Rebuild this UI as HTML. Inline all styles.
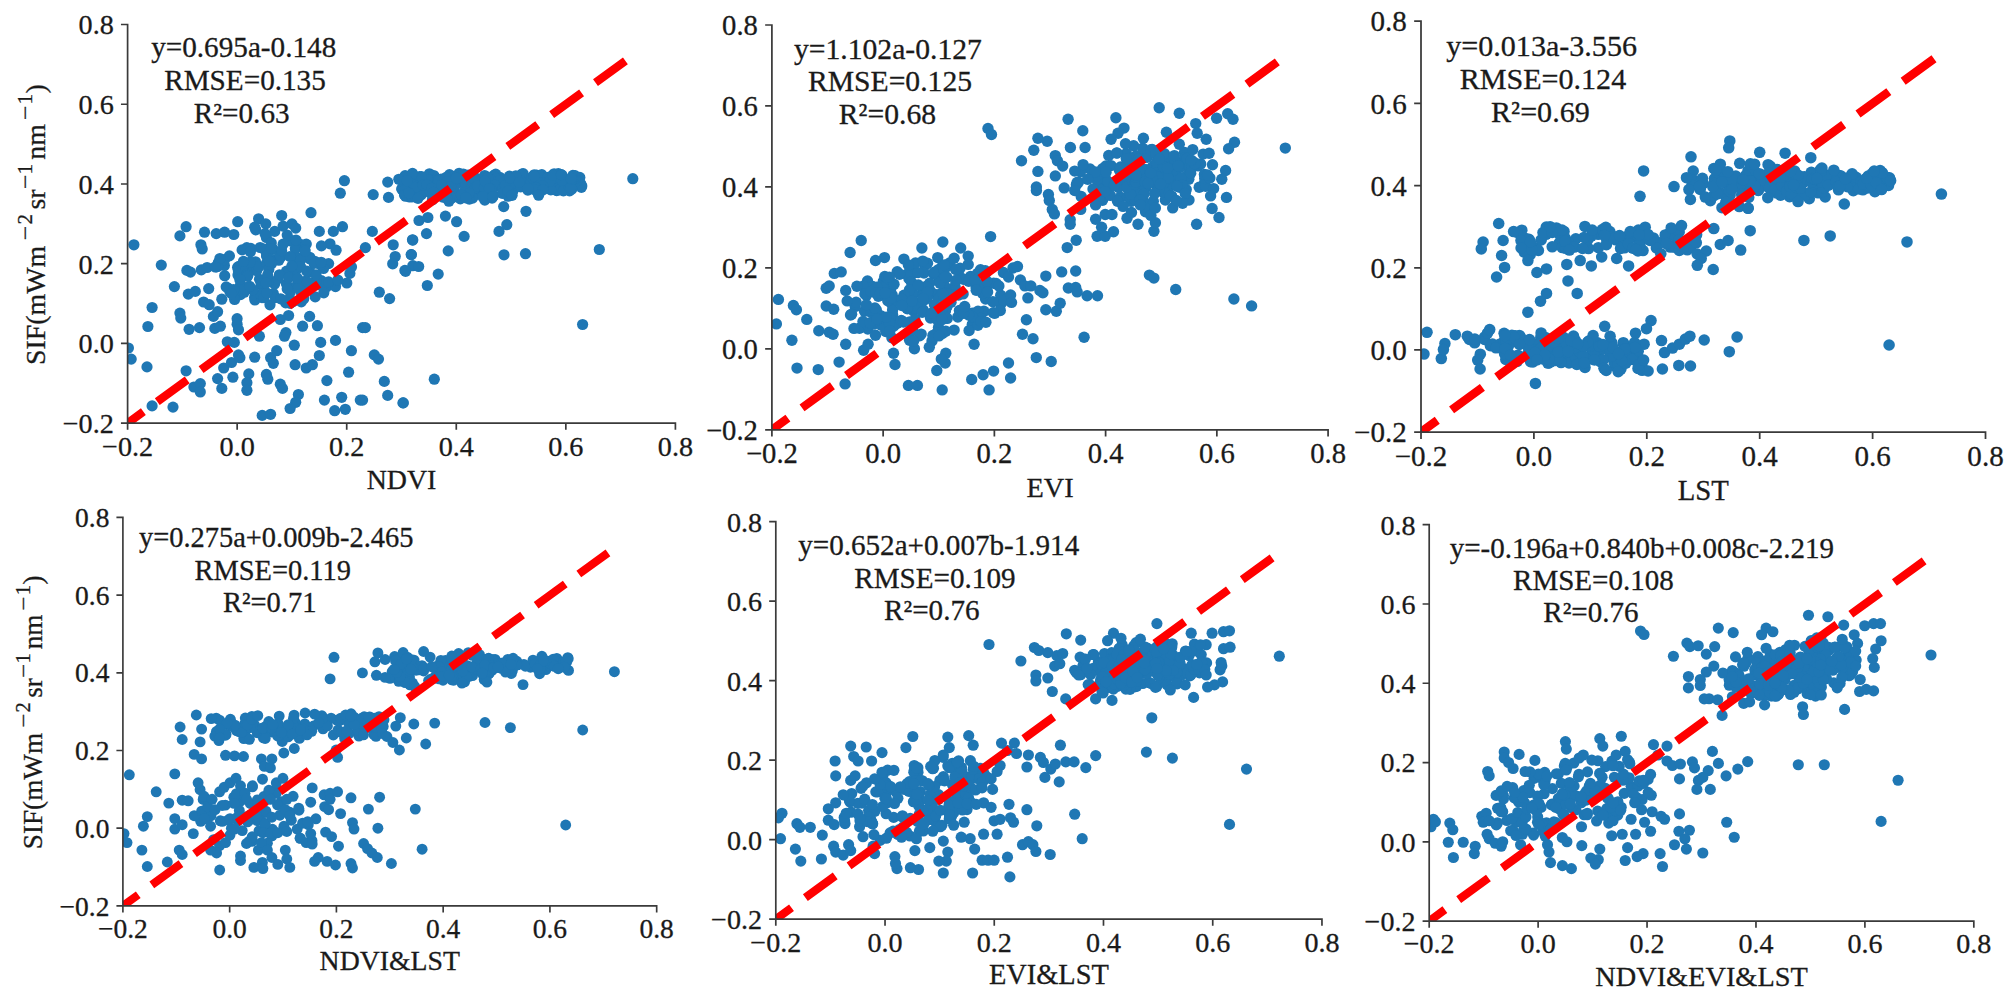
<!DOCTYPE html>
<html lang="en"><head><meta charset="utf-8"><title>SIF regression scatter plots</title>
<style>
html,body{margin:0;padding:0;background:#fff;}
body{width:2008px;height:1004px;overflow:hidden;}
svg{display:block;font-family:'Liberation Serif', 'Times New Roman', serif;fill:#1a1a1a;}
text{stroke:#1a1a1a;stroke-width:0.3px;}
</style></head><body>
<svg width="2008" height="1004" viewBox="0 0 2008 1004">
<rect width="2008" height="1004" fill="#fff"/>
<!-- panel 1 -->
<clipPath id="c0"><rect x="127.60" y="24.50" width="587.80" height="398.70"/></clipPath>
<g fill="#1f77b4" clip-path="url(#c0)"><circle cx="254.6" cy="297.4" r="5.60"/><circle cx="270.7" cy="260.7" r="5.60"/><circle cx="238.0" cy="275.0" r="5.60"/><circle cx="330.0" cy="243.8" r="5.60"/><circle cx="246.8" cy="247.6" r="5.60"/><circle cx="297.7" cy="245.7" r="5.60"/><circle cx="291.5" cy="240.7" r="5.60"/><circle cx="328.6" cy="263.6" r="5.60"/><circle cx="216.3" cy="266.9" r="5.60"/><circle cx="273.3" cy="293.5" r="5.60"/><circle cx="317.4" cy="284.7" r="5.60"/><circle cx="289.0" cy="274.4" r="5.60"/><circle cx="301.4" cy="292.5" r="5.60"/><circle cx="349.9" cy="273.4" r="5.60"/><circle cx="274.6" cy="284.0" r="5.60"/><circle cx="295.8" cy="259.7" r="5.60"/><circle cx="275.5" cy="259.6" r="5.60"/><circle cx="289.1" cy="273.4" r="5.60"/><circle cx="290.7" cy="288.7" r="5.60"/><circle cx="301.1" cy="244.7" r="5.60"/><circle cx="268.1" cy="252.1" r="5.60"/><circle cx="290.2" cy="240.8" r="5.60"/><circle cx="326.4" cy="287.0" r="5.60"/><circle cx="266.4" cy="237.5" r="5.60"/><circle cx="237.6" cy="267.4" r="5.60"/><circle cx="266.5" cy="253.0" r="5.60"/><circle cx="351.5" cy="267.0" r="5.60"/><circle cx="268.8" cy="280.8" r="5.60"/><circle cx="278.8" cy="260.2" r="5.60"/><circle cx="335.5" cy="286.6" r="5.60"/><circle cx="295.3" cy="248.7" r="5.60"/><circle cx="240.5" cy="294.6" r="5.60"/><circle cx="260.1" cy="247.5" r="5.60"/><circle cx="273.1" cy="249.3" r="5.60"/><circle cx="224.4" cy="265.5" r="5.60"/><circle cx="305.0" cy="281.3" r="5.60"/><circle cx="323.8" cy="292.8" r="5.60"/><circle cx="287.2" cy="235.1" r="5.60"/><circle cx="290.2" cy="303.4" r="5.60"/><circle cx="264.0" cy="249.0" r="5.60"/><circle cx="240.6" cy="284.2" r="5.60"/><circle cx="256.0" cy="268.4" r="5.60"/><circle cx="218.3" cy="262.8" r="5.60"/><circle cx="321.4" cy="280.7" r="5.60"/><circle cx="346.8" cy="283.0" r="5.60"/><circle cx="293.3" cy="275.7" r="5.60"/><circle cx="266.7" cy="256.3" r="5.60"/><circle cx="336.1" cy="250.2" r="5.60"/><circle cx="281.0" cy="256.7" r="5.60"/><circle cx="266.8" cy="255.9" r="5.60"/><circle cx="244.2" cy="292.2" r="5.60"/><circle cx="286.5" cy="283.9" r="5.60"/><circle cx="228.4" cy="288.4" r="5.60"/><circle cx="255.7" cy="268.7" r="5.60"/><circle cx="296.0" cy="240.0" r="5.60"/><circle cx="244.7" cy="289.0" r="5.60"/><circle cx="304.3" cy="256.0" r="5.60"/><circle cx="224.7" cy="275.7" r="5.60"/><circle cx="238.8" cy="266.4" r="5.60"/><circle cx="315.2" cy="296.9" r="5.60"/><circle cx="290.3" cy="292.3" r="5.60"/><circle cx="286.5" cy="271.1" r="5.60"/><circle cx="295.8" cy="270.4" r="5.60"/><circle cx="230.0" cy="291.8" r="5.60"/><circle cx="254.9" cy="300.0" r="5.60"/><circle cx="278.2" cy="278.6" r="5.60"/><circle cx="270.0" cy="304.8" r="5.60"/><circle cx="255.5" cy="261.8" r="5.60"/><circle cx="301.3" cy="301.8" r="5.60"/><circle cx="297.3" cy="284.7" r="5.60"/><circle cx="323.5" cy="268.5" r="5.60"/><circle cx="226.2" cy="286.9" r="5.60"/><circle cx="321.4" cy="245.9" r="5.60"/><circle cx="328.6" cy="281.9" r="5.60"/><circle cx="309.9" cy="272.1" r="5.60"/><circle cx="275.3" cy="297.6" r="5.60"/><circle cx="288.7" cy="299.4" r="5.60"/><circle cx="259.5" cy="279.3" r="5.60"/><circle cx="309.6" cy="258.7" r="5.60"/><circle cx="316.1" cy="280.5" r="5.60"/><circle cx="217.6" cy="266.5" r="5.60"/><circle cx="306.3" cy="244.1" r="5.60"/><circle cx="261.2" cy="285.0" r="5.60"/><circle cx="287.2" cy="288.8" r="5.60"/><circle cx="224.6" cy="259.6" r="5.60"/><circle cx="304.8" cy="249.7" r="5.60"/><circle cx="298.7" cy="284.9" r="5.60"/><circle cx="314.8" cy="261.3" r="5.60"/><circle cx="303.7" cy="298.7" r="5.60"/><circle cx="285.7" cy="302.9" r="5.60"/><circle cx="257.9" cy="267.9" r="5.60"/><circle cx="238.4" cy="270.9" r="5.60"/><circle cx="262.0" cy="297.6" r="5.60"/><circle cx="337.8" cy="280.0" r="5.60"/><circle cx="293.0" cy="301.5" r="5.60"/><circle cx="229.4" cy="255.9" r="5.60"/><circle cx="316.0" cy="274.8" r="5.60"/><circle cx="309.8" cy="257.3" r="5.60"/><circle cx="256.6" cy="270.8" r="5.60"/><circle cx="242.1" cy="249.9" r="5.60"/><circle cx="261.3" cy="283.9" r="5.60"/><circle cx="260.6" cy="294.4" r="5.60"/><circle cx="219.9" cy="258.5" r="5.60"/><circle cx="258.7" cy="266.4" r="5.60"/><circle cx="305.8" cy="289.6" r="5.60"/><circle cx="264.0" cy="297.6" r="5.60"/><circle cx="279.4" cy="274.8" r="5.60"/><circle cx="271.3" cy="242.9" r="5.60"/><circle cx="320.4" cy="264.7" r="5.60"/><circle cx="283.1" cy="226.1" r="5.60"/><circle cx="201.3" cy="269.9" r="5.60"/><circle cx="255.8" cy="229.9" r="5.60"/><circle cx="271.4" cy="263.8" r="5.60"/><circle cx="246.2" cy="269.1" r="5.60"/><circle cx="266.5" cy="263.3" r="5.60"/><circle cx="288.9" cy="277.3" r="5.60"/><circle cx="250.2" cy="262.2" r="5.60"/><circle cx="314.1" cy="263.4" r="5.60"/><circle cx="280.1" cy="255.2" r="5.60"/><circle cx="247.2" cy="274.1" r="5.60"/><circle cx="190.5" cy="272.1" r="5.60"/><circle cx="207.1" cy="267.5" r="5.60"/><circle cx="298.8" cy="287.7" r="5.60"/><circle cx="298.0" cy="257.8" r="5.60"/><circle cx="252.7" cy="289.9" r="5.60"/><circle cx="300.5" cy="260.3" r="5.60"/><circle cx="268.8" cy="269.4" r="5.60"/><circle cx="215.3" cy="267.0" r="5.60"/><circle cx="290.0" cy="256.5" r="5.60"/><circle cx="281.6" cy="250.8" r="5.60"/><circle cx="266.7" cy="292.9" r="5.60"/><circle cx="305.1" cy="251.1" r="5.60"/><circle cx="234.6" cy="299.5" r="5.60"/><circle cx="267.6" cy="275.2" r="5.60"/><circle cx="266.1" cy="283.0" r="5.60"/><circle cx="321.2" cy="262.3" r="5.60"/><circle cx="247.8" cy="275.3" r="5.60"/><circle cx="247.5" cy="276.3" r="5.60"/><circle cx="288.6" cy="315.5" r="5.60"/><circle cx="250.8" cy="248.4" r="5.60"/><circle cx="297.5" cy="278.4" r="5.60"/><circle cx="307.4" cy="282.1" r="5.60"/><circle cx="269.4" cy="261.3" r="5.60"/><circle cx="300.5" cy="266.6" r="5.60"/><circle cx="250.4" cy="251.7" r="5.60"/><circle cx="239.8" cy="279.4" r="5.60"/><circle cx="249.6" cy="286.3" r="5.60"/><circle cx="306.6" cy="271.1" r="5.60"/><circle cx="291.8" cy="266.2" r="5.60"/><circle cx="283.1" cy="244.2" r="5.60"/><circle cx="258.6" cy="218.8" r="5.60"/><circle cx="280.7" cy="298.8" r="5.60"/><circle cx="243.5" cy="261.3" r="5.60"/><circle cx="233.7" cy="289.6" r="5.60"/><circle cx="271.4" cy="248.5" r="5.60"/><circle cx="459.1" cy="173.3" r="5.60"/><circle cx="467.5" cy="177.8" r="5.60"/><circle cx="475.0" cy="188.3" r="5.60"/><circle cx="470.2" cy="183.3" r="5.60"/><circle cx="435.8" cy="184.7" r="5.60"/><circle cx="491.2" cy="178.9" r="5.60"/><circle cx="450.5" cy="177.4" r="5.60"/><circle cx="430.3" cy="192.9" r="5.60"/><circle cx="484.7" cy="175.5" r="5.60"/><circle cx="480.9" cy="187.3" r="5.60"/><circle cx="479.8" cy="184.9" r="5.60"/><circle cx="493.5" cy="175.6" r="5.60"/><circle cx="474.7" cy="194.8" r="5.60"/><circle cx="432.9" cy="192.5" r="5.60"/><circle cx="433.4" cy="191.7" r="5.60"/><circle cx="447.6" cy="185.6" r="5.60"/><circle cx="455.2" cy="192.5" r="5.60"/><circle cx="492.5" cy="183.8" r="5.60"/><circle cx="449.5" cy="192.8" r="5.60"/><circle cx="419.6" cy="176.7" r="5.60"/><circle cx="472.4" cy="177.6" r="5.60"/><circle cx="410.4" cy="194.4" r="5.60"/><circle cx="475.2" cy="177.6" r="5.60"/><circle cx="419.2" cy="180.9" r="5.60"/><circle cx="411.0" cy="187.5" r="5.60"/><circle cx="429.4" cy="173.8" r="5.60"/><circle cx="405.1" cy="175.7" r="5.60"/><circle cx="451.3" cy="195.0" r="5.60"/><circle cx="493.2" cy="196.0" r="5.60"/><circle cx="441.1" cy="194.9" r="5.60"/><circle cx="469.7" cy="194.5" r="5.60"/><circle cx="422.3" cy="179.6" r="5.60"/><circle cx="433.8" cy="175.5" r="5.60"/><circle cx="432.4" cy="180.1" r="5.60"/><circle cx="405.3" cy="186.0" r="5.60"/><circle cx="401.9" cy="189.2" r="5.60"/><circle cx="429.0" cy="179.6" r="5.60"/><circle cx="443.6" cy="180.6" r="5.60"/><circle cx="406.2" cy="184.3" r="5.60"/><circle cx="421.2" cy="194.9" r="5.60"/><circle cx="468.8" cy="185.4" r="5.60"/><circle cx="417.2" cy="180.5" r="5.60"/><circle cx="440.7" cy="192.6" r="5.60"/><circle cx="482.9" cy="187.5" r="5.60"/><circle cx="427.8" cy="179.6" r="5.60"/><circle cx="488.3" cy="183.5" r="5.60"/><circle cx="468.4" cy="195.4" r="5.60"/><circle cx="413.7" cy="185.0" r="5.60"/><circle cx="465.1" cy="189.7" r="5.60"/><circle cx="424.3" cy="190.7" r="5.60"/><circle cx="408.0" cy="186.1" r="5.60"/><circle cx="462.5" cy="182.1" r="5.60"/><circle cx="431.8" cy="186.6" r="5.60"/><circle cx="416.5" cy="190.1" r="5.60"/><circle cx="444.6" cy="179.0" r="5.60"/><circle cx="468.3" cy="175.2" r="5.60"/><circle cx="405.6" cy="196.2" r="5.60"/><circle cx="472.7" cy="196.0" r="5.60"/><circle cx="492.5" cy="194.8" r="5.60"/><circle cx="430.4" cy="192.2" r="5.60"/><circle cx="444.4" cy="194.2" r="5.60"/><circle cx="401.9" cy="188.8" r="5.60"/><circle cx="421.5" cy="176.6" r="5.60"/><circle cx="441.2" cy="179.0" r="5.60"/><circle cx="452.9" cy="176.4" r="5.60"/><circle cx="409.0" cy="196.8" r="5.60"/><circle cx="464.6" cy="175.3" r="5.60"/><circle cx="433.1" cy="188.9" r="5.60"/><circle cx="455.1" cy="184.9" r="5.60"/><circle cx="471.6" cy="196.0" r="5.60"/><circle cx="415.1" cy="187.4" r="5.60"/><circle cx="438.0" cy="180.2" r="5.60"/><circle cx="450.6" cy="184.2" r="5.60"/><circle cx="490.3" cy="191.5" r="5.60"/><circle cx="484.0" cy="191.4" r="5.60"/><circle cx="481.9" cy="178.9" r="5.60"/><circle cx="438.7" cy="180.7" r="5.60"/><circle cx="483.5" cy="185.6" r="5.60"/><circle cx="494.5" cy="186.6" r="5.60"/><circle cx="486.2" cy="183.3" r="5.60"/><circle cx="446.2" cy="197.8" r="5.60"/><circle cx="436.0" cy="191.6" r="5.60"/><circle cx="412.5" cy="173.4" r="5.60"/><circle cx="404.5" cy="190.3" r="5.60"/><circle cx="443.7" cy="186.2" r="5.60"/><circle cx="449.5" cy="174.6" r="5.60"/><circle cx="442.7" cy="197.1" r="5.60"/><circle cx="474.1" cy="178.9" r="5.60"/><circle cx="422.9" cy="185.0" r="5.60"/><circle cx="448.9" cy="201.2" r="5.60"/><circle cx="478.7" cy="188.0" r="5.60"/><circle cx="450.8" cy="186.8" r="5.60"/><circle cx="468.4" cy="195.9" r="5.60"/><circle cx="475.3" cy="187.9" r="5.60"/><circle cx="454.7" cy="186.3" r="5.60"/><circle cx="446.3" cy="177.3" r="5.60"/><circle cx="404.5" cy="195.0" r="5.60"/><circle cx="477.5" cy="185.9" r="5.60"/><circle cx="411.7" cy="197.0" r="5.60"/><circle cx="418.0" cy="198.3" r="5.60"/><circle cx="408.7" cy="193.0" r="5.60"/><circle cx="427.0" cy="184.6" r="5.60"/><circle cx="455.2" cy="179.1" r="5.60"/><circle cx="472.6" cy="198.1" r="5.60"/><circle cx="459.8" cy="177.1" r="5.60"/><circle cx="469.3" cy="199.1" r="5.60"/><circle cx="431.8" cy="188.3" r="5.60"/><circle cx="447.1" cy="181.6" r="5.60"/><circle cx="463.4" cy="174.0" r="5.60"/><circle cx="441.6" cy="185.0" r="5.60"/><circle cx="530.1" cy="183.7" r="5.60"/><circle cx="545.9" cy="181.3" r="5.60"/><circle cx="501.8" cy="185.8" r="5.60"/><circle cx="555.2" cy="179.1" r="5.60"/><circle cx="561.8" cy="175.1" r="5.60"/><circle cx="511.3" cy="181.9" r="5.60"/><circle cx="519.5" cy="182.5" r="5.60"/><circle cx="503.3" cy="188.9" r="5.60"/><circle cx="495.7" cy="174.1" r="5.60"/><circle cx="501.3" cy="181.1" r="5.60"/><circle cx="558.4" cy="173.7" r="5.60"/><circle cx="555.3" cy="176.3" r="5.60"/><circle cx="510.9" cy="183.8" r="5.60"/><circle cx="538.8" cy="190.9" r="5.60"/><circle cx="537.0" cy="177.8" r="5.60"/><circle cx="520.3" cy="186.2" r="5.60"/><circle cx="512.2" cy="187.1" r="5.60"/><circle cx="581.4" cy="187.3" r="5.60"/><circle cx="537.7" cy="182.5" r="5.60"/><circle cx="556.6" cy="190.6" r="5.60"/><circle cx="580.7" cy="183.7" r="5.60"/><circle cx="569.1" cy="187.9" r="5.60"/><circle cx="514.9" cy="176.6" r="5.60"/><circle cx="578.1" cy="181.7" r="5.60"/><circle cx="499.8" cy="177.3" r="5.60"/><circle cx="535.8" cy="187.4" r="5.60"/><circle cx="508.6" cy="190.4" r="5.60"/><circle cx="501.0" cy="184.5" r="5.60"/><circle cx="552.2" cy="182.4" r="5.60"/><circle cx="536.6" cy="175.2" r="5.60"/><circle cx="524.3" cy="177.4" r="5.60"/><circle cx="522.0" cy="174.0" r="5.60"/><circle cx="554.1" cy="173.8" r="5.60"/><circle cx="564.0" cy="189.9" r="5.60"/><circle cx="503.5" cy="187.1" r="5.60"/><circle cx="485.5" cy="176.6" r="5.60"/><circle cx="534.1" cy="175.5" r="5.60"/><circle cx="501.6" cy="179.8" r="5.60"/><circle cx="576.2" cy="184.1" r="5.60"/><circle cx="527.1" cy="183.0" r="5.60"/><circle cx="560.0" cy="189.0" r="5.60"/><circle cx="523.2" cy="173.7" r="5.60"/><circle cx="562.2" cy="176.3" r="5.60"/><circle cx="527.8" cy="190.1" r="5.60"/><circle cx="581.8" cy="186.0" r="5.60"/><circle cx="557.2" cy="182.6" r="5.60"/><circle cx="543.6" cy="187.5" r="5.60"/><circle cx="579.8" cy="177.4" r="5.60"/><circle cx="494.8" cy="176.9" r="5.60"/><circle cx="555.0" cy="178.4" r="5.60"/><circle cx="495.2" cy="178.4" r="5.60"/><circle cx="570.8" cy="180.7" r="5.60"/><circle cx="499.5" cy="180.7" r="5.60"/><circle cx="534.2" cy="174.8" r="5.60"/><circle cx="485.1" cy="190.9" r="5.60"/><circle cx="574.0" cy="177.7" r="5.60"/><circle cx="568.9" cy="185.1" r="5.60"/><circle cx="512.9" cy="191.0" r="5.60"/><circle cx="541.8" cy="174.6" r="5.60"/><circle cx="568.1" cy="180.9" r="5.60"/><circle cx="530.7" cy="187.0" r="5.60"/><circle cx="505.3" cy="188.3" r="5.60"/><circle cx="572.9" cy="175.4" r="5.60"/><circle cx="575.0" cy="175.6" r="5.60"/><circle cx="490.3" cy="179.3" r="5.60"/><circle cx="540.3" cy="176.2" r="5.60"/><circle cx="543.5" cy="183.7" r="5.60"/><circle cx="509.8" cy="186.4" r="5.60"/><circle cx="576.9" cy="180.8" r="5.60"/><circle cx="559.4" cy="189.8" r="5.60"/><circle cx="539.7" cy="182.5" r="5.60"/><circle cx="575.2" cy="181.7" r="5.60"/><circle cx="569.6" cy="190.8" r="5.60"/><circle cx="531.9" cy="177.4" r="5.60"/><circle cx="486.3" cy="177.7" r="5.60"/><circle cx="548.1" cy="177.4" r="5.60"/><circle cx="530.3" cy="188.9" r="5.60"/><circle cx="487.3" cy="182.4" r="5.60"/><circle cx="565.0" cy="184.0" r="5.60"/><circle cx="487.8" cy="178.0" r="5.60"/><circle cx="563.4" cy="190.8" r="5.60"/><circle cx="534.1" cy="176.0" r="5.60"/><circle cx="494.6" cy="185.1" r="5.60"/><circle cx="571.9" cy="189.0" r="5.60"/><circle cx="520.4" cy="184.1" r="5.60"/><circle cx="484.4" cy="188.0" r="5.60"/><circle cx="502.7" cy="188.9" r="5.60"/><circle cx="523.8" cy="184.2" r="5.60"/><circle cx="574.7" cy="179.3" r="5.60"/><circle cx="550.8" cy="189.9" r="5.60"/><circle cx="573.3" cy="179.2" r="5.60"/><circle cx="509.4" cy="176.1" r="5.60"/><circle cx="549.9" cy="181.2" r="5.60"/><circle cx="553.0" cy="175.2" r="5.60"/><circle cx="542.7" cy="185.7" r="5.60"/><circle cx="569.4" cy="187.5" r="5.60"/><circle cx="514.9" cy="178.4" r="5.60"/><circle cx="520.4" cy="180.8" r="5.60"/><circle cx="505.4" cy="185.4" r="5.60"/><circle cx="570.7" cy="187.7" r="5.60"/><circle cx="515.8" cy="175.9" r="5.60"/><circle cx="561.9" cy="180.3" r="5.60"/><circle cx="535.9" cy="187.9" r="5.60"/><circle cx="509.7" cy="178.1" r="5.60"/><circle cx="561.4" cy="174.6" r="5.60"/><circle cx="572.0" cy="179.3" r="5.60"/><circle cx="535.2" cy="190.0" r="5.60"/><circle cx="571.0" cy="178.4" r="5.60"/><circle cx="520.7" cy="186.9" r="5.60"/><circle cx="519.3" cy="182.4" r="5.60"/><circle cx="484.8" cy="200.1" r="5.60"/><circle cx="490.9" cy="189.0" r="5.60"/><circle cx="450.7" cy="186.5" r="5.60"/><circle cx="492.1" cy="198.1" r="5.60"/><circle cx="469.2" cy="193.3" r="5.60"/><circle cx="485.0" cy="181.1" r="5.60"/><circle cx="528.1" cy="188.5" r="5.60"/><circle cx="456.4" cy="178.2" r="5.60"/><circle cx="433.5" cy="192.3" r="5.60"/><circle cx="508.1" cy="196.2" r="5.60"/><circle cx="452.3" cy="197.9" r="5.60"/><circle cx="460.3" cy="198.8" r="5.60"/><circle cx="491.3" cy="196.7" r="5.60"/><circle cx="461.4" cy="194.8" r="5.60"/><circle cx="489.4" cy="188.5" r="5.60"/><circle cx="502.3" cy="193.4" r="5.60"/><circle cx="543.0" cy="189.9" r="5.60"/><circle cx="446.0" cy="193.5" r="5.60"/><circle cx="508.1" cy="191.1" r="5.60"/><circle cx="482.8" cy="196.7" r="5.60"/><circle cx="492.8" cy="196.6" r="5.60"/><circle cx="447.0" cy="198.1" r="5.60"/><circle cx="432.5" cy="199.7" r="5.60"/><circle cx="512.1" cy="195.3" r="5.60"/><circle cx="465.9" cy="197.8" r="5.60"/><circle cx="133.9" cy="244.8" r="5.60"/><circle cx="161.3" cy="265.1" r="5.60"/><circle cx="174.4" cy="286.6" r="5.60"/><circle cx="186.9" cy="270.4" r="5.60"/><circle cx="186.1" cy="226.7" r="5.60"/><circle cx="179.9" cy="235.9" r="5.60"/><circle cx="152.1" cy="307.5" r="5.60"/><circle cx="147.9" cy="326.5" r="5.60"/><circle cx="128.4" cy="348.0" r="5.60"/><circle cx="131.2" cy="359.1" r="5.60"/><circle cx="147.0" cy="366.9" r="5.60"/><circle cx="186.1" cy="370.8" r="5.60"/><circle cx="152.1" cy="405.9" r="5.60"/><circle cx="173.0" cy="407.1" r="5.60"/><circle cx="193.9" cy="387.0" r="5.60"/><circle cx="200.3" cy="383.6" r="5.60"/><circle cx="200.3" cy="392.0" r="5.60"/><circle cx="179.9" cy="313.1" r="5.60"/><circle cx="180.8" cy="318.1" r="5.60"/><circle cx="188.3" cy="294.1" r="5.60"/><circle cx="195.3" cy="291.4" r="5.60"/><circle cx="189.1" cy="329.3" r="5.60"/><circle cx="199.5" cy="327.6" r="5.60"/><circle cx="208.7" cy="288.6" r="5.60"/><circle cx="203.6" cy="302.0" r="5.60"/><circle cx="209.2" cy="304.7" r="5.60"/><circle cx="213.4" cy="316.4" r="5.60"/><circle cx="217.6" cy="311.7" r="5.60"/><circle cx="214.8" cy="328.4" r="5.60"/><circle cx="220.4" cy="326.2" r="5.60"/><circle cx="221.8" cy="299.2" r="5.60"/><circle cx="231.5" cy="293.6" r="5.60"/><circle cx="204.5" cy="232.2" r="5.60"/><circle cx="200.9" cy="244.8" r="5.60"/><circle cx="202.2" cy="249.0" r="5.60"/><circle cx="216.2" cy="233.6" r="5.60"/><circle cx="224.6" cy="232.2" r="5.60"/><circle cx="233.8" cy="234.5" r="5.60"/><circle cx="237.7" cy="221.7" r="5.60"/><circle cx="254.7" cy="227.2" r="5.60"/><circle cx="265.8" cy="223.9" r="5.60"/><circle cx="274.7" cy="231.4" r="5.60"/><circle cx="265.0" cy="233.6" r="5.60"/><circle cx="281.7" cy="215.5" r="5.60"/><circle cx="292.0" cy="223.9" r="5.60"/><circle cx="295.7" cy="228.1" r="5.60"/><circle cx="311.0" cy="212.7" r="5.60"/><circle cx="319.3" cy="231.4" r="5.60"/><circle cx="333.3" cy="231.4" r="5.60"/><circle cx="342.5" cy="226.7" r="5.60"/><circle cx="344.4" cy="180.7" r="5.60"/><circle cx="340.3" cy="193.2" r="5.60"/><circle cx="373.2" cy="194.6" r="5.60"/><circle cx="387.7" cy="182.1" r="5.60"/><circle cx="388.5" cy="197.4" r="5.60"/><circle cx="398.8" cy="179.3" r="5.60"/><circle cx="407.2" cy="180.7" r="5.60"/><circle cx="372.3" cy="231.4" r="5.60"/><circle cx="365.4" cy="247.6" r="5.60"/><circle cx="412.8" cy="240.1" r="5.60"/><circle cx="393.2" cy="244.8" r="5.60"/><circle cx="395.2" cy="256.5" r="5.60"/><circle cx="392.7" cy="263.8" r="5.60"/><circle cx="411.4" cy="254.6" r="5.60"/><circle cx="404.9" cy="270.4" r="5.60"/><circle cx="412.8" cy="265.7" r="5.60"/><circle cx="379.3" cy="292.2" r="5.60"/><circle cx="389.6" cy="298.6" r="5.60"/><circle cx="362.6" cy="327.6" r="5.60"/><circle cx="365.4" cy="327.6" r="5.60"/><circle cx="335.5" cy="340.4" r="5.60"/><circle cx="320.7" cy="342.4" r="5.60"/><circle cx="319.3" cy="355.5" r="5.60"/><circle cx="351.4" cy="350.7" r="5.60"/><circle cx="374.3" cy="354.9" r="5.60"/><circle cx="378.5" cy="359.1" r="5.60"/><circle cx="348.6" cy="372.2" r="5.60"/><circle cx="326.9" cy="380.6" r="5.60"/><circle cx="384.3" cy="381.4" r="5.60"/><circle cx="387.7" cy="395.4" r="5.60"/><circle cx="403.0" cy="402.9" r="5.60"/><circle cx="360.3" cy="400.1" r="5.60"/><circle cx="362.6" cy="400.1" r="5.60"/><circle cx="341.7" cy="397.3" r="5.60"/><circle cx="324.4" cy="400.1" r="5.60"/><circle cx="334.7" cy="410.7" r="5.60"/><circle cx="345.3" cy="409.3" r="5.60"/><circle cx="298.4" cy="394.5" r="5.60"/><circle cx="295.7" cy="402.3" r="5.60"/><circle cx="290.1" cy="408.5" r="5.60"/><circle cx="262.2" cy="415.4" r="5.60"/><circle cx="270.6" cy="414.3" r="5.60"/><circle cx="280.3" cy="384.2" r="5.60"/><circle cx="282.5" cy="388.4" r="5.60"/><circle cx="266.4" cy="374.4" r="5.60"/><circle cx="267.8" cy="379.2" r="5.60"/><circle cx="248.8" cy="373.9" r="5.60"/><circle cx="246.9" cy="382.8" r="5.60"/><circle cx="246.9" cy="390.3" r="5.60"/><circle cx="232.9" cy="377.2" r="5.60"/><circle cx="221.8" cy="388.4" r="5.60"/><circle cx="217.6" cy="378.6" r="5.60"/><circle cx="223.7" cy="368.0" r="5.60"/><circle cx="231.5" cy="362.5" r="5.60"/><circle cx="239.9" cy="357.7" r="5.60"/><circle cx="238.5" cy="354.9" r="5.60"/><circle cx="254.7" cy="357.2" r="5.60"/><circle cx="270.6" cy="357.7" r="5.60"/><circle cx="273.3" cy="363.3" r="5.60"/><circle cx="276.7" cy="350.7" r="5.60"/><circle cx="294.3" cy="345.2" r="5.60"/><circle cx="295.1" cy="364.7" r="5.60"/><circle cx="306.2" cy="368.0" r="5.60"/><circle cx="312.4" cy="364.7" r="5.60"/><circle cx="285.9" cy="332.6" r="5.60"/><circle cx="284.5" cy="336.2" r="5.60"/><circle cx="302.6" cy="326.2" r="5.60"/><circle cx="309.6" cy="316.4" r="5.60"/><circle cx="317.4" cy="325.7" r="5.60"/><circle cx="280.3" cy="319.5" r="5.60"/><circle cx="259.4" cy="336.2" r="5.60"/><circle cx="237.1" cy="318.7" r="5.60"/><circle cx="237.1" cy="324.3" r="5.60"/><circle cx="238.5" cy="329.8" r="5.60"/><circle cx="227.3" cy="341.8" r="5.60"/><circle cx="234.3" cy="342.4" r="5.60"/><circle cx="632.8" cy="178.7" r="5.60"/><circle cx="599.3" cy="249.5" r="5.60"/><circle cx="582.6" cy="324.5" r="5.60"/><circle cx="434.3" cy="379.2" r="5.60"/><circle cx="403.3" cy="402.9" r="5.60"/><circle cx="525.5" cy="253.7" r="5.60"/><circle cx="504.0" cy="254.8" r="5.60"/><circle cx="448.2" cy="250.9" r="5.60"/><circle cx="464.1" cy="236.4" r="5.60"/><circle cx="499.0" cy="231.4" r="5.60"/><circle cx="506.8" cy="224.7" r="5.60"/><circle cx="526.0" cy="211.3" r="5.60"/><circle cx="456.6" cy="221.7" r="5.60"/><circle cx="445.4" cy="216.1" r="5.60"/><circle cx="426.5" cy="233.6" r="5.60"/><circle cx="412.5" cy="239.8" r="5.60"/><circle cx="411.2" cy="254.6" r="5.60"/><circle cx="418.7" cy="266.5" r="5.60"/><circle cx="405.6" cy="271.3" r="5.60"/><circle cx="438.2" cy="274.1" r="5.60"/><circle cx="427.3" cy="285.5" r="5.60"/><circle cx="419.0" cy="220.5" r="5.60"/><circle cx="427.9" cy="217.5" r="5.60"/><circle cx="538.6" cy="195.2" r="5.60"/><circle cx="503.7" cy="206.6" r="5.60"/></g>
<path d="M113.45 433.50L143.37 411.73M157.27 401.60L187.19 379.83M201.09 369.71L231.01 347.94M244.92 337.81L274.83 316.04M288.74 305.92L318.65 284.15M332.56 274.03L362.48 252.25M376.38 242.13L406.30 220.36M420.21 210.24L450.12 188.46M464.03 178.34L493.94 156.57M507.85 146.45L537.76 124.67M551.67 114.55L581.59 92.78M595.49 82.66L625.41 60.88" stroke="#ff0000" stroke-width="8.30" fill="none" clip-path="url(#c0)"/>
<path d="M127.60 24.50L127.60 423.20L675.40 423.20M127.60 423.20L127.60 429.00M127.60 423.20L121.80 423.20M237.16 423.20L237.16 429.00M127.60 343.46L121.80 343.46M346.72 423.20L346.72 429.00M127.60 263.72L121.80 263.72M456.28 423.20L456.28 429.00M127.60 183.98L121.80 183.98M565.84 423.20L565.84 429.00M127.60 104.24L121.80 104.24M675.40 423.20L675.40 429.00M127.60 24.50L121.80 24.50" stroke="#3a3a3a" stroke-width="1.70" fill="none" stroke-linecap="square"/>
<g font-size="28.20"><text transform="translate(127.60 455.70) scale(1.000 1)" text-anchor="middle">−0.2</text><text transform="translate(113.80 433.10) scale(1.000 1)" text-anchor="end">−0.2</text><text transform="translate(237.16 455.70) scale(1.000 1)" text-anchor="middle">0.0</text><text transform="translate(113.80 353.36) scale(1.000 1)" text-anchor="end">0.0</text><text transform="translate(346.72 455.70) scale(1.000 1)" text-anchor="middle">0.2</text><text transform="translate(113.80 273.62) scale(1.000 1)" text-anchor="end">0.2</text><text transform="translate(456.28 455.70) scale(1.000 1)" text-anchor="middle">0.4</text><text transform="translate(113.80 193.88) scale(1.000 1)" text-anchor="end">0.4</text><text transform="translate(565.84 455.70) scale(1.000 1)" text-anchor="middle">0.6</text><text transform="translate(113.80 114.14) scale(1.000 1)" text-anchor="end">0.6</text><text transform="translate(675.40 455.70) scale(1.000 1)" text-anchor="middle">0.8</text><text transform="translate(113.80 34.40) scale(1.000 1)" text-anchor="end">0.8</text></g>
<text transform="translate(401.50 489.20) scale(1.000 1)" text-anchor="middle" font-size="27.90">NDVI</text>
<text transform="translate(44.60 365.00) rotate(-90)" font-size="27.90">SIF(mWm</text><text transform="translate(32.30 240.20) rotate(-90) scale(1.2 1)" font-size="21.00">−</text><text transform="translate(32.30 224.60) rotate(-90)" font-size="21.00">2</text><text transform="translate(44.60 209.60) rotate(-90)" font-size="27.90">sr</text><text transform="translate(32.30 189.00) rotate(-90) scale(1.2 1)" font-size="21.00">−</text><text transform="translate(32.30 174.40) rotate(-90)" font-size="21.00">1</text><text transform="translate(44.60 159.80) rotate(-90)" font-size="27.90">nm</text><text transform="translate(32.30 120.00) rotate(-90) scale(1.2 1)" font-size="21.00">−</text><text transform="translate(32.30 104.50) rotate(-90)" font-size="21.00">1</text><text transform="translate(44.60 93.40) rotate(-90)" font-size="27.90">)</text>
<text transform="translate(243.70 56.50) scale(1.000 1)" text-anchor="middle" font-size="29.20">y=0.695a-0.148</text>
<text transform="translate(245.00 90.00) scale(1.000 1)" text-anchor="middle" font-size="29.20">RMSE=0.135</text>
<text transform="translate(241.70 122.80) scale(1.000 1)" text-anchor="middle" font-size="29.20">R²=0.63</text>
<!-- panel 2 -->
<clipPath id="c1"><rect x="771.90" y="25.00" width="596.18" height="404.80"/></clipPath>
<g fill="#1f77b4" clip-path="url(#c1)"><circle cx="993.7" cy="283.2" r="5.69"/><circle cx="972.3" cy="324.6" r="5.69"/><circle cx="946.5" cy="306.7" r="5.69"/><circle cx="867.0" cy="285.6" r="5.69"/><circle cx="897.3" cy="323.2" r="5.69"/><circle cx="880.6" cy="315.6" r="5.69"/><circle cx="986.2" cy="286.8" r="5.69"/><circle cx="908.7" cy="336.0" r="5.69"/><circle cx="909.6" cy="340.2" r="5.69"/><circle cx="921.2" cy="334.1" r="5.69"/><circle cx="891.6" cy="303.8" r="5.69"/><circle cx="994.8" cy="313.2" r="5.69"/><circle cx="934.5" cy="304.4" r="5.69"/><circle cx="872.9" cy="287.1" r="5.69"/><circle cx="945.4" cy="310.8" r="5.69"/><circle cx="892.6" cy="314.8" r="5.69"/><circle cx="905.8" cy="306.4" r="5.69"/><circle cx="908.9" cy="278.6" r="5.69"/><circle cx="958.6" cy="295.1" r="5.69"/><circle cx="867.8" cy="329.1" r="5.69"/><circle cx="921.2" cy="302.9" r="5.69"/><circle cx="948.1" cy="265.8" r="5.69"/><circle cx="969.1" cy="330.6" r="5.69"/><circle cx="985.6" cy="299.0" r="5.69"/><circle cx="963.1" cy="293.9" r="5.69"/><circle cx="946.8" cy="277.2" r="5.69"/><circle cx="985.3" cy="270.7" r="5.69"/><circle cx="957.8" cy="317.0" r="5.69"/><circle cx="940.4" cy="295.7" r="5.69"/><circle cx="889.7" cy="281.2" r="5.69"/><circle cx="920.9" cy="306.7" r="5.69"/><circle cx="996.1" cy="283.4" r="5.69"/><circle cx="947.4" cy="289.5" r="5.69"/><circle cx="893.9" cy="326.0" r="5.69"/><circle cx="946.1" cy="318.0" r="5.69"/><circle cx="946.8" cy="307.0" r="5.69"/><circle cx="955.0" cy="286.2" r="5.69"/><circle cx="892.6" cy="309.9" r="5.69"/><circle cx="986.0" cy="272.7" r="5.69"/><circle cx="864.5" cy="311.2" r="5.69"/><circle cx="938.5" cy="327.4" r="5.69"/><circle cx="959.4" cy="310.5" r="5.69"/><circle cx="890.7" cy="288.9" r="5.69"/><circle cx="871.3" cy="312.5" r="5.69"/><circle cx="954.1" cy="330.1" r="5.69"/><circle cx="980.5" cy="269.7" r="5.69"/><circle cx="930.5" cy="318.0" r="5.69"/><circle cx="924.9" cy="265.4" r="5.69"/><circle cx="977.9" cy="325.3" r="5.69"/><circle cx="941.7" cy="293.3" r="5.69"/><circle cx="943.1" cy="309.2" r="5.69"/><circle cx="927.5" cy="263.3" r="5.69"/><circle cx="949.6" cy="263.0" r="5.69"/><circle cx="872.3" cy="310.1" r="5.69"/><circle cx="970.5" cy="276.5" r="5.69"/><circle cx="941.7" cy="306.3" r="5.69"/><circle cx="855.2" cy="306.4" r="5.69"/><circle cx="945.8" cy="331.2" r="5.69"/><circle cx="927.7" cy="290.8" r="5.69"/><circle cx="885.8" cy="331.6" r="5.69"/><circle cx="960.7" cy="277.8" r="5.69"/><circle cx="922.7" cy="291.4" r="5.69"/><circle cx="866.5" cy="295.2" r="5.69"/><circle cx="983.9" cy="311.3" r="5.69"/><circle cx="924.0" cy="273.1" r="5.69"/><circle cx="1000.8" cy="304.2" r="5.69"/><circle cx="972.3" cy="313.1" r="5.69"/><circle cx="964.1" cy="279.4" r="5.69"/><circle cx="978.0" cy="311.2" r="5.69"/><circle cx="941.8" cy="267.2" r="5.69"/><circle cx="951.0" cy="302.3" r="5.69"/><circle cx="874.1" cy="324.0" r="5.69"/><circle cx="980.6" cy="318.2" r="5.69"/><circle cx="856.1" cy="302.3" r="5.69"/><circle cx="944.6" cy="285.9" r="5.69"/><circle cx="915.5" cy="272.6" r="5.69"/><circle cx="867.5" cy="280.9" r="5.69"/><circle cx="1000.7" cy="295.2" r="5.69"/><circle cx="945.4" cy="309.9" r="5.69"/><circle cx="907.0" cy="274.3" r="5.69"/><circle cx="883.3" cy="281.5" r="5.69"/><circle cx="972.7" cy="317.3" r="5.69"/><circle cx="912.5" cy="330.0" r="5.69"/><circle cx="883.1" cy="288.2" r="5.69"/><circle cx="938.5" cy="269.6" r="5.69"/><circle cx="971.9" cy="316.5" r="5.69"/><circle cx="884.8" cy="276.4" r="5.69"/><circle cx="953.6" cy="294.9" r="5.69"/><circle cx="941.7" cy="274.8" r="5.69"/><circle cx="940.9" cy="274.7" r="5.69"/><circle cx="977.5" cy="273.5" r="5.69"/><circle cx="872.5" cy="286.4" r="5.69"/><circle cx="992.9" cy="301.8" r="5.69"/><circle cx="976.1" cy="287.1" r="5.69"/><circle cx="968.6" cy="315.0" r="5.69"/><circle cx="885.3" cy="322.6" r="5.69"/><circle cx="940.3" cy="294.8" r="5.69"/><circle cx="923.3" cy="310.3" r="5.69"/><circle cx="963.5" cy="313.3" r="5.69"/><circle cx="984.0" cy="283.5" r="5.69"/><circle cx="859.5" cy="328.2" r="5.69"/><circle cx="936.2" cy="294.8" r="5.69"/><circle cx="981.0" cy="321.6" r="5.69"/><circle cx="960.1" cy="268.2" r="5.69"/><circle cx="890.0" cy="317.9" r="5.69"/><circle cx="891.9" cy="337.7" r="5.69"/><circle cx="911.3" cy="273.7" r="5.69"/><circle cx="876.8" cy="287.3" r="5.69"/><circle cx="939.0" cy="280.3" r="5.69"/><circle cx="912.8" cy="300.9" r="5.69"/><circle cx="979.6" cy="272.4" r="5.69"/><circle cx="932.0" cy="341.0" r="5.69"/><circle cx="897.2" cy="271.7" r="5.69"/><circle cx="867.8" cy="325.3" r="5.69"/><circle cx="982.7" cy="293.4" r="5.69"/><circle cx="913.5" cy="311.1" r="5.69"/><circle cx="943.2" cy="307.2" r="5.69"/><circle cx="937.6" cy="310.7" r="5.69"/><circle cx="881.4" cy="325.2" r="5.69"/><circle cx="987.6" cy="291.9" r="5.69"/><circle cx="899.6" cy="274.2" r="5.69"/><circle cx="863.1" cy="286.1" r="5.69"/><circle cx="917.5" cy="303.2" r="5.69"/><circle cx="937.2" cy="332.6" r="5.69"/><circle cx="985.9" cy="322.2" r="5.69"/><circle cx="968.7" cy="281.3" r="5.69"/><circle cx="909.7" cy="321.9" r="5.69"/><circle cx="918.1" cy="272.6" r="5.69"/><circle cx="934.9" cy="313.0" r="5.69"/><circle cx="876.3" cy="320.5" r="5.69"/><circle cx="887.0" cy="277.6" r="5.69"/><circle cx="947.2" cy="318.4" r="5.69"/><circle cx="955.7" cy="269.6" r="5.69"/><circle cx="1000.3" cy="310.5" r="5.69"/><circle cx="974.8" cy="280.4" r="5.69"/><circle cx="986.7" cy="281.3" r="5.69"/><circle cx="863.0" cy="321.5" r="5.69"/><circle cx="942.4" cy="333.4" r="5.69"/><circle cx="1004.1" cy="300.5" r="5.69"/><circle cx="919.7" cy="335.8" r="5.69"/><circle cx="869.8" cy="323.0" r="5.69"/><circle cx="864.9" cy="294.1" r="5.69"/><circle cx="933.6" cy="273.6" r="5.69"/><circle cx="932.9" cy="335.5" r="5.69"/><circle cx="976.2" cy="290.3" r="5.69"/><circle cx="870.8" cy="291.4" r="5.69"/><circle cx="856.9" cy="286.3" r="5.69"/><circle cx="934.2" cy="272.3" r="5.69"/><circle cx="998.9" cy="286.0" r="5.69"/><circle cx="993.3" cy="312.8" r="5.69"/><circle cx="892.2" cy="295.0" r="5.69"/><circle cx="913.4" cy="294.0" r="5.69"/><circle cx="913.7" cy="308.3" r="5.69"/><circle cx="907.4" cy="308.7" r="5.69"/><circle cx="911.3" cy="282.0" r="5.69"/><circle cx="889.4" cy="323.1" r="5.69"/><circle cx="891.0" cy="297.4" r="5.69"/><circle cx="964.7" cy="306.5" r="5.69"/><circle cx="894.0" cy="284.3" r="5.69"/><circle cx="922.8" cy="295.5" r="5.69"/><circle cx="925.0" cy="299.6" r="5.69"/><circle cx="909.5" cy="289.7" r="5.69"/><circle cx="945.5" cy="292.7" r="5.69"/><circle cx="939.0" cy="335.9" r="5.69"/><circle cx="930.7" cy="291.5" r="5.69"/><circle cx="947.4" cy="293.6" r="5.69"/><circle cx="928.3" cy="294.2" r="5.69"/><circle cx="889.9" cy="330.6" r="5.69"/><circle cx="929.7" cy="283.3" r="5.69"/><circle cx="881.5" cy="295.1" r="5.69"/><circle cx="897.7" cy="300.9" r="5.69"/><circle cx="915.5" cy="262.9" r="5.69"/><circle cx="904.0" cy="295.3" r="5.69"/><circle cx="926.1" cy="286.4" r="5.69"/><circle cx="907.2" cy="308.3" r="5.69"/><circle cx="940.0" cy="283.2" r="5.69"/><circle cx="876.3" cy="310.0" r="5.69"/><circle cx="938.5" cy="321.5" r="5.69"/><circle cx="874.9" cy="308.0" r="5.69"/><circle cx="901.3" cy="320.5" r="5.69"/><circle cx="942.8" cy="294.1" r="5.69"/><circle cx="866.4" cy="304.7" r="5.69"/><circle cx="927.4" cy="296.7" r="5.69"/><circle cx="878.3" cy="296.3" r="5.69"/><circle cx="887.8" cy="300.8" r="5.69"/><circle cx="901.8" cy="299.3" r="5.69"/><circle cx="922.2" cy="312.3" r="5.69"/><circle cx="901.9" cy="299.2" r="5.69"/><circle cx="939.3" cy="313.6" r="5.69"/><circle cx="903.5" cy="322.0" r="5.69"/><circle cx="850.5" cy="315.0" r="5.69"/><circle cx="891.1" cy="298.0" r="5.69"/><circle cx="934.8" cy="315.4" r="5.69"/><circle cx="886.1" cy="317.1" r="5.69"/><circle cx="927.4" cy="292.3" r="5.69"/><circle cx="931.5" cy="313.3" r="5.69"/><circle cx="918.3" cy="284.9" r="5.69"/><circle cx="875.7" cy="293.0" r="5.69"/><circle cx="942.3" cy="319.6" r="5.69"/><circle cx="912.1" cy="301.1" r="5.69"/><circle cx="944.2" cy="270.0" r="5.69"/><circle cx="880.4" cy="292.9" r="5.69"/><circle cx="885.1" cy="293.0" r="5.69"/><circle cx="923.3" cy="298.4" r="5.69"/><circle cx="901.9" cy="305.5" r="5.69"/><circle cx="877.2" cy="318.9" r="5.69"/><circle cx="914.9" cy="319.7" r="5.69"/><circle cx="889.3" cy="277.1" r="5.69"/><circle cx="945.3" cy="277.0" r="5.69"/><circle cx="955.7" cy="280.5" r="5.69"/><circle cx="1184.8" cy="189.1" r="5.69"/><circle cx="1145.8" cy="187.4" r="5.69"/><circle cx="1168.1" cy="188.4" r="5.69"/><circle cx="1126.4" cy="153.5" r="5.69"/><circle cx="1146.9" cy="156.7" r="5.69"/><circle cx="1105.9" cy="186.5" r="5.69"/><circle cx="1144.0" cy="169.5" r="5.69"/><circle cx="1100.8" cy="179.7" r="5.69"/><circle cx="1173.9" cy="167.8" r="5.69"/><circle cx="1116.8" cy="152.9" r="5.69"/><circle cx="1163.5" cy="192.4" r="5.69"/><circle cx="1108.3" cy="190.8" r="5.69"/><circle cx="1137.1" cy="193.4" r="5.69"/><circle cx="1207.0" cy="175.7" r="5.69"/><circle cx="1102.5" cy="200.3" r="5.69"/><circle cx="1101.3" cy="197.9" r="5.69"/><circle cx="1107.0" cy="189.2" r="5.69"/><circle cx="1177.4" cy="180.5" r="5.69"/><circle cx="1184.5" cy="152.4" r="5.69"/><circle cx="1128.4" cy="185.1" r="5.69"/><circle cx="1110.3" cy="195.4" r="5.69"/><circle cx="1143.8" cy="180.4" r="5.69"/><circle cx="1139.9" cy="197.4" r="5.69"/><circle cx="1136.3" cy="155.8" r="5.69"/><circle cx="1135.0" cy="193.7" r="5.69"/><circle cx="1204.3" cy="183.7" r="5.69"/><circle cx="1126.9" cy="166.9" r="5.69"/><circle cx="1168.4" cy="182.2" r="5.69"/><circle cx="1171.7" cy="196.1" r="5.69"/><circle cx="1135.2" cy="194.9" r="5.69"/><circle cx="1100.0" cy="197.6" r="5.69"/><circle cx="1164.5" cy="153.8" r="5.69"/><circle cx="1144.7" cy="186.4" r="5.69"/><circle cx="1178.9" cy="178.4" r="5.69"/><circle cx="1161.8" cy="186.6" r="5.69"/><circle cx="1199.2" cy="187.2" r="5.69"/><circle cx="1090.0" cy="168.9" r="5.69"/><circle cx="1186.2" cy="189.6" r="5.69"/><circle cx="1104.8" cy="176.3" r="5.69"/><circle cx="1097.4" cy="190.3" r="5.69"/><circle cx="1152.1" cy="149.4" r="5.69"/><circle cx="1144.4" cy="156.1" r="5.69"/><circle cx="1141.1" cy="175.9" r="5.69"/><circle cx="1166.5" cy="166.1" r="5.69"/><circle cx="1076.4" cy="184.8" r="5.69"/><circle cx="1094.9" cy="174.4" r="5.69"/><circle cx="1131.4" cy="184.0" r="5.69"/><circle cx="1100.0" cy="178.5" r="5.69"/><circle cx="1159.9" cy="152.7" r="5.69"/><circle cx="1198.2" cy="165.9" r="5.69"/><circle cx="1129.3" cy="158.3" r="5.69"/><circle cx="1138.3" cy="172.4" r="5.69"/><circle cx="1165.3" cy="200.0" r="5.69"/><circle cx="1163.3" cy="179.2" r="5.69"/><circle cx="1129.7" cy="165.4" r="5.69"/><circle cx="1154.5" cy="176.0" r="5.69"/><circle cx="1170.3" cy="178.2" r="5.69"/><circle cx="1164.4" cy="158.1" r="5.69"/><circle cx="1145.9" cy="180.4" r="5.69"/><circle cx="1102.5" cy="168.7" r="5.69"/><circle cx="1184.7" cy="157.8" r="5.69"/><circle cx="1080.5" cy="171.7" r="5.69"/><circle cx="1098.8" cy="199.1" r="5.69"/><circle cx="1145.2" cy="203.7" r="5.69"/><circle cx="1105.9" cy="166.0" r="5.69"/><circle cx="1174.5" cy="184.1" r="5.69"/><circle cx="1124.4" cy="166.5" r="5.69"/><circle cx="1120.3" cy="197.3" r="5.69"/><circle cx="1167.5" cy="185.2" r="5.69"/><circle cx="1164.6" cy="192.0" r="5.69"/><circle cx="1108.7" cy="155.4" r="5.69"/><circle cx="1188.8" cy="179.3" r="5.69"/><circle cx="1127.6" cy="196.5" r="5.69"/><circle cx="1187.8" cy="166.3" r="5.69"/><circle cx="1127.3" cy="188.1" r="5.69"/><circle cx="1153.3" cy="201.2" r="5.69"/><circle cx="1159.7" cy="179.0" r="5.69"/><circle cx="1151.9" cy="152.2" r="5.69"/><circle cx="1099.4" cy="196.0" r="5.69"/><circle cx="1081.2" cy="196.5" r="5.69"/><circle cx="1111.0" cy="165.6" r="5.69"/><circle cx="1131.1" cy="201.4" r="5.69"/><circle cx="1099.5" cy="189.2" r="5.69"/><circle cx="1156.9" cy="186.5" r="5.69"/><circle cx="1100.0" cy="177.1" r="5.69"/><circle cx="1146.2" cy="169.8" r="5.69"/><circle cx="1165.9" cy="159.3" r="5.69"/><circle cx="1163.0" cy="183.8" r="5.69"/><circle cx="1178.5" cy="164.5" r="5.69"/><circle cx="1124.7" cy="169.6" r="5.69"/><circle cx="1179.3" cy="167.8" r="5.69"/><circle cx="1192.1" cy="166.4" r="5.69"/><circle cx="1142.6" cy="189.4" r="5.69"/><circle cx="1168.5" cy="177.3" r="5.69"/><circle cx="1116.5" cy="185.1" r="5.69"/><circle cx="1158.8" cy="172.7" r="5.69"/><circle cx="1130.1" cy="197.7" r="5.69"/><circle cx="1096.8" cy="179.7" r="5.69"/><circle cx="1119.4" cy="170.3" r="5.69"/><circle cx="1134.9" cy="199.5" r="5.69"/><circle cx="1108.0" cy="181.8" r="5.69"/><circle cx="1167.9" cy="166.7" r="5.69"/><circle cx="1147.2" cy="157.2" r="5.69"/><circle cx="1126.7" cy="183.5" r="5.69"/><circle cx="1096.8" cy="176.0" r="5.69"/><circle cx="1172.8" cy="179.7" r="5.69"/><circle cx="1119.2" cy="181.1" r="5.69"/><circle cx="1200.7" cy="163.9" r="5.69"/><circle cx="1142.7" cy="148.2" r="5.69"/><circle cx="1186.5" cy="175.7" r="5.69"/><circle cx="1145.5" cy="211.8" r="5.69"/><circle cx="1154.4" cy="165.4" r="5.69"/><circle cx="1134.4" cy="177.5" r="5.69"/><circle cx="1121.4" cy="179.6" r="5.69"/><circle cx="1165.9" cy="176.3" r="5.69"/><circle cx="1078.4" cy="182.2" r="5.69"/><circle cx="1152.9" cy="170.9" r="5.69"/><circle cx="1221.8" cy="179.2" r="5.69"/><circle cx="1120.5" cy="167.0" r="5.69"/><circle cx="1205.6" cy="186.3" r="5.69"/><circle cx="1117.5" cy="201.2" r="5.69"/><circle cx="1193.8" cy="162.3" r="5.69"/><circle cx="1150.9" cy="149.8" r="5.69"/><circle cx="1117.9" cy="185.0" r="5.69"/><circle cx="1141.3" cy="174.7" r="5.69"/><circle cx="1140.8" cy="191.4" r="5.69"/><circle cx="1138.5" cy="159.3" r="5.69"/><circle cx="1139.8" cy="180.5" r="5.69"/><circle cx="1154.9" cy="179.2" r="5.69"/><circle cx="1130.5" cy="194.2" r="5.69"/><circle cx="1136.7" cy="173.7" r="5.69"/><circle cx="1160.0" cy="180.3" r="5.69"/><circle cx="1155.3" cy="169.2" r="5.69"/><circle cx="1118.6" cy="187.5" r="5.69"/><circle cx="1125.6" cy="179.9" r="5.69"/><circle cx="1128.0" cy="181.2" r="5.69"/><circle cx="1165.3" cy="175.5" r="5.69"/><circle cx="1152.4" cy="167.1" r="5.69"/><circle cx="1127.2" cy="186.7" r="5.69"/><circle cx="1213.6" cy="188.6" r="5.69"/><circle cx="1160.9" cy="166.6" r="5.69"/><circle cx="1189.0" cy="200.1" r="5.69"/><circle cx="1106.0" cy="172.2" r="5.69"/><circle cx="1190.7" cy="173.2" r="5.69"/><circle cx="1167.2" cy="166.7" r="5.69"/><circle cx="1170.4" cy="195.9" r="5.69"/><circle cx="1160.5" cy="156.0" r="5.69"/><circle cx="1155.7" cy="154.0" r="5.69"/><circle cx="1204.7" cy="178.5" r="5.69"/><circle cx="1157.2" cy="167.1" r="5.69"/><circle cx="1156.6" cy="162.2" r="5.69"/><circle cx="1152.4" cy="176.5" r="5.69"/><circle cx="1204.4" cy="174.4" r="5.69"/><circle cx="1172.6" cy="174.7" r="5.69"/><circle cx="1167.5" cy="175.8" r="5.69"/><circle cx="1180.8" cy="178.3" r="5.69"/><circle cx="1095.1" cy="172.0" r="5.69"/><circle cx="1133.6" cy="145.7" r="5.69"/><circle cx="1156.1" cy="182.3" r="5.69"/><circle cx="1144.6" cy="206.8" r="5.69"/><circle cx="1194.7" cy="163.8" r="5.69"/><circle cx="1140.4" cy="184.6" r="5.69"/><circle cx="1132.6" cy="181.3" r="5.69"/><circle cx="1126.3" cy="158.6" r="5.69"/><circle cx="1135.1" cy="184.2" r="5.69"/><circle cx="1161.2" cy="174.0" r="5.69"/><circle cx="1163.5" cy="166.7" r="5.69"/><circle cx="1159.1" cy="189.0" r="5.69"/><circle cx="1178.2" cy="164.1" r="5.69"/><circle cx="1179.6" cy="187.3" r="5.69"/><circle cx="1167.9" cy="178.0" r="5.69"/><circle cx="1123.9" cy="175.5" r="5.69"/><circle cx="1154.6" cy="193.5" r="5.69"/><circle cx="1182.1" cy="185.1" r="5.69"/><circle cx="1177.1" cy="186.2" r="5.69"/><circle cx="1162.7" cy="154.7" r="5.69"/><circle cx="1139.2" cy="171.5" r="5.69"/><circle cx="1135.9" cy="182.1" r="5.69"/><circle cx="1209.9" cy="178.1" r="5.69"/><circle cx="1116.9" cy="153.1" r="5.69"/><circle cx="1174.5" cy="159.3" r="5.69"/><circle cx="1150.3" cy="174.1" r="5.69"/><circle cx="1145.9" cy="179.1" r="5.69"/><circle cx="1157.6" cy="176.7" r="5.69"/><circle cx="1142.7" cy="199.4" r="5.69"/><circle cx="1152.0" cy="179.3" r="5.69"/><circle cx="1185.3" cy="193.4" r="5.69"/><circle cx="1182.6" cy="203.3" r="5.69"/><circle cx="1144.7" cy="181.7" r="5.69"/><circle cx="1144.0" cy="193.9" r="5.69"/><circle cx="1132.5" cy="168.4" r="5.69"/><circle cx="1160.5" cy="184.1" r="5.69"/><circle cx="1087.6" cy="179.2" r="5.69"/><circle cx="1135.5" cy="177.1" r="5.69"/><circle cx="1070.4" cy="147.5" r="5.69"/><circle cx="1131.3" cy="173.0" r="5.69"/><circle cx="1159.3" cy="159.0" r="5.69"/><circle cx="1187.3" cy="158.4" r="5.69"/><circle cx="1174.3" cy="155.6" r="5.69"/><circle cx="1093.0" cy="189.0" r="5.69"/><circle cx="1148.2" cy="183.2" r="5.69"/><circle cx="1127.6" cy="174.1" r="5.69"/><circle cx="1135.8" cy="174.9" r="5.69"/><circle cx="1212.5" cy="164.8" r="5.69"/><circle cx="1114.4" cy="185.2" r="5.69"/><circle cx="1140.4" cy="199.7" r="5.69"/><circle cx="1167.6" cy="168.2" r="5.69"/><circle cx="1178.2" cy="165.8" r="5.69"/><circle cx="1150.7" cy="173.1" r="5.69"/><circle cx="1104.8" cy="191.6" r="5.69"/><circle cx="778.4" cy="299.4" r="5.69"/><circle cx="776.4" cy="323.9" r="5.69"/><circle cx="793.4" cy="305.4" r="5.69"/><circle cx="796.4" cy="309.8" r="5.69"/><circle cx="806.8" cy="319.4" r="5.69"/><circle cx="791.9" cy="340.3" r="5.69"/><circle cx="818.8" cy="330.8" r="5.69"/><circle cx="829.2" cy="332.2" r="5.69"/><circle cx="833.1" cy="334.3" r="5.69"/><circle cx="797.0" cy="368.1" r="5.69"/><circle cx="818.2" cy="369.6" r="5.69"/><circle cx="839.1" cy="362.1" r="5.69"/><circle cx="845.7" cy="344.2" r="5.69"/><circle cx="854.0" cy="328.4" r="5.69"/><circle cx="845.1" cy="383.9" r="5.69"/><circle cx="826.2" cy="288.3" r="5.69"/><circle cx="829.2" cy="285.9" r="5.69"/><circle cx="834.3" cy="273.4" r="5.69"/><circle cx="841.2" cy="271.9" r="5.69"/><circle cx="826.2" cy="306.0" r="5.69"/><circle cx="833.7" cy="309.2" r="5.69"/><circle cx="850.1" cy="252.5" r="5.69"/><circle cx="861.2" cy="240.5" r="5.69"/><circle cx="845.7" cy="290.4" r="5.69"/><circle cx="847.2" cy="300.9" r="5.69"/><circle cx="851.6" cy="314.3" r="5.69"/><circle cx="875.5" cy="260.5" r="5.69"/><circle cx="884.5" cy="257.6" r="5.69"/><circle cx="903.9" cy="259.1" r="5.69"/><circle cx="908.4" cy="265.0" r="5.69"/><circle cx="921.9" cy="248.0" r="5.69"/><circle cx="922.8" cy="261.1" r="5.69"/><circle cx="937.7" cy="257.6" r="5.69"/><circle cx="942.8" cy="242.0" r="5.69"/><circle cx="944.3" cy="265.0" r="5.69"/><circle cx="954.1" cy="258.2" r="5.69"/><circle cx="960.7" cy="248.0" r="5.69"/><circle cx="968.2" cy="256.1" r="5.69"/><circle cx="968.2" cy="264.4" r="5.69"/><circle cx="990.6" cy="236.6" r="5.69"/><circle cx="1013.0" cy="268.0" r="5.69"/><circle cx="1017.5" cy="266.5" r="5.69"/><circle cx="1003.4" cy="272.5" r="5.69"/><circle cx="1008.5" cy="277.0" r="5.69"/><circle cx="1020.4" cy="280.0" r="5.69"/><circle cx="1024.9" cy="285.9" r="5.69"/><circle cx="1030.9" cy="285.9" r="5.69"/><circle cx="1027.9" cy="297.9" r="5.69"/><circle cx="1010.6" cy="294.9" r="5.69"/><circle cx="1011.5" cy="302.4" r="5.69"/><circle cx="1039.9" cy="290.4" r="5.69"/><circle cx="1045.8" cy="276.1" r="5.69"/><circle cx="1042.9" cy="292.8" r="5.69"/><circle cx="1061.7" cy="271.9" r="5.69"/><circle cx="1075.7" cy="271.0" r="5.69"/><circle cx="1068.3" cy="288.0" r="5.69"/><circle cx="1075.7" cy="287.4" r="5.69"/><circle cx="1077.2" cy="291.9" r="5.69"/><circle cx="1087.1" cy="295.8" r="5.69"/><circle cx="1097.5" cy="295.8" r="5.69"/><circle cx="1045.8" cy="309.8" r="5.69"/><circle cx="1056.3" cy="311.3" r="5.69"/><circle cx="1060.2" cy="303.3" r="5.69"/><circle cx="1026.4" cy="319.7" r="5.69"/><circle cx="1022.5" cy="334.3" r="5.69"/><circle cx="1033.0" cy="338.8" r="5.69"/><circle cx="1084.1" cy="337.3" r="5.69"/><circle cx="1036.3" cy="357.6" r="5.69"/><circle cx="1051.2" cy="361.5" r="5.69"/><circle cx="1008.5" cy="363.0" r="5.69"/><circle cx="1010.6" cy="378.0" r="5.69"/><circle cx="993.6" cy="371.1" r="5.69"/><circle cx="983.1" cy="374.7" r="5.69"/><circle cx="971.7" cy="379.5" r="5.69"/><circle cx="989.1" cy="389.9" r="5.69"/><circle cx="942.2" cy="389.9" r="5.69"/><circle cx="908.4" cy="385.4" r="5.69"/><circle cx="917.4" cy="385.4" r="5.69"/><circle cx="936.8" cy="370.5" r="5.69"/><circle cx="945.2" cy="363.0" r="5.69"/><circle cx="945.8" cy="353.2" r="5.69"/><circle cx="941.3" cy="359.1" r="5.69"/><circle cx="974.1" cy="344.2" r="5.69"/><circle cx="895.0" cy="364.5" r="5.69"/><circle cx="893.5" cy="353.2" r="5.69"/><circle cx="929.3" cy="347.2" r="5.69"/><circle cx="914.4" cy="348.7" r="5.69"/><circle cx="913.5" cy="341.2" r="5.69"/><circle cx="863.6" cy="350.2" r="5.69"/><circle cx="868.1" cy="344.2" r="5.69"/><circle cx="875.5" cy="335.2" r="5.69"/><circle cx="1285.3" cy="148.1" r="5.69"/><circle cx="1159.2" cy="107.8" r="5.69"/><circle cx="1179.3" cy="113.2" r="5.69"/><circle cx="1195.7" cy="123.6" r="5.69"/><circle cx="1216.6" cy="118.3" r="5.69"/><circle cx="1227.7" cy="113.8" r="5.69"/><circle cx="1233.0" cy="119.2" r="5.69"/><circle cx="1234.5" cy="142.2" r="5.69"/><circle cx="1228.6" cy="148.7" r="5.69"/><circle cx="1225.6" cy="170.5" r="5.69"/><circle cx="1226.5" cy="197.4" r="5.69"/><circle cx="1210.6" cy="195.9" r="5.69"/><circle cx="1212.1" cy="208.5" r="5.69"/><circle cx="1219.0" cy="217.5" r="5.69"/><circle cx="1196.6" cy="224.3" r="5.69"/><circle cx="1207.6" cy="175.0" r="5.69"/><circle cx="1206.2" cy="139.2" r="5.69"/><circle cx="1197.2" cy="133.2" r="5.69"/><circle cx="1203.2" cy="154.1" r="5.69"/><circle cx="1209.1" cy="153.2" r="5.69"/><circle cx="1192.7" cy="149.6" r="5.69"/><circle cx="1191.2" cy="160.1" r="5.69"/><circle cx="1179.3" cy="144.3" r="5.69"/><circle cx="1166.4" cy="132.3" r="5.69"/><circle cx="1143.4" cy="138.3" r="5.69"/><circle cx="1115.9" cy="117.7" r="5.69"/><circle cx="1124.0" cy="128.1" r="5.69"/><circle cx="1118.0" cy="133.2" r="5.69"/><circle cx="1111.1" cy="139.2" r="5.69"/><circle cx="1125.5" cy="143.7" r="5.69"/><circle cx="1068.1" cy="119.2" r="5.69"/><circle cx="1082.8" cy="130.8" r="5.69"/><circle cx="1085.1" cy="147.5" r="5.69"/><circle cx="1037.9" cy="138.3" r="5.69"/><circle cx="1047.2" cy="141.3" r="5.69"/><circle cx="1033.8" cy="150.2" r="5.69"/><circle cx="1021.5" cy="160.7" r="5.69"/><circle cx="1055.3" cy="155.6" r="5.69"/><circle cx="1057.4" cy="160.7" r="5.69"/><circle cx="1062.7" cy="166.1" r="5.69"/><circle cx="1037.9" cy="171.4" r="5.69"/><circle cx="1055.3" cy="175.9" r="5.69"/><circle cx="1036.4" cy="187.0" r="5.69"/><circle cx="1036.4" cy="190.6" r="5.69"/><circle cx="1048.4" cy="194.4" r="5.69"/><circle cx="1049.3" cy="200.4" r="5.69"/><circle cx="1052.3" cy="209.4" r="5.69"/><circle cx="1054.4" cy="213.9" r="5.69"/><circle cx="1064.2" cy="187.9" r="5.69"/><circle cx="1074.7" cy="171.1" r="5.69"/><circle cx="1083.1" cy="164.6" r="5.69"/><circle cx="1077.1" cy="182.5" r="5.69"/><circle cx="1074.7" cy="190.6" r="5.69"/><circle cx="1070.2" cy="219.8" r="5.69"/><circle cx="1070.2" cy="224.3" r="5.69"/><circle cx="1076.2" cy="240.2" r="5.69"/><circle cx="1067.2" cy="247.6" r="5.69"/><circle cx="1097.1" cy="236.3" r="5.69"/><circle cx="1105.2" cy="236.3" r="5.69"/><circle cx="1113.5" cy="231.8" r="5.69"/><circle cx="1101.6" cy="227.3" r="5.69"/><circle cx="1095.6" cy="219.2" r="5.69"/><circle cx="1105.2" cy="214.5" r="5.69"/><circle cx="1112.0" cy="214.5" r="5.69"/><circle cx="1138.0" cy="224.3" r="5.69"/><circle cx="1153.9" cy="231.2" r="5.69"/><circle cx="1155.4" cy="222.8" r="5.69"/><circle cx="1150.9" cy="215.4" r="5.69"/><circle cx="1127.0" cy="218.3" r="5.69"/><circle cx="1131.5" cy="212.4" r="5.69"/><circle cx="1123.1" cy="206.4" r="5.69"/><circle cx="1140.4" cy="204.9" r="5.69"/><circle cx="1155.4" cy="207.9" r="5.69"/><circle cx="1172.7" cy="207.9" r="5.69"/><circle cx="1176.3" cy="200.4" r="5.69"/><circle cx="1095.6" cy="204.9" r="5.69"/><circle cx="1080.7" cy="209.4" r="5.69"/><circle cx="1149.4" cy="275.1" r="5.69"/><circle cx="1153.9" cy="278.1" r="5.69"/><circle cx="1175.7" cy="289.5" r="5.69"/><circle cx="1233.9" cy="299.0" r="5.69"/><circle cx="1251.6" cy="305.9" r="5.69"/><circle cx="988.0" cy="128.5" r="5.69"/><circle cx="991.5" cy="134.5" r="5.69"/></g>
<path d="M757.53 440.26L787.91 418.15M802.03 407.87L832.40 385.77M846.52 375.49L876.89 353.38M891.01 343.11L921.39 321.00M935.50 310.73L965.88 288.62M980.00 278.34L1010.37 256.24M1024.49 245.96L1054.86 223.85M1068.98 213.58L1099.36 191.47M1113.47 181.19L1143.85 159.09M1157.97 148.81L1188.34 126.71M1202.46 116.43L1232.83 94.32M1246.95 84.05L1277.33 61.94" stroke="#ff0000" stroke-width="8.43" fill="none" clip-path="url(#c1)"/>
<path d="M771.90 25.00L771.90 429.80L1328.08 429.80M771.90 429.80L771.90 435.69M771.90 429.80L766.01 429.80M883.14 429.80L883.14 435.69M771.90 348.84L766.01 348.84M994.37 429.80L994.37 435.69M771.90 267.88L766.01 267.88M1105.61 429.80L1105.61 435.69M771.90 186.92L766.01 186.92M1216.85 429.80L1216.85 435.69M771.90 105.96L766.01 105.96M1328.08 429.80L1328.08 435.69M771.90 25.00L766.01 25.00" stroke="#3a3a3a" stroke-width="1.73" fill="none" stroke-linecap="square"/>
<g font-size="28.63"><text transform="translate(771.90 462.80) scale(1.000 1)" text-anchor="middle">−0.2</text><text transform="translate(757.89 439.85) scale(1.000 1)" text-anchor="end">−0.2</text><text transform="translate(883.14 462.80) scale(1.000 1)" text-anchor="middle">0.0</text><text transform="translate(757.89 358.89) scale(1.000 1)" text-anchor="end">0.0</text><text transform="translate(994.37 462.80) scale(1.000 1)" text-anchor="middle">0.2</text><text transform="translate(757.89 277.93) scale(1.000 1)" text-anchor="end">0.2</text><text transform="translate(1105.61 462.80) scale(1.000 1)" text-anchor="middle">0.4</text><text transform="translate(757.89 196.97) scale(1.000 1)" text-anchor="end">0.4</text><text transform="translate(1216.85 462.80) scale(1.000 1)" text-anchor="middle">0.6</text><text transform="translate(757.89 116.01) scale(1.000 1)" text-anchor="end">0.6</text><text transform="translate(1328.08 462.80) scale(1.000 1)" text-anchor="middle">0.8</text><text transform="translate(757.89 35.05) scale(1.000 1)" text-anchor="end">0.8</text></g>
<text transform="translate(1049.99 496.81) scale(1.000 1)" text-anchor="middle" font-size="28.33">EVI</text>
<text transform="translate(887.90 59.00) scale(1.000 1)" text-anchor="middle" font-size="29.65">y=1.102a-0.127</text>
<text transform="translate(890.00 91.30) scale(1.000 1)" text-anchor="middle" font-size="29.65">RMSE=0.125</text>
<text transform="translate(887.40 123.60) scale(1.000 1)" text-anchor="middle" font-size="29.65">R²=0.68</text>
<!-- panel 3 -->
<clipPath id="c2"><rect x="1421.00" y="21.24" width="604.51" height="410.86"/></clipPath>
<g fill="#1f77b4" clip-path="url(#c2)"><circle cx="1564.6" cy="353.6" r="5.77"/><circle cx="1509.5" cy="357.8" r="5.77"/><circle cx="1557.8" cy="347.4" r="5.77"/><circle cx="1582.9" cy="347.0" r="5.77"/><circle cx="1548.9" cy="362.9" r="5.77"/><circle cx="1510.4" cy="339.4" r="5.77"/><circle cx="1546.2" cy="348.3" r="5.77"/><circle cx="1593.1" cy="346.3" r="5.77"/><circle cx="1498.8" cy="347.6" r="5.77"/><circle cx="1588.7" cy="341.1" r="5.77"/><circle cx="1520.5" cy="337.0" r="5.77"/><circle cx="1624.7" cy="355.1" r="5.77"/><circle cx="1575.1" cy="340.0" r="5.77"/><circle cx="1549.7" cy="356.2" r="5.77"/><circle cx="1615.3" cy="366.3" r="5.77"/><circle cx="1600.8" cy="350.0" r="5.77"/><circle cx="1540.8" cy="337.4" r="5.77"/><circle cx="1580.8" cy="362.3" r="5.77"/><circle cx="1545.5" cy="337.4" r="5.77"/><circle cx="1484.6" cy="337.0" r="5.77"/><circle cx="1569.7" cy="343.5" r="5.77"/><circle cx="1638.0" cy="368.4" r="5.77"/><circle cx="1547.3" cy="350.7" r="5.77"/><circle cx="1559.4" cy="341.6" r="5.77"/><circle cx="1480.3" cy="354.2" r="5.77"/><circle cx="1606.8" cy="345.6" r="5.77"/><circle cx="1642.9" cy="368.5" r="5.77"/><circle cx="1620.8" cy="369.2" r="5.77"/><circle cx="1614.2" cy="362.6" r="5.77"/><circle cx="1637.3" cy="353.0" r="5.77"/><circle cx="1555.6" cy="360.4" r="5.77"/><circle cx="1632.4" cy="359.4" r="5.77"/><circle cx="1642.1" cy="370.3" r="5.77"/><circle cx="1547.9" cy="363.1" r="5.77"/><circle cx="1519.4" cy="335.4" r="5.77"/><circle cx="1530.6" cy="361.7" r="5.77"/><circle cx="1537.9" cy="343.6" r="5.77"/><circle cx="1601.0" cy="345.2" r="5.77"/><circle cx="1490.4" cy="345.7" r="5.77"/><circle cx="1546.5" cy="352.3" r="5.77"/><circle cx="1578.6" cy="363.6" r="5.77"/><circle cx="1627.9" cy="346.9" r="5.77"/><circle cx="1576.9" cy="357.9" r="5.77"/><circle cx="1474.7" cy="342.8" r="5.77"/><circle cx="1644.1" cy="344.2" r="5.77"/><circle cx="1623.3" cy="342.7" r="5.77"/><circle cx="1598.1" cy="359.4" r="5.77"/><circle cx="1607.7" cy="348.0" r="5.77"/><circle cx="1591.6" cy="345.0" r="5.77"/><circle cx="1623.5" cy="343.9" r="5.77"/><circle cx="1542.6" cy="338.5" r="5.77"/><circle cx="1484.5" cy="339.5" r="5.77"/><circle cx="1586.1" cy="358.2" r="5.77"/><circle cx="1567.3" cy="355.0" r="5.77"/><circle cx="1610.4" cy="351.5" r="5.77"/><circle cx="1590.6" cy="344.3" r="5.77"/><circle cx="1510.5" cy="359.3" r="5.77"/><circle cx="1632.2" cy="347.1" r="5.77"/><circle cx="1511.7" cy="356.8" r="5.77"/><circle cx="1617.8" cy="364.3" r="5.77"/><circle cx="1541.9" cy="356.5" r="5.77"/><circle cx="1500.2" cy="343.9" r="5.77"/><circle cx="1610.0" cy="356.5" r="5.77"/><circle cx="1591.5" cy="359.1" r="5.77"/><circle cx="1508.1" cy="346.6" r="5.77"/><circle cx="1487.5" cy="333.2" r="5.77"/><circle cx="1512.7" cy="338.2" r="5.77"/><circle cx="1541.5" cy="347.9" r="5.77"/><circle cx="1517.9" cy="355.2" r="5.77"/><circle cx="1548.6" cy="351.3" r="5.77"/><circle cx="1469.5" cy="339.5" r="5.77"/><circle cx="1526.4" cy="343.8" r="5.77"/><circle cx="1611.7" cy="342.7" r="5.77"/><circle cx="1556.4" cy="355.4" r="5.77"/><circle cx="1492.5" cy="344.0" r="5.77"/><circle cx="1547.5" cy="351.2" r="5.77"/><circle cx="1543.6" cy="359.1" r="5.77"/><circle cx="1549.4" cy="360.8" r="5.77"/><circle cx="1648.1" cy="371.0" r="5.77"/><circle cx="1527.6" cy="354.1" r="5.77"/><circle cx="1499.9" cy="344.8" r="5.77"/><circle cx="1509.7" cy="361.3" r="5.77"/><circle cx="1495.9" cy="347.8" r="5.77"/><circle cx="1533.0" cy="362.0" r="5.77"/><circle cx="1505.8" cy="359.4" r="5.77"/><circle cx="1625.0" cy="359.6" r="5.77"/><circle cx="1625.2" cy="348.8" r="5.77"/><circle cx="1519.6" cy="342.6" r="5.77"/><circle cx="1562.2" cy="347.3" r="5.77"/><circle cx="1641.5" cy="362.5" r="5.77"/><circle cx="1591.5" cy="353.9" r="5.77"/><circle cx="1554.4" cy="342.4" r="5.77"/><circle cx="1634.6" cy="342.7" r="5.77"/><circle cx="1631.3" cy="357.9" r="5.77"/><circle cx="1531.4" cy="349.7" r="5.77"/><circle cx="1533.5" cy="355.7" r="5.77"/><circle cx="1529.5" cy="353.4" r="5.77"/><circle cx="1515.2" cy="335.8" r="5.77"/><circle cx="1511.3" cy="342.3" r="5.77"/><circle cx="1633.2" cy="356.3" r="5.77"/><circle cx="1573.5" cy="336.0" r="5.77"/><circle cx="1634.5" cy="347.9" r="5.77"/><circle cx="1610.1" cy="336.3" r="5.77"/><circle cx="1625.0" cy="360.4" r="5.77"/><circle cx="1560.0" cy="354.8" r="5.77"/><circle cx="1504.1" cy="333.3" r="5.77"/><circle cx="1504.4" cy="340.8" r="5.77"/><circle cx="1563.4" cy="337.3" r="5.77"/><circle cx="1603.7" cy="348.8" r="5.77"/><circle cx="1528.4" cy="347.6" r="5.77"/><circle cx="1566.7" cy="350.5" r="5.77"/><circle cx="1505.9" cy="341.5" r="5.77"/><circle cx="1626.4" cy="348.9" r="5.77"/><circle cx="1597.6" cy="342.8" r="5.77"/><circle cx="1517.2" cy="361.3" r="5.77"/><circle cx="1570.9" cy="349.6" r="5.77"/><circle cx="1611.4" cy="356.2" r="5.77"/><circle cx="1600.4" cy="361.6" r="5.77"/><circle cx="1569.0" cy="362.9" r="5.77"/><circle cx="1618.2" cy="371.7" r="5.77"/><circle cx="1561.1" cy="362.6" r="5.77"/><circle cx="1576.1" cy="358.1" r="5.77"/><circle cx="1594.6" cy="356.4" r="5.77"/><circle cx="1543.2" cy="358.0" r="5.77"/><circle cx="1626.3" cy="355.9" r="5.77"/><circle cx="1588.1" cy="345.6" r="5.77"/><circle cx="1639.1" cy="368.5" r="5.77"/><circle cx="1638.2" cy="351.3" r="5.77"/><circle cx="1619.4" cy="352.2" r="5.77"/><circle cx="1576.8" cy="364.4" r="5.77"/><circle cx="1546.8" cy="352.0" r="5.77"/><circle cx="1608.9" cy="347.9" r="5.77"/><circle cx="1634.9" cy="347.4" r="5.77"/><circle cx="1511.9" cy="335.2" r="5.77"/><circle cx="1625.0" cy="349.0" r="5.77"/><circle cx="1551.3" cy="361.6" r="5.77"/><circle cx="1603.2" cy="359.9" r="5.77"/><circle cx="1613.1" cy="347.6" r="5.77"/><circle cx="1506.5" cy="348.9" r="5.77"/><circle cx="1624.8" cy="363.0" r="5.77"/><circle cx="1549.5" cy="357.2" r="5.77"/><circle cx="1529.5" cy="339.6" r="5.77"/><circle cx="1541.1" cy="348.3" r="5.77"/><circle cx="1514.2" cy="337.7" r="5.77"/><circle cx="1632.2" cy="359.3" r="5.77"/><circle cx="1557.7" cy="358.9" r="5.77"/><circle cx="1549.0" cy="358.8" r="5.77"/><circle cx="1604.0" cy="368.3" r="5.77"/><circle cx="1504.6" cy="353.7" r="5.77"/><circle cx="1579.3" cy="351.6" r="5.77"/><circle cx="1535.1" cy="352.5" r="5.77"/><circle cx="1585.3" cy="358.3" r="5.77"/><circle cx="1638.6" cy="364.8" r="5.77"/><circle cx="1504.9" cy="348.5" r="5.77"/><circle cx="1574.3" cy="347.7" r="5.77"/><circle cx="1504.8" cy="335.6" r="5.77"/><circle cx="1593.1" cy="335.6" r="5.77"/><circle cx="1566.5" cy="343.4" r="5.77"/><circle cx="1587.7" cy="342.0" r="5.77"/><circle cx="1625.8" cy="363.2" r="5.77"/><circle cx="1558.2" cy="352.2" r="5.77"/><circle cx="1517.9" cy="357.2" r="5.77"/><circle cx="1583.2" cy="356.1" r="5.77"/><circle cx="1621.7" cy="360.5" r="5.77"/><circle cx="1599.4" cy="346.3" r="5.77"/><circle cx="1558.2" cy="338.5" r="5.77"/><circle cx="1510.6" cy="355.0" r="5.77"/><circle cx="1594.5" cy="360.0" r="5.77"/><circle cx="1570.8" cy="341.2" r="5.77"/><circle cx="1519.5" cy="344.4" r="5.77"/><circle cx="1603.0" cy="344.5" r="5.77"/><circle cx="1618.5" cy="353.6" r="5.77"/><circle cx="1583.1" cy="345.9" r="5.77"/><circle cx="1585.0" cy="367.4" r="5.77"/><circle cx="1577.8" cy="343.5" r="5.77"/><circle cx="1544.9" cy="355.1" r="5.77"/><circle cx="1537.0" cy="359.8" r="5.77"/><circle cx="1541.1" cy="332.9" r="5.77"/><circle cx="1584.3" cy="362.8" r="5.77"/><circle cx="1568.3" cy="351.4" r="5.77"/><circle cx="1624.5" cy="247.8" r="5.77"/><circle cx="1598.2" cy="234.3" r="5.77"/><circle cx="1643.0" cy="250.6" r="5.77"/><circle cx="1559.2" cy="243.0" r="5.77"/><circle cx="1680.0" cy="248.4" r="5.77"/><circle cx="1634.0" cy="232.4" r="5.77"/><circle cx="1564.0" cy="231.4" r="5.77"/><circle cx="1683.6" cy="248.5" r="5.77"/><circle cx="1525.7" cy="238.6" r="5.77"/><circle cx="1575.8" cy="238.8" r="5.77"/><circle cx="1606.7" cy="239.7" r="5.77"/><circle cx="1639.2" cy="232.0" r="5.77"/><circle cx="1568.2" cy="242.0" r="5.77"/><circle cx="1623.1" cy="241.9" r="5.77"/><circle cx="1694.6" cy="237.1" r="5.77"/><circle cx="1598.4" cy="247.7" r="5.77"/><circle cx="1552.2" cy="246.8" r="5.77"/><circle cx="1665.9" cy="237.6" r="5.77"/><circle cx="1627.8" cy="236.1" r="5.77"/><circle cx="1618.1" cy="239.9" r="5.77"/><circle cx="1675.8" cy="247.2" r="5.77"/><circle cx="1687.7" cy="247.3" r="5.77"/><circle cx="1536.2" cy="247.9" r="5.77"/><circle cx="1523.0" cy="248.1" r="5.77"/><circle cx="1591.2" cy="236.2" r="5.77"/><circle cx="1657.0" cy="242.0" r="5.77"/><circle cx="1627.1" cy="244.3" r="5.77"/><circle cx="1622.7" cy="243.9" r="5.77"/><circle cx="1615.7" cy="239.8" r="5.77"/><circle cx="1559.4" cy="234.1" r="5.77"/><circle cx="1521.8" cy="230.2" r="5.77"/><circle cx="1556.4" cy="227.9" r="5.77"/><circle cx="1606.1" cy="230.3" r="5.77"/><circle cx="1517.2" cy="232.5" r="5.77"/><circle cx="1675.6" cy="245.4" r="5.77"/><circle cx="1670.3" cy="247.1" r="5.77"/><circle cx="1687.3" cy="243.5" r="5.77"/><circle cx="1588.5" cy="248.6" r="5.77"/><circle cx="1635.4" cy="236.8" r="5.77"/><circle cx="1668.7" cy="233.8" r="5.77"/><circle cx="1640.0" cy="246.6" r="5.77"/><circle cx="1689.5" cy="244.5" r="5.77"/><circle cx="1653.3" cy="237.9" r="5.77"/><circle cx="1696.6" cy="234.8" r="5.77"/><circle cx="1646.9" cy="234.6" r="5.77"/><circle cx="1567.9" cy="247.1" r="5.77"/><circle cx="1603.6" cy="232.9" r="5.77"/><circle cx="1631.7" cy="236.6" r="5.77"/><circle cx="1666.0" cy="243.5" r="5.77"/><circle cx="1546.1" cy="234.3" r="5.77"/><circle cx="1613.3" cy="236.6" r="5.77"/><circle cx="1567.4" cy="247.0" r="5.77"/><circle cx="1638.4" cy="230.1" r="5.77"/><circle cx="1565.1" cy="238.2" r="5.77"/><circle cx="1622.5" cy="246.2" r="5.77"/><circle cx="1645.2" cy="227.2" r="5.77"/><circle cx="1687.3" cy="249.8" r="5.77"/><circle cx="1541.2" cy="239.9" r="5.77"/><circle cx="1696.3" cy="242.8" r="5.77"/><circle cx="1639.8" cy="243.5" r="5.77"/><circle cx="1694.3" cy="239.1" r="5.77"/><circle cx="1562.3" cy="247.6" r="5.77"/><circle cx="1690.9" cy="246.7" r="5.77"/><circle cx="1526.1" cy="246.3" r="5.77"/><circle cx="1530.2" cy="254.7" r="5.77"/><circle cx="1524.3" cy="252.2" r="5.77"/><circle cx="1671.7" cy="231.6" r="5.77"/><circle cx="1565.6" cy="248.3" r="5.77"/><circle cx="1587.7" cy="239.8" r="5.77"/><circle cx="1574.4" cy="247.1" r="5.77"/><circle cx="1606.4" cy="244.7" r="5.77"/><circle cx="1546.3" cy="227.1" r="5.77"/><circle cx="1656.4" cy="247.9" r="5.77"/><circle cx="1637.1" cy="234.8" r="5.77"/><circle cx="1697.2" cy="254.0" r="5.77"/><circle cx="1638.0" cy="250.9" r="5.77"/><circle cx="1665.2" cy="234.9" r="5.77"/><circle cx="1602.3" cy="229.6" r="5.77"/><circle cx="1675.6" cy="237.3" r="5.77"/><circle cx="1644.6" cy="238.3" r="5.77"/><circle cx="1674.1" cy="247.1" r="5.77"/><circle cx="1679.3" cy="250.4" r="5.77"/><circle cx="1584.9" cy="226.4" r="5.77"/><circle cx="1650.0" cy="240.5" r="5.77"/><circle cx="1683.6" cy="246.6" r="5.77"/><circle cx="1648.0" cy="234.4" r="5.77"/><circle cx="1678.8" cy="244.0" r="5.77"/><circle cx="1616.0" cy="237.9" r="5.77"/><circle cx="1679.2" cy="232.0" r="5.77"/><circle cx="1538.4" cy="250.5" r="5.77"/><circle cx="1529.0" cy="239.3" r="5.77"/><circle cx="1639.1" cy="245.0" r="5.77"/><circle cx="1630.2" cy="231.5" r="5.77"/><circle cx="1521.0" cy="240.6" r="5.77"/><circle cx="1607.0" cy="232.6" r="5.77"/><circle cx="1620.6" cy="248.4" r="5.77"/><circle cx="1609.8" cy="231.5" r="5.77"/><circle cx="1639.2" cy="234.9" r="5.77"/><circle cx="1562.0" cy="230.0" r="5.77"/><circle cx="1543.0" cy="232.5" r="5.77"/><circle cx="1592.2" cy="230.1" r="5.77"/><circle cx="1584.0" cy="237.4" r="5.77"/><circle cx="1532.1" cy="249.9" r="5.77"/><circle cx="1565.8" cy="242.2" r="5.77"/><circle cx="1613.5" cy="238.5" r="5.77"/><circle cx="1619.5" cy="235.6" r="5.77"/><circle cx="1666.6" cy="243.4" r="5.77"/><circle cx="1530.4" cy="241.9" r="5.77"/><circle cx="1582.6" cy="248.4" r="5.77"/><circle cx="1564.9" cy="241.3" r="5.77"/><circle cx="1628.4" cy="243.8" r="5.77"/><circle cx="1632.8" cy="248.2" r="5.77"/><circle cx="1552.2" cy="232.4" r="5.77"/><circle cx="1550.1" cy="226.7" r="5.77"/><circle cx="1671.2" cy="227.9" r="5.77"/><circle cx="1678.8" cy="240.1" r="5.77"/><circle cx="1605.8" cy="227.3" r="5.77"/><circle cx="1569.4" cy="250.1" r="5.77"/><circle cx="1604.6" cy="235.3" r="5.77"/><circle cx="1660.8" cy="253.7" r="5.77"/><circle cx="1809.1" cy="178.2" r="5.77"/><circle cx="1766.5" cy="186.2" r="5.77"/><circle cx="1748.0" cy="170.9" r="5.77"/><circle cx="1808.8" cy="193.3" r="5.77"/><circle cx="1754.1" cy="178.3" r="5.77"/><circle cx="1743.5" cy="187.1" r="5.77"/><circle cx="1754.1" cy="187.3" r="5.77"/><circle cx="1782.3" cy="189.4" r="5.77"/><circle cx="1771.9" cy="185.1" r="5.77"/><circle cx="1746.1" cy="192.4" r="5.77"/><circle cx="1750.1" cy="188.1" r="5.77"/><circle cx="1824.0" cy="188.6" r="5.77"/><circle cx="1804.5" cy="176.7" r="5.77"/><circle cx="1791.8" cy="189.2" r="5.77"/><circle cx="1819.7" cy="176.9" r="5.77"/><circle cx="1786.1" cy="193.6" r="5.77"/><circle cx="1768.7" cy="177.2" r="5.77"/><circle cx="1773.4" cy="178.1" r="5.77"/><circle cx="1798.8" cy="197.0" r="5.77"/><circle cx="1820.3" cy="169.8" r="5.77"/><circle cx="1802.9" cy="182.8" r="5.77"/><circle cx="1759.9" cy="174.8" r="5.77"/><circle cx="1773.7" cy="179.9" r="5.77"/><circle cx="1770.1" cy="166.2" r="5.77"/><circle cx="1762.6" cy="175.2" r="5.77"/><circle cx="1818.0" cy="192.8" r="5.77"/><circle cx="1769.1" cy="182.9" r="5.77"/><circle cx="1781.3" cy="181.6" r="5.77"/><circle cx="1818.8" cy="182.9" r="5.77"/><circle cx="1773.3" cy="179.1" r="5.77"/><circle cx="1776.9" cy="193.1" r="5.77"/><circle cx="1771.3" cy="190.6" r="5.77"/><circle cx="1761.9" cy="184.3" r="5.77"/><circle cx="1750.1" cy="174.5" r="5.77"/><circle cx="1788.3" cy="188.7" r="5.77"/><circle cx="1753.7" cy="170.2" r="5.77"/><circle cx="1761.5" cy="182.8" r="5.77"/><circle cx="1771.2" cy="183.6" r="5.77"/><circle cx="1816.6" cy="186.6" r="5.77"/><circle cx="1777.0" cy="169.5" r="5.77"/><circle cx="1813.8" cy="186.6" r="5.77"/><circle cx="1783.2" cy="180.7" r="5.77"/><circle cx="1782.1" cy="175.0" r="5.77"/><circle cx="1810.3" cy="175.9" r="5.77"/><circle cx="1748.7" cy="197.4" r="5.77"/><circle cx="1745.6" cy="175.7" r="5.77"/><circle cx="1789.6" cy="196.7" r="5.77"/><circle cx="1768.5" cy="186.8" r="5.77"/><circle cx="1809.3" cy="198.7" r="5.77"/><circle cx="1792.4" cy="181.2" r="5.77"/><circle cx="1758.3" cy="190.4" r="5.77"/><circle cx="1824.7" cy="180.0" r="5.77"/><circle cx="1755.7" cy="180.0" r="5.77"/><circle cx="1762.4" cy="177.6" r="5.77"/><circle cx="1759.9" cy="181.2" r="5.77"/><circle cx="1792.3" cy="178.4" r="5.77"/><circle cx="1774.6" cy="189.9" r="5.77"/><circle cx="1768.1" cy="164.7" r="5.77"/><circle cx="1794.5" cy="170.9" r="5.77"/><circle cx="1819.3" cy="180.7" r="5.77"/><circle cx="1782.7" cy="178.2" r="5.77"/><circle cx="1811.3" cy="172.3" r="5.77"/><circle cx="1780.6" cy="195.2" r="5.77"/><circle cx="1798.2" cy="176.1" r="5.77"/><circle cx="1768.6" cy="173.0" r="5.77"/><circle cx="1802.0" cy="177.0" r="5.77"/><circle cx="1774.7" cy="178.0" r="5.77"/><circle cx="1781.6" cy="185.6" r="5.77"/><circle cx="1751.2" cy="182.0" r="5.77"/><circle cx="1820.0" cy="186.3" r="5.77"/><circle cx="1825.2" cy="197.0" r="5.77"/><circle cx="1816.0" cy="179.5" r="5.77"/><circle cx="1742.9" cy="183.5" r="5.77"/><circle cx="1759.3" cy="173.7" r="5.77"/><circle cx="1780.3" cy="177.3" r="5.77"/><circle cx="1786.7" cy="191.1" r="5.77"/><circle cx="1804.9" cy="195.1" r="5.77"/><circle cx="1791.5" cy="193.7" r="5.77"/><circle cx="1822.4" cy="191.7" r="5.77"/><circle cx="1758.2" cy="190.1" r="5.77"/><circle cx="1883.7" cy="177.7" r="5.77"/><circle cx="1858.4" cy="185.5" r="5.77"/><circle cx="1847.7" cy="178.5" r="5.77"/><circle cx="1819.5" cy="178.1" r="5.77"/><circle cx="1864.7" cy="183.9" r="5.77"/><circle cx="1838.5" cy="189.8" r="5.77"/><circle cx="1820.8" cy="182.7" r="5.77"/><circle cx="1795.6" cy="186.7" r="5.77"/><circle cx="1814.5" cy="182.9" r="5.77"/><circle cx="1796.5" cy="187.5" r="5.77"/><circle cx="1837.2" cy="182.1" r="5.77"/><circle cx="1826.7" cy="185.1" r="5.77"/><circle cx="1838.1" cy="183.4" r="5.77"/><circle cx="1818.7" cy="185.1" r="5.77"/><circle cx="1810.8" cy="191.9" r="5.77"/><circle cx="1827.7" cy="183.1" r="5.77"/><circle cx="1870.3" cy="181.8" r="5.77"/><circle cx="1862.4" cy="187.5" r="5.77"/><circle cx="1888.5" cy="185.4" r="5.77"/><circle cx="1844.0" cy="178.2" r="5.77"/><circle cx="1885.0" cy="177.6" r="5.77"/><circle cx="1869.7" cy="184.5" r="5.77"/><circle cx="1878.4" cy="184.5" r="5.77"/><circle cx="1874.2" cy="172.3" r="5.77"/><circle cx="1847.2" cy="177.9" r="5.77"/><circle cx="1823.4" cy="180.8" r="5.77"/><circle cx="1823.4" cy="187.7" r="5.77"/><circle cx="1848.1" cy="178.8" r="5.77"/><circle cx="1852.1" cy="177.9" r="5.77"/><circle cx="1872.2" cy="173.5" r="5.77"/><circle cx="1889.5" cy="177.8" r="5.77"/><circle cx="1836.6" cy="184.8" r="5.77"/><circle cx="1864.2" cy="183.7" r="5.77"/><circle cx="1813.7" cy="183.7" r="5.77"/><circle cx="1880.1" cy="170.6" r="5.77"/><circle cx="1864.7" cy="179.6" r="5.77"/><circle cx="1802.2" cy="182.2" r="5.77"/><circle cx="1853.3" cy="190.7" r="5.77"/><circle cx="1790.1" cy="184.6" r="5.77"/><circle cx="1830.1" cy="182.4" r="5.77"/><circle cx="1817.9" cy="178.7" r="5.77"/><circle cx="1790.0" cy="186.4" r="5.77"/><circle cx="1849.3" cy="178.3" r="5.77"/><circle cx="1852.9" cy="176.6" r="5.77"/><circle cx="1862.3" cy="182.6" r="5.77"/><circle cx="1800.4" cy="188.2" r="5.77"/><circle cx="1886.7" cy="177.3" r="5.77"/><circle cx="1854.3" cy="186.8" r="5.77"/><circle cx="1816.9" cy="180.1" r="5.77"/><circle cx="1797.2" cy="178.4" r="5.77"/><circle cx="1837.7" cy="174.9" r="5.77"/><circle cx="1824.2" cy="180.4" r="5.77"/><circle cx="1862.9" cy="189.8" r="5.77"/><circle cx="1811.4" cy="182.1" r="5.77"/><circle cx="1856.1" cy="177.3" r="5.77"/><circle cx="1867.0" cy="184.2" r="5.77"/><circle cx="1821.7" cy="182.1" r="5.77"/><circle cx="1868.2" cy="176.0" r="5.77"/><circle cx="1839.5" cy="186.2" r="5.77"/><circle cx="1795.3" cy="173.5" r="5.77"/><circle cx="1861.1" cy="182.1" r="5.77"/><circle cx="1859.2" cy="188.9" r="5.77"/><circle cx="1867.7" cy="188.0" r="5.77"/><circle cx="1847.3" cy="186.7" r="5.77"/><circle cx="1797.9" cy="175.0" r="5.77"/><circle cx="1874.9" cy="191.7" r="5.77"/><circle cx="1814.9" cy="178.9" r="5.77"/><circle cx="1840.5" cy="175.7" r="5.77"/><circle cx="1834.5" cy="179.6" r="5.77"/><circle cx="1826.5" cy="175.0" r="5.77"/><circle cx="1828.4" cy="185.2" r="5.77"/><circle cx="1852.1" cy="173.8" r="5.77"/><circle cx="1836.2" cy="182.1" r="5.77"/><circle cx="1873.8" cy="174.1" r="5.77"/><circle cx="1869.3" cy="187.0" r="5.77"/><circle cx="1812.1" cy="178.5" r="5.77"/><circle cx="1838.5" cy="185.9" r="5.77"/><circle cx="1820.9" cy="171.6" r="5.77"/><circle cx="1839.9" cy="185.9" r="5.77"/><circle cx="1790.5" cy="171.4" r="5.77"/><circle cx="1793.6" cy="184.8" r="5.77"/><circle cx="1863.0" cy="184.3" r="5.77"/><circle cx="1871.3" cy="185.3" r="5.77"/><circle cx="1876.2" cy="182.9" r="5.77"/><circle cx="1814.5" cy="178.7" r="5.77"/><circle cx="1845.4" cy="178.9" r="5.77"/><circle cx="1817.1" cy="178.3" r="5.77"/><circle cx="1880.6" cy="172.3" r="5.77"/><circle cx="1866.6" cy="178.3" r="5.77"/><circle cx="1882.4" cy="172.8" r="5.77"/><circle cx="1750.0" cy="181.2" r="5.77"/><circle cx="1721.0" cy="193.1" r="5.77"/><circle cx="1699.9" cy="188.2" r="5.77"/><circle cx="1715.5" cy="183.9" r="5.77"/><circle cx="1754.6" cy="186.1" r="5.77"/><circle cx="1726.9" cy="199.9" r="5.77"/><circle cx="1737.0" cy="186.1" r="5.77"/><circle cx="1741.7" cy="183.3" r="5.77"/><circle cx="1735.8" cy="176.1" r="5.77"/><circle cx="1710.4" cy="200.7" r="5.77"/><circle cx="1716.2" cy="178.7" r="5.77"/><circle cx="1714.4" cy="178.8" r="5.77"/><circle cx="1713.8" cy="168.5" r="5.77"/><circle cx="1713.5" cy="195.9" r="5.77"/><circle cx="1716.6" cy="184.3" r="5.77"/><circle cx="1714.5" cy="183.4" r="5.77"/><circle cx="1724.0" cy="172.1" r="5.77"/><circle cx="1693.2" cy="171.0" r="5.77"/><circle cx="1767.8" cy="197.7" r="5.77"/><circle cx="1694.0" cy="180.3" r="5.77"/><circle cx="1700.2" cy="189.5" r="5.77"/><circle cx="1725.1" cy="182.9" r="5.77"/><circle cx="1739.3" cy="206.6" r="5.77"/><circle cx="1730.1" cy="195.1" r="5.77"/><circle cx="1747.8" cy="181.1" r="5.77"/><circle cx="1750.3" cy="180.9" r="5.77"/><circle cx="1725.7" cy="195.8" r="5.77"/><circle cx="1750.4" cy="163.8" r="5.77"/><circle cx="1722.0" cy="207.7" r="5.77"/><circle cx="1717.3" cy="193.9" r="5.77"/><circle cx="1729.3" cy="190.6" r="5.77"/><circle cx="1692.0" cy="185.1" r="5.77"/><circle cx="1727.8" cy="180.6" r="5.77"/><circle cx="1731.8" cy="179.5" r="5.77"/><circle cx="1703.4" cy="183.5" r="5.77"/><circle cx="1742.5" cy="180.3" r="5.77"/><circle cx="1741.7" cy="194.5" r="5.77"/><circle cx="1725.8" cy="202.3" r="5.77"/><circle cx="1731.8" cy="189.5" r="5.77"/><circle cx="1743.3" cy="179.9" r="5.77"/><circle cx="1427.0" cy="332.3" r="5.77"/><circle cx="1424.0" cy="354.1" r="5.77"/><circle cx="1444.9" cy="343.6" r="5.77"/><circle cx="1441.3" cy="358.6" r="5.77"/><circle cx="1443.4" cy="349.6" r="5.77"/><circle cx="1455.3" cy="334.7" r="5.77"/><circle cx="1467.3" cy="336.2" r="5.77"/><circle cx="1474.8" cy="339.1" r="5.77"/><circle cx="1489.7" cy="329.6" r="5.77"/><circle cx="1477.7" cy="360.1" r="5.77"/><circle cx="1480.1" cy="369.0" r="5.77"/><circle cx="1535.4" cy="383.4" r="5.77"/><circle cx="1604.7" cy="326.3" r="5.77"/><circle cx="1651.0" cy="320.6" r="5.77"/><circle cx="1646.5" cy="328.7" r="5.77"/><circle cx="1635.5" cy="333.2" r="5.77"/><circle cx="1661.5" cy="340.6" r="5.77"/><circle cx="1664.5" cy="352.6" r="5.77"/><circle cx="1672.5" cy="348.1" r="5.77"/><circle cx="1679.4" cy="344.2" r="5.77"/><circle cx="1685.4" cy="339.1" r="5.77"/><circle cx="1689.9" cy="336.2" r="5.77"/><circle cx="1704.2" cy="340.0" r="5.77"/><circle cx="1662.4" cy="369.0" r="5.77"/><circle cx="1678.8" cy="365.4" r="5.77"/><circle cx="1690.5" cy="366.0" r="5.77"/><circle cx="1737.1" cy="337.0" r="5.77"/><circle cx="1729.3" cy="351.7" r="5.77"/><circle cx="1643.6" cy="360.1" r="5.77"/><circle cx="1606.2" cy="370.5" r="5.77"/><circle cx="1498.7" cy="223.5" r="5.77"/><circle cx="1483.1" cy="242.0" r="5.77"/><circle cx="1481.3" cy="248.9" r="5.77"/><circle cx="1513.6" cy="231.6" r="5.77"/><circle cx="1503.1" cy="240.5" r="5.77"/><circle cx="1501.6" cy="255.5" r="5.77"/><circle cx="1504.6" cy="267.4" r="5.77"/><circle cx="1496.6" cy="277.0" r="5.77"/><circle cx="1521.1" cy="248.0" r="5.77"/><circle cx="1527.9" cy="260.6" r="5.77"/><circle cx="1536.9" cy="272.5" r="5.77"/><circle cx="1546.5" cy="268.9" r="5.77"/><circle cx="1566.8" cy="264.4" r="5.77"/><circle cx="1568.0" cy="280.9" r="5.77"/><circle cx="1577.2" cy="293.4" r="5.77"/><circle cx="1546.5" cy="293.4" r="5.77"/><circle cx="1540.5" cy="301.2" r="5.77"/><circle cx="1527.9" cy="312.2" r="5.77"/><circle cx="1580.2" cy="260.6" r="5.77"/><circle cx="1591.3" cy="265.9" r="5.77"/><circle cx="1601.7" cy="257.0" r="5.77"/><circle cx="1616.7" cy="258.5" r="5.77"/><circle cx="1628.6" cy="265.9" r="5.77"/><circle cx="1636.1" cy="249.5" r="5.77"/><circle cx="1681.5" cy="225.6" r="5.77"/><circle cx="1713.8" cy="228.6" r="5.77"/><circle cx="1695.2" cy="242.0" r="5.77"/><circle cx="1706.3" cy="251.0" r="5.77"/><circle cx="1701.2" cy="258.5" r="5.77"/><circle cx="1697.3" cy="265.3" r="5.77"/><circle cx="1713.2" cy="269.5" r="5.77"/><circle cx="1720.3" cy="244.4" r="5.77"/><circle cx="1728.1" cy="240.5" r="5.77"/><circle cx="1740.7" cy="250.1" r="5.77"/><circle cx="1750.2" cy="230.7" r="5.77"/><circle cx="1748.1" cy="208.3" r="5.77"/><circle cx="1643.6" cy="170.9" r="5.77"/><circle cx="1640.0" cy="196.3" r="5.77"/><circle cx="1729.8" cy="140.9" r="5.77"/><circle cx="1728.7" cy="147.8" r="5.77"/><circle cx="1691.0" cy="156.8" r="5.77"/><circle cx="1759.7" cy="152.3" r="5.77"/><circle cx="1785.1" cy="153.2" r="5.77"/><circle cx="1810.8" cy="157.7" r="5.77"/><circle cx="1720.3" cy="164.2" r="5.77"/><circle cx="1715.8" cy="170.2" r="5.77"/><circle cx="1739.7" cy="163.3" r="5.77"/><circle cx="1754.6" cy="164.2" r="5.77"/><circle cx="1686.5" cy="177.7" r="5.77"/><circle cx="1674.0" cy="186.6" r="5.77"/><circle cx="1702.4" cy="178.3" r="5.77"/><circle cx="1688.9" cy="189.6" r="5.77"/><circle cx="1690.4" cy="199.5" r="5.77"/><circle cx="1705.3" cy="197.1" r="5.77"/><circle cx="1699.4" cy="186.6" r="5.77"/><circle cx="1712.8" cy="186.6" r="5.77"/><circle cx="1721.8" cy="182.2" r="5.77"/><circle cx="1727.8" cy="171.7" r="5.77"/><circle cx="1748.1" cy="208.2" r="5.77"/><circle cx="1798.0" cy="201.6" r="5.77"/><circle cx="1844.3" cy="204.0" r="5.77"/><circle cx="1941.4" cy="194.1" r="5.77"/><circle cx="1881.6" cy="189.6" r="5.77"/><circle cx="1890.6" cy="180.7" r="5.77"/><circle cx="1874.2" cy="171.1" r="5.77"/><circle cx="1821.9" cy="168.1" r="5.77"/><circle cx="1833.8" cy="170.2" r="5.77"/><circle cx="1803.9" cy="240.4" r="5.77"/><circle cx="1830.2" cy="235.9" r="5.77"/><circle cx="1907.0" cy="241.9" r="5.77"/><circle cx="1889.1" cy="345.0" r="5.77"/></g>
<path d="M1406.42 442.71L1437.25 420.28M1451.58 409.84L1482.41 387.41M1496.74 376.98L1527.56 354.54M1541.90 344.11L1572.72 321.67M1587.05 311.24L1617.88 288.81M1632.21 278.38L1663.04 255.94M1677.37 245.51L1708.20 223.07M1722.53 212.64L1753.36 190.20M1767.69 179.77L1798.52 157.34M1812.85 146.91L1843.67 124.47M1858.01 114.04L1888.83 91.60M1903.16 81.17L1933.99 58.73" stroke="#ff0000" stroke-width="8.55" fill="none" clip-path="url(#c2)"/>
<path d="M1421.00 21.24L1421.00 432.10L1985.51 432.10M1421.00 432.10L1421.00 438.08M1421.00 432.10L1415.02 432.10M1533.90 432.10L1533.90 438.08M1421.00 349.93L1415.02 349.93M1646.80 432.10L1646.80 438.08M1421.00 267.76L1415.02 267.76M1759.70 432.10L1759.70 438.08M1421.00 185.58L1415.02 185.58M1872.61 432.10L1872.61 438.08M1421.00 103.41L1415.02 103.41M1985.51 432.10L1985.51 438.08M1421.00 21.24L1415.02 21.24" stroke="#3a3a3a" stroke-width="1.75" fill="none" stroke-linecap="square"/>
<g font-size="29.06"><text transform="translate(1421.00 465.59) scale(1.000 1)" text-anchor="middle">−0.2</text><text transform="translate(1406.78 442.30) scale(1.000 1)" text-anchor="end">−0.2</text><text transform="translate(1533.90 465.59) scale(1.000 1)" text-anchor="middle">0.0</text><text transform="translate(1406.78 360.13) scale(1.000 1)" text-anchor="end">0.0</text><text transform="translate(1646.80 465.59) scale(1.000 1)" text-anchor="middle">0.2</text><text transform="translate(1406.78 277.96) scale(1.000 1)" text-anchor="end">0.2</text><text transform="translate(1759.70 465.59) scale(1.000 1)" text-anchor="middle">0.4</text><text transform="translate(1406.78 195.79) scale(1.000 1)" text-anchor="end">0.4</text><text transform="translate(1872.61 465.59) scale(1.000 1)" text-anchor="middle">0.6</text><text transform="translate(1406.78 113.61) scale(1.000 1)" text-anchor="end">0.6</text><text transform="translate(1985.51 465.59) scale(1.000 1)" text-anchor="middle">0.8</text><text transform="translate(1406.78 31.44) scale(1.000 1)" text-anchor="end">0.8</text></g>
<text transform="translate(1703.25 500.11) scale(1.000 1)" text-anchor="middle" font-size="28.75">LST</text>
<text transform="translate(1541.60 55.50) scale(1.000 1)" text-anchor="middle" font-size="30.09">y=0.013a-3.556</text>
<text transform="translate(1542.90 88.80) scale(1.000 1)" text-anchor="middle" font-size="30.09">RMSE=0.124</text>
<text transform="translate(1540.40 122.30) scale(1.000 1)" text-anchor="middle" font-size="30.09">R²=0.69</text>
<!-- panel 4 -->
<clipPath id="c3"><rect x="122.90" y="517.41" width="573.78" height="388.49"/></clipPath>
<g fill="#1f77b4" clip-path="url(#c3)"><circle cx="228.2" cy="820.1" r="5.46"/><circle cx="252.4" cy="841.2" r="5.46"/><circle cx="251.5" cy="819.1" r="5.46"/><circle cx="240.0" cy="801.4" r="5.46"/><circle cx="245.4" cy="817.9" r="5.46"/><circle cx="250.3" cy="803.5" r="5.46"/><circle cx="300.1" cy="838.3" r="5.46"/><circle cx="265.1" cy="823.4" r="5.46"/><circle cx="263.8" cy="796.5" r="5.46"/><circle cx="279.9" cy="815.2" r="5.46"/><circle cx="257.3" cy="820.7" r="5.46"/><circle cx="252.2" cy="817.4" r="5.46"/><circle cx="262.5" cy="779.2" r="5.46"/><circle cx="239.3" cy="810.4" r="5.46"/><circle cx="312.0" cy="840.7" r="5.46"/><circle cx="257.4" cy="799.9" r="5.46"/><circle cx="276.2" cy="789.2" r="5.46"/><circle cx="205.8" cy="811.0" r="5.46"/><circle cx="259.0" cy="830.8" r="5.46"/><circle cx="293.1" cy="796.3" r="5.46"/><circle cx="272.4" cy="829.3" r="5.46"/><circle cx="272.0" cy="830.6" r="5.46"/><circle cx="233.8" cy="797.2" r="5.46"/><circle cx="281.2" cy="801.7" r="5.46"/><circle cx="245.1" cy="816.9" r="5.46"/><circle cx="290.1" cy="812.9" r="5.46"/><circle cx="220.3" cy="820.8" r="5.46"/><circle cx="289.8" cy="812.3" r="5.46"/><circle cx="308.3" cy="824.7" r="5.46"/><circle cx="236.4" cy="793.7" r="5.46"/><circle cx="225.4" cy="805.1" r="5.46"/><circle cx="260.0" cy="819.5" r="5.46"/><circle cx="249.2" cy="841.3" r="5.46"/><circle cx="379.6" cy="797.2" r="5.46"/><circle cx="242.2" cy="830.6" r="5.46"/><circle cx="200.7" cy="821.3" r="5.46"/><circle cx="208.7" cy="816.5" r="5.46"/><circle cx="315.9" cy="818.8" r="5.46"/><circle cx="231.4" cy="828.3" r="5.46"/><circle cx="203.2" cy="799.4" r="5.46"/><circle cx="283.9" cy="826.3" r="5.46"/><circle cx="272.0" cy="835.8" r="5.46"/><circle cx="247.6" cy="821.9" r="5.46"/><circle cx="234.0" cy="803.4" r="5.46"/><circle cx="324.7" cy="806.6" r="5.46"/><circle cx="262.4" cy="862.4" r="5.46"/><circle cx="237.9" cy="820.9" r="5.46"/><circle cx="249.7" cy="815.3" r="5.46"/><circle cx="222.3" cy="821.4" r="5.46"/><circle cx="252.4" cy="786.9" r="5.46"/><circle cx="219.7" cy="870.0" r="5.46"/><circle cx="222.1" cy="805.5" r="5.46"/><circle cx="277.5" cy="805.0" r="5.46"/><circle cx="252.2" cy="836.8" r="5.46"/><circle cx="267.4" cy="843.2" r="5.46"/><circle cx="265.3" cy="812.5" r="5.46"/><circle cx="299.0" cy="810.2" r="5.46"/><circle cx="257.6" cy="803.1" r="5.46"/><circle cx="265.0" cy="823.8" r="5.46"/><circle cx="211.0" cy="815.7" r="5.46"/><circle cx="251.9" cy="716.4" r="5.46"/><circle cx="323.0" cy="728.8" r="5.46"/><circle cx="245.1" cy="731.9" r="5.46"/><circle cx="254.6" cy="725.0" r="5.46"/><circle cx="226.6" cy="724.5" r="5.46"/><circle cx="218.9" cy="740.6" r="5.46"/><circle cx="376.0" cy="736.3" r="5.46"/><circle cx="267.6" cy="731.5" r="5.46"/><circle cx="351.8" cy="721.5" r="5.46"/><circle cx="304.8" cy="723.9" r="5.46"/><circle cx="333.3" cy="735.0" r="5.46"/><circle cx="268.8" cy="721.5" r="5.46"/><circle cx="374.0" cy="734.6" r="5.46"/><circle cx="336.7" cy="720.1" r="5.46"/><circle cx="244.7" cy="723.9" r="5.46"/><circle cx="348.4" cy="722.5" r="5.46"/><circle cx="291.3" cy="729.5" r="5.46"/><circle cx="369.5" cy="727.6" r="5.46"/><circle cx="274.3" cy="727.9" r="5.46"/><circle cx="249.5" cy="727.6" r="5.46"/><circle cx="236.5" cy="730.7" r="5.46"/><circle cx="313.5" cy="726.0" r="5.46"/><circle cx="358.9" cy="736.1" r="5.46"/><circle cx="373.8" cy="726.3" r="5.46"/><circle cx="375.6" cy="727.4" r="5.46"/><circle cx="257.3" cy="732.7" r="5.46"/><circle cx="294.1" cy="715.1" r="5.46"/><circle cx="349.1" cy="733.4" r="5.46"/><circle cx="231.7" cy="726.5" r="5.46"/><circle cx="279.2" cy="716.1" r="5.46"/><circle cx="311.7" cy="731.3" r="5.46"/><circle cx="305.1" cy="713.0" r="5.46"/><circle cx="275.8" cy="730.5" r="5.46"/><circle cx="280.4" cy="734.4" r="5.46"/><circle cx="367.4" cy="719.8" r="5.46"/><circle cx="295.4" cy="724.6" r="5.46"/><circle cx="282.5" cy="740.0" r="5.46"/><circle cx="282.2" cy="741.5" r="5.46"/><circle cx="374.1" cy="718.1" r="5.46"/><circle cx="358.1" cy="730.6" r="5.46"/><circle cx="383.2" cy="726.5" r="5.46"/><circle cx="282.3" cy="734.4" r="5.46"/><circle cx="338.0" cy="730.0" r="5.46"/><circle cx="295.1" cy="722.4" r="5.46"/><circle cx="344.7" cy="738.4" r="5.46"/><circle cx="257.4" cy="732.3" r="5.46"/><circle cx="369.9" cy="717.0" r="5.46"/><circle cx="339.3" cy="720.9" r="5.46"/><circle cx="279.6" cy="731.7" r="5.46"/><circle cx="226.0" cy="734.4" r="5.46"/><circle cx="273.0" cy="730.5" r="5.46"/><circle cx="277.7" cy="724.2" r="5.46"/><circle cx="331.1" cy="718.2" r="5.46"/><circle cx="341.4" cy="732.3" r="5.46"/><circle cx="285.9" cy="728.0" r="5.46"/><circle cx="266.4" cy="726.0" r="5.46"/><circle cx="351.1" cy="713.8" r="5.46"/><circle cx="271.4" cy="732.0" r="5.46"/><circle cx="361.7" cy="718.3" r="5.46"/><circle cx="321.9" cy="715.8" r="5.46"/><circle cx="384.0" cy="719.8" r="5.46"/><circle cx="320.4" cy="720.3" r="5.46"/><circle cx="262.4" cy="728.3" r="5.46"/><circle cx="381.6" cy="728.6" r="5.46"/><circle cx="367.1" cy="723.4" r="5.46"/><circle cx="216.2" cy="718.2" r="5.46"/><circle cx="245.3" cy="718.0" r="5.46"/><circle cx="346.1" cy="719.7" r="5.46"/><circle cx="230.4" cy="719.3" r="5.46"/><circle cx="363.5" cy="734.8" r="5.46"/><circle cx="299.4" cy="738.4" r="5.46"/><circle cx="278.3" cy="724.0" r="5.46"/><circle cx="243.8" cy="738.6" r="5.46"/><circle cx="355.2" cy="719.9" r="5.46"/><circle cx="302.7" cy="728.7" r="5.46"/><circle cx="296.8" cy="728.1" r="5.46"/><circle cx="239.1" cy="731.7" r="5.46"/><circle cx="250.1" cy="727.3" r="5.46"/><circle cx="364.4" cy="727.0" r="5.46"/><circle cx="361.1" cy="719.3" r="5.46"/><circle cx="346.9" cy="730.7" r="5.46"/><circle cx="307.0" cy="734.9" r="5.46"/><circle cx="245.2" cy="725.0" r="5.46"/><circle cx="249.4" cy="739.3" r="5.46"/><circle cx="263.4" cy="737.9" r="5.46"/><circle cx="219.9" cy="736.0" r="5.46"/><circle cx="327.4" cy="725.9" r="5.46"/><circle cx="225.5" cy="735.2" r="5.46"/><circle cx="293.5" cy="718.3" r="5.46"/><circle cx="277.6" cy="736.0" r="5.46"/><circle cx="286.8" cy="729.7" r="5.46"/><circle cx="288.2" cy="736.9" r="5.46"/><circle cx="273.9" cy="730.2" r="5.46"/><circle cx="354.0" cy="717.1" r="5.46"/><circle cx="241.4" cy="732.5" r="5.46"/><circle cx="262.9" cy="728.0" r="5.46"/><circle cx="322.2" cy="718.9" r="5.46"/><circle cx="214.8" cy="736.1" r="5.46"/><circle cx="288.3" cy="724.7" r="5.46"/><circle cx="247.2" cy="725.0" r="5.46"/><circle cx="218.2" cy="733.8" r="5.46"/><circle cx="297.5" cy="733.9" r="5.46"/><circle cx="292.2" cy="734.1" r="5.46"/><circle cx="251.8" cy="719.2" r="5.46"/><circle cx="364.2" cy="716.8" r="5.46"/><circle cx="379.0" cy="716.7" r="5.46"/><circle cx="361.3" cy="723.2" r="5.46"/><circle cx="235.0" cy="725.1" r="5.46"/><circle cx="271.7" cy="728.1" r="5.46"/><circle cx="340.8" cy="718.1" r="5.46"/><circle cx="219.6" cy="720.2" r="5.46"/><circle cx="345.6" cy="715.0" r="5.46"/><circle cx="281.4" cy="732.6" r="5.46"/><circle cx="216.4" cy="731.5" r="5.46"/><circle cx="367.4" cy="722.5" r="5.46"/><circle cx="300.5" cy="730.0" r="5.46"/><circle cx="272.8" cy="724.4" r="5.46"/><circle cx="354.1" cy="724.6" r="5.46"/><circle cx="318.7" cy="722.5" r="5.46"/><circle cx="265.2" cy="738.5" r="5.46"/><circle cx="491.9" cy="670.4" r="5.46"/><circle cx="430.1" cy="657.1" r="5.46"/><circle cx="458.6" cy="653.5" r="5.46"/><circle cx="488.7" cy="668.7" r="5.46"/><circle cx="435.2" cy="676.5" r="5.46"/><circle cx="437.2" cy="675.4" r="5.46"/><circle cx="394.2" cy="675.4" r="5.46"/><circle cx="392.2" cy="671.5" r="5.46"/><circle cx="409.5" cy="677.1" r="5.46"/><circle cx="423.6" cy="651.5" r="5.46"/><circle cx="438.9" cy="678.8" r="5.46"/><circle cx="464.6" cy="681.8" r="5.46"/><circle cx="445.5" cy="660.5" r="5.46"/><circle cx="399.2" cy="673.2" r="5.46"/><circle cx="404.8" cy="660.5" r="5.46"/><circle cx="446.2" cy="668.6" r="5.46"/><circle cx="419.0" cy="669.9" r="5.46"/><circle cx="405.2" cy="666.7" r="5.46"/><circle cx="398.7" cy="681.3" r="5.46"/><circle cx="482.9" cy="663.6" r="5.46"/><circle cx="472.3" cy="655.4" r="5.46"/><circle cx="416.1" cy="670.2" r="5.46"/><circle cx="469.7" cy="676.2" r="5.46"/><circle cx="451.8" cy="656.0" r="5.46"/><circle cx="409.9" cy="684.8" r="5.46"/><circle cx="468.3" cy="652.6" r="5.46"/><circle cx="394.6" cy="656.5" r="5.46"/><circle cx="488.6" cy="674.0" r="5.46"/><circle cx="461.3" cy="667.3" r="5.46"/><circle cx="392.7" cy="677.0" r="5.46"/><circle cx="449.5" cy="674.3" r="5.46"/><circle cx="484.6" cy="664.8" r="5.46"/><circle cx="462.8" cy="679.9" r="5.46"/><circle cx="458.1" cy="676.3" r="5.46"/><circle cx="451.9" cy="679.9" r="5.46"/><circle cx="484.0" cy="672.4" r="5.46"/><circle cx="408.1" cy="677.1" r="5.46"/><circle cx="414.1" cy="660.1" r="5.46"/><circle cx="455.5" cy="678.7" r="5.46"/><circle cx="493.3" cy="660.0" r="5.46"/><circle cx="442.3" cy="662.2" r="5.46"/><circle cx="458.9" cy="677.2" r="5.46"/><circle cx="438.9" cy="669.9" r="5.46"/><circle cx="445.2" cy="666.4" r="5.46"/><circle cx="484.3" cy="675.2" r="5.46"/><circle cx="398.0" cy="677.9" r="5.46"/><circle cx="482.1" cy="662.0" r="5.46"/><circle cx="404.2" cy="682.2" r="5.46"/><circle cx="422.9" cy="669.2" r="5.46"/><circle cx="467.8" cy="672.3" r="5.46"/><circle cx="390.0" cy="678.3" r="5.46"/><circle cx="477.1" cy="662.6" r="5.46"/><circle cx="422.0" cy="665.7" r="5.46"/><circle cx="409.2" cy="670.8" r="5.46"/><circle cx="489.3" cy="673.0" r="5.46"/><circle cx="472.6" cy="675.6" r="5.46"/><circle cx="400.1" cy="679.3" r="5.46"/><circle cx="433.6" cy="667.5" r="5.46"/><circle cx="412.5" cy="683.0" r="5.46"/><circle cx="402.7" cy="665.6" r="5.46"/><circle cx="479.5" cy="654.7" r="5.46"/><circle cx="440.8" cy="660.4" r="5.46"/><circle cx="405.8" cy="682.6" r="5.46"/><circle cx="418.1" cy="666.2" r="5.46"/><circle cx="414.6" cy="686.4" r="5.46"/><circle cx="436.8" cy="666.3" r="5.46"/><circle cx="464.3" cy="664.8" r="5.46"/><circle cx="453.2" cy="668.4" r="5.46"/><circle cx="385.1" cy="659.5" r="5.46"/><circle cx="397.8" cy="659.6" r="5.46"/><circle cx="451.7" cy="658.1" r="5.46"/><circle cx="412.6" cy="667.7" r="5.46"/><circle cx="403.1" cy="652.5" r="5.46"/><circle cx="484.2" cy="679.6" r="5.46"/><circle cx="395.5" cy="660.7" r="5.46"/><circle cx="452.7" cy="669.5" r="5.46"/><circle cx="466.7" cy="677.1" r="5.46"/><circle cx="474.5" cy="669.3" r="5.46"/><circle cx="399.7" cy="676.8" r="5.46"/><circle cx="411.6" cy="659.6" r="5.46"/><circle cx="423.6" cy="671.0" r="5.46"/><circle cx="475.1" cy="668.3" r="5.46"/><circle cx="459.5" cy="665.6" r="5.46"/><circle cx="453.7" cy="680.2" r="5.46"/><circle cx="488.6" cy="673.9" r="5.46"/><circle cx="467.4" cy="665.7" r="5.46"/><circle cx="432.7" cy="678.8" r="5.46"/><circle cx="462.6" cy="671.1" r="5.46"/><circle cx="439.0" cy="666.8" r="5.46"/><circle cx="461.9" cy="683.1" r="5.46"/><circle cx="407.3" cy="657.1" r="5.46"/><circle cx="399.6" cy="671.6" r="5.46"/><circle cx="487.7" cy="672.3" r="5.46"/><circle cx="443.0" cy="680.2" r="5.46"/><circle cx="423.8" cy="668.2" r="5.46"/><circle cx="451.8" cy="675.9" r="5.46"/><circle cx="472.0" cy="667.0" r="5.46"/><circle cx="451.3" cy="668.8" r="5.46"/><circle cx="495.1" cy="659.4" r="5.46"/><circle cx="486.9" cy="682.1" r="5.46"/><circle cx="489.2" cy="670.8" r="5.46"/><circle cx="457.6" cy="665.3" r="5.46"/><circle cx="406.5" cy="666.9" r="5.46"/><circle cx="442.4" cy="671.8" r="5.46"/><circle cx="450.6" cy="671.0" r="5.46"/><circle cx="442.2" cy="676.4" r="5.46"/><circle cx="410.8" cy="669.2" r="5.46"/><circle cx="385.1" cy="677.4" r="5.46"/><circle cx="486.4" cy="659.2" r="5.46"/><circle cx="430.6" cy="679.3" r="5.46"/><circle cx="449.2" cy="675.2" r="5.46"/><circle cx="493.1" cy="660.9" r="5.46"/><circle cx="400.1" cy="676.6" r="5.46"/><circle cx="428.6" cy="680.6" r="5.46"/><circle cx="396.7" cy="672.3" r="5.46"/><circle cx="401.0" cy="664.2" r="5.46"/><circle cx="406.4" cy="658.9" r="5.46"/><circle cx="394.0" cy="669.4" r="5.46"/><circle cx="481.2" cy="668.5" r="5.46"/><circle cx="431.7" cy="666.7" r="5.46"/><circle cx="507.8" cy="659.4" r="5.46"/><circle cx="550.5" cy="661.9" r="5.46"/><circle cx="486.6" cy="662.1" r="5.46"/><circle cx="516.8" cy="661.3" r="5.46"/><circle cx="517.7" cy="664.8" r="5.46"/><circle cx="539.6" cy="673.7" r="5.46"/><circle cx="530.5" cy="667.2" r="5.46"/><circle cx="545.9" cy="669.6" r="5.46"/><circle cx="530.1" cy="665.5" r="5.46"/><circle cx="568.2" cy="658.7" r="5.46"/><circle cx="496.2" cy="666.8" r="5.46"/><circle cx="495.0" cy="667.8" r="5.46"/><circle cx="495.2" cy="664.0" r="5.46"/><circle cx="492.4" cy="659.7" r="5.46"/><circle cx="546.8" cy="660.9" r="5.46"/><circle cx="511.4" cy="673.5" r="5.46"/><circle cx="556.8" cy="658.4" r="5.46"/><circle cx="555.4" cy="661.9" r="5.46"/><circle cx="523.9" cy="664.4" r="5.46"/><circle cx="553.4" cy="662.1" r="5.46"/><circle cx="497.8" cy="667.4" r="5.46"/><circle cx="493.9" cy="665.7" r="5.46"/><circle cx="555.4" cy="661.3" r="5.46"/><circle cx="553.3" cy="659.1" r="5.46"/><circle cx="525.4" cy="666.2" r="5.46"/><circle cx="541.9" cy="656.3" r="5.46"/><circle cx="533.0" cy="660.1" r="5.46"/><circle cx="546.3" cy="663.7" r="5.46"/><circle cx="535.1" cy="664.1" r="5.46"/><circle cx="488.6" cy="658.3" r="5.46"/><circle cx="568.5" cy="670.4" r="5.46"/><circle cx="501.5" cy="663.2" r="5.46"/><circle cx="511.1" cy="664.3" r="5.46"/><circle cx="564.8" cy="666.5" r="5.46"/><circle cx="541.1" cy="669.7" r="5.46"/><circle cx="563.7" cy="662.2" r="5.46"/><circle cx="486.2" cy="670.8" r="5.46"/><circle cx="501.5" cy="668.4" r="5.46"/><circle cx="539.5" cy="666.5" r="5.46"/><circle cx="512.4" cy="670.5" r="5.46"/><circle cx="516.7" cy="664.7" r="5.46"/><circle cx="503.4" cy="662.9" r="5.46"/><circle cx="507.9" cy="670.3" r="5.46"/><circle cx="552.2" cy="664.3" r="5.46"/><circle cx="551.5" cy="664.5" r="5.46"/><circle cx="539.8" cy="670.8" r="5.46"/><circle cx="485.7" cy="667.0" r="5.46"/><circle cx="505.5" cy="672.1" r="5.46"/><circle cx="561.6" cy="664.6" r="5.46"/><circle cx="511.9" cy="661.2" r="5.46"/><circle cx="490.2" cy="665.4" r="5.46"/><circle cx="560.7" cy="666.8" r="5.46"/><circle cx="559.5" cy="664.5" r="5.46"/><circle cx="492.4" cy="667.4" r="5.46"/><circle cx="513.1" cy="658.3" r="5.46"/><circle cx="540.5" cy="664.2" r="5.46"/><circle cx="566.6" cy="662.3" r="5.46"/><circle cx="560.5" cy="666.2" r="5.46"/><circle cx="540.0" cy="668.7" r="5.46"/><circle cx="484.9" cy="665.3" r="5.46"/><circle cx="563.7" cy="664.3" r="5.46"/><circle cx="567.8" cy="657.7" r="5.46"/><circle cx="493.5" cy="667.7" r="5.46"/><circle cx="543.4" cy="661.1" r="5.46"/><circle cx="482.2" cy="673.3" r="5.46"/><circle cx="511.1" cy="664.4" r="5.46"/><circle cx="554.3" cy="666.3" r="5.46"/><circle cx="563.5" cy="661.9" r="5.46"/><circle cx="498.1" cy="666.8" r="5.46"/><circle cx="537.6" cy="668.8" r="5.46"/><circle cx="334.0" cy="657.3" r="5.46"/><circle cx="330.1" cy="678.9" r="5.46"/><circle cx="362.4" cy="672.9" r="5.46"/><circle cx="377.9" cy="652.9" r="5.46"/><circle cx="374.9" cy="661.8" r="5.46"/><circle cx="376.4" cy="675.3" r="5.46"/><circle cx="196.3" cy="715.0" r="5.46"/><circle cx="211.2" cy="718.6" r="5.46"/><circle cx="180.1" cy="727.0" r="5.46"/><circle cx="182.2" cy="739.5" r="5.46"/><circle cx="201.6" cy="729.1" r="5.46"/><circle cx="200.1" cy="741.9" r="5.46"/><circle cx="194.2" cy="754.4" r="5.46"/><circle cx="201.6" cy="758.9" r="5.46"/><circle cx="227.0" cy="723.1" r="5.46"/><circle cx="219.6" cy="729.1" r="5.46"/><circle cx="219.6" cy="738.0" r="5.46"/><circle cx="225.5" cy="755.3" r="5.46"/><circle cx="234.5" cy="755.9" r="5.46"/><circle cx="243.5" cy="756.5" r="5.46"/><circle cx="257.8" cy="715.6" r="5.46"/><circle cx="261.4" cy="758.9" r="5.46"/><circle cx="264.4" cy="766.4" r="5.46"/><circle cx="270.4" cy="767.9" r="5.46"/><circle cx="271.9" cy="758.9" r="5.46"/><circle cx="283.8" cy="753.0" r="5.46"/><circle cx="294.3" cy="748.5" r="5.46"/><circle cx="314.6" cy="714.1" r="5.46"/><circle cx="337.6" cy="757.4" r="5.46"/><circle cx="336.1" cy="750.0" r="5.46"/><circle cx="351.0" cy="716.2" r="5.46"/><circle cx="369.0" cy="717.1" r="5.46"/><circle cx="400.3" cy="717.7" r="5.46"/><circle cx="413.8" cy="724.0" r="5.46"/><circle cx="434.7" cy="723.1" r="5.46"/><circle cx="395.8" cy="726.1" r="5.46"/><circle cx="382.4" cy="733.5" r="5.46"/><circle cx="386.9" cy="736.5" r="5.46"/><circle cx="392.9" cy="742.5" r="5.46"/><circle cx="399.4" cy="750.0" r="5.46"/><circle cx="406.3" cy="738.0" r="5.46"/><circle cx="425.7" cy="744.0" r="5.46"/><circle cx="129.3" cy="774.8" r="5.46"/><circle cx="174.8" cy="773.9" r="5.46"/><circle cx="156.2" cy="791.8" r="5.46"/><circle cx="168.8" cy="803.1" r="5.46"/><circle cx="182.2" cy="800.2" r="5.46"/><circle cx="188.2" cy="800.8" r="5.46"/><circle cx="147.3" cy="816.6" r="5.46"/><circle cx="143.4" cy="826.2" r="5.46"/><circle cx="124.0" cy="833.6" r="5.46"/><circle cx="127.0" cy="842.6" r="5.46"/><circle cx="141.9" cy="850.1" r="5.46"/><circle cx="147.3" cy="866.5" r="5.46"/><circle cx="167.3" cy="862.0" r="5.46"/><circle cx="179.2" cy="850.1" r="5.46"/><circle cx="182.2" cy="854.5" r="5.46"/><circle cx="174.8" cy="818.7" r="5.46"/><circle cx="174.8" cy="829.1" r="5.46"/><circle cx="182.2" cy="824.7" r="5.46"/><circle cx="193.3" cy="833.6" r="5.46"/><circle cx="194.2" cy="815.7" r="5.46"/><circle cx="201.6" cy="811.2" r="5.46"/><circle cx="204.6" cy="818.7" r="5.46"/><circle cx="210.6" cy="826.2" r="5.46"/><circle cx="207.6" cy="806.7" r="5.46"/><circle cx="215.1" cy="809.7" r="5.46"/><circle cx="200.1" cy="789.7" r="5.46"/><circle cx="198.1" cy="782.8" r="5.46"/><circle cx="204.0" cy="796.3" r="5.46"/><circle cx="212.1" cy="799.3" r="5.46"/><circle cx="219.6" cy="791.8" r="5.46"/><circle cx="224.1" cy="787.3" r="5.46"/><circle cx="230.0" cy="782.8" r="5.46"/><circle cx="236.0" cy="778.3" r="5.46"/><circle cx="240.5" cy="785.8" r="5.46"/><circle cx="245.0" cy="793.3" r="5.46"/><circle cx="252.4" cy="785.8" r="5.46"/><circle cx="246.5" cy="799.3" r="5.46"/><circle cx="230.0" cy="818.7" r="5.46"/><circle cx="237.5" cy="817.2" r="5.46"/><circle cx="246.5" cy="818.7" r="5.46"/><circle cx="255.4" cy="814.2" r="5.46"/><circle cx="219.6" cy="845.6" r="5.46"/><circle cx="216.6" cy="853.0" r="5.46"/><circle cx="225.5" cy="842.6" r="5.46"/><circle cx="230.0" cy="835.1" r="5.46"/><circle cx="234.5" cy="829.1" r="5.46"/><circle cx="213.6" cy="839.6" r="5.46"/><circle cx="210.6" cy="850.1" r="5.46"/><circle cx="240.5" cy="856.0" r="5.46"/><circle cx="240.5" cy="860.5" r="5.46"/><circle cx="246.5" cy="843.5" r="5.46"/><circle cx="253.9" cy="867.4" r="5.46"/><circle cx="262.9" cy="868.6" r="5.46"/><circle cx="258.4" cy="850.1" r="5.46"/><circle cx="261.4" cy="842.6" r="5.46"/><circle cx="262.9" cy="832.7" r="5.46"/><circle cx="270.4" cy="833.6" r="5.46"/><circle cx="277.8" cy="832.7" r="5.46"/><circle cx="286.8" cy="831.5" r="5.46"/><circle cx="267.4" cy="850.1" r="5.46"/><circle cx="271.9" cy="857.5" r="5.46"/><circle cx="277.8" cy="864.4" r="5.46"/><circle cx="285.3" cy="850.1" r="5.46"/><circle cx="286.8" cy="859.0" r="5.46"/><circle cx="289.8" cy="867.4" r="5.46"/><circle cx="297.2" cy="829.1" r="5.46"/><circle cx="300.2" cy="838.1" r="5.46"/><circle cx="306.2" cy="842.6" r="5.46"/><circle cx="310.7" cy="833.6" r="5.46"/><circle cx="312.2" cy="844.1" r="5.46"/><circle cx="302.6" cy="823.2" r="5.46"/><circle cx="307.7" cy="821.7" r="5.46"/><circle cx="291.3" cy="820.2" r="5.46"/><circle cx="285.3" cy="809.7" r="5.46"/><circle cx="289.8" cy="815.7" r="5.46"/><circle cx="298.7" cy="808.2" r="5.46"/><circle cx="286.8" cy="799.3" r="5.46"/><circle cx="276.3" cy="793.3" r="5.46"/><circle cx="268.9" cy="790.3" r="5.46"/><circle cx="270.4" cy="799.3" r="5.46"/><circle cx="265.9" cy="811.2" r="5.46"/><circle cx="271.9" cy="817.2" r="5.46"/><circle cx="276.3" cy="782.8" r="5.46"/><circle cx="282.9" cy="778.3" r="5.46"/><circle cx="312.2" cy="787.9" r="5.46"/><circle cx="324.1" cy="794.8" r="5.46"/><circle cx="330.1" cy="793.3" r="5.46"/><circle cx="337.6" cy="791.8" r="5.46"/><circle cx="310.7" cy="802.2" r="5.46"/><circle cx="330.1" cy="799.3" r="5.46"/><circle cx="328.6" cy="809.7" r="5.46"/><circle cx="340.6" cy="813.6" r="5.46"/><circle cx="351.0" cy="797.8" r="5.46"/><circle cx="352.5" cy="822.6" r="5.46"/><circle cx="354.0" cy="829.1" r="5.46"/><circle cx="325.6" cy="832.1" r="5.46"/><circle cx="331.6" cy="836.6" r="5.46"/><circle cx="338.5" cy="846.2" r="5.46"/><circle cx="368.4" cy="809.1" r="5.46"/><circle cx="377.9" cy="828.2" r="5.46"/><circle cx="363.6" cy="843.5" r="5.46"/><circle cx="367.5" cy="848.6" r="5.46"/><circle cx="371.9" cy="853.0" r="5.46"/><circle cx="377.3" cy="857.5" r="5.46"/><circle cx="391.4" cy="863.5" r="5.46"/><circle cx="351.0" cy="863.5" r="5.46"/><circle cx="352.5" cy="868.0" r="5.46"/><circle cx="335.5" cy="865.0" r="5.46"/><circle cx="327.1" cy="861.4" r="5.46"/><circle cx="318.2" cy="857.5" r="5.46"/><circle cx="314.6" cy="861.4" r="5.46"/><circle cx="415.3" cy="809.1" r="5.46"/><circle cx="422.1" cy="849.2" r="5.46"/><circle cx="614.4" cy="671.7" r="5.46"/><circle cx="582.7" cy="730.0" r="5.46"/><circle cx="565.7" cy="825.0" r="5.46"/><circle cx="485.0" cy="722.5" r="5.46"/><circle cx="510.4" cy="727.6" r="5.46"/><circle cx="523.0" cy="684.6" r="5.46"/><circle cx="565.7" cy="661.2" r="5.46"/><circle cx="564.2" cy="667.2" r="5.46"/><circle cx="558.2" cy="668.7" r="5.46"/></g>
<path d="M109.11 915.93L138.26 894.72M151.81 884.86L180.96 863.64M194.51 853.78L223.66 832.56M237.21 822.70L266.36 801.48M279.91 791.62L309.06 770.41M322.61 760.54L351.76 739.33M365.31 729.47L394.46 708.25M408.01 698.39L437.16 677.17M450.71 667.31L479.86 646.09M493.42 636.23L522.56 615.02M536.12 605.15L565.26 583.94M578.82 574.08L607.97 552.86" stroke="#ff0000" stroke-width="8.09" fill="none" clip-path="url(#c3)"/>
<path d="M122.90 517.41L122.90 905.90L656.68 905.90M122.90 905.90L122.90 911.55M122.90 905.90L117.25 905.90M229.66 905.90L229.66 911.55M122.90 828.20L117.25 828.20M336.41 905.90L336.41 911.55M122.90 750.50L117.25 750.50M443.17 905.90L443.17 911.55M122.90 672.80L117.25 672.80M549.92 905.90L549.92 911.55M122.90 595.11L117.25 595.11M656.68 905.90L656.68 911.55M122.90 517.41L117.25 517.41" stroke="#3a3a3a" stroke-width="1.66" fill="none" stroke-linecap="square"/>
<g font-size="27.48"><text transform="translate(122.90 937.57) scale(1.000 1)" text-anchor="middle">−0.2</text><text transform="translate(109.45 915.55) scale(1.000 1)" text-anchor="end">−0.2</text><text transform="translate(229.66 937.57) scale(1.000 1)" text-anchor="middle">0.0</text><text transform="translate(109.45 837.85) scale(1.000 1)" text-anchor="end">0.0</text><text transform="translate(336.41 937.57) scale(1.000 1)" text-anchor="middle">0.2</text><text transform="translate(109.45 760.15) scale(1.000 1)" text-anchor="end">0.2</text><text transform="translate(443.17 937.57) scale(1.000 1)" text-anchor="middle">0.4</text><text transform="translate(109.45 682.45) scale(1.000 1)" text-anchor="end">0.4</text><text transform="translate(549.92 937.57) scale(1.000 1)" text-anchor="middle">0.6</text><text transform="translate(109.45 604.75) scale(1.000 1)" text-anchor="end">0.6</text><text transform="translate(656.68 937.57) scale(1.000 1)" text-anchor="middle">0.8</text><text transform="translate(109.45 527.05) scale(1.000 1)" text-anchor="end">0.8</text></g>
<text transform="translate(389.79 969.63) scale(1.000 1)" text-anchor="middle" font-size="27.78">NDVI&amp;LST</text>
<text transform="translate(42.02 849.19) rotate(-90)" font-size="27.19">SIF(mWm</text><text transform="translate(30.04 727.58) rotate(-90) scale(1.2 1)" font-size="20.46">−</text><text transform="translate(30.04 712.38) rotate(-90)" font-size="20.46">2</text><text transform="translate(42.02 697.77) rotate(-90)" font-size="27.19">sr</text><text transform="translate(30.04 677.70) rotate(-90) scale(1.2 1)" font-size="20.46">−</text><text transform="translate(30.04 663.47) rotate(-90)" font-size="20.46">1</text><text transform="translate(42.02 649.24) rotate(-90)" font-size="27.19">nm</text><text transform="translate(30.04 610.46) rotate(-90) scale(1.2 1)" font-size="20.46">−</text><text transform="translate(30.04 595.36) rotate(-90)" font-size="20.46">1</text><text transform="translate(42.02 584.54) rotate(-90)" font-size="27.19">)</text>
<text transform="translate(276.20 547.20) scale(1.000 1)" text-anchor="middle" font-size="28.45">y=0.275a+0.009b-2.465</text>
<text transform="translate(272.70 579.50) scale(1.000 1)" text-anchor="middle" font-size="28.45">RMSE=0.119</text>
<text transform="translate(269.70 611.60) scale(1.000 1)" text-anchor="middle" font-size="28.45">R²=0.71</text>
<!-- panel 5 -->
<clipPath id="c4"><rect x="775.80" y="521.70" width="586.16" height="397.50"/></clipPath>
<g fill="#1f77b4" clip-path="url(#c4)"><circle cx="960.7" cy="790.0" r="5.58"/><circle cx="893.2" cy="831.2" r="5.58"/><circle cx="933.5" cy="768.3" r="5.58"/><circle cx="951.2" cy="817.2" r="5.58"/><circle cx="893.7" cy="817.4" r="5.58"/><circle cx="900.0" cy="832.6" r="5.58"/><circle cx="950.8" cy="816.9" r="5.58"/><circle cx="868.6" cy="810.6" r="5.58"/><circle cx="952.4" cy="763.3" r="5.58"/><circle cx="920.3" cy="791.5" r="5.58"/><circle cx="883.0" cy="775.3" r="5.58"/><circle cx="943.4" cy="776.7" r="5.58"/><circle cx="938.6" cy="794.6" r="5.58"/><circle cx="929.9" cy="795.0" r="5.58"/><circle cx="914.3" cy="770.1" r="5.58"/><circle cx="920.3" cy="799.8" r="5.58"/><circle cx="957.1" cy="794.8" r="5.58"/><circle cx="918.7" cy="805.8" r="5.58"/><circle cx="935.1" cy="821.5" r="5.58"/><circle cx="903.2" cy="826.9" r="5.58"/><circle cx="918.0" cy="772.3" r="5.58"/><circle cx="887.1" cy="802.7" r="5.58"/><circle cx="976.2" cy="778.2" r="5.58"/><circle cx="938.6" cy="799.2" r="5.58"/><circle cx="862.7" cy="820.5" r="5.58"/><circle cx="947.8" cy="766.0" r="5.58"/><circle cx="875.8" cy="791.9" r="5.58"/><circle cx="851.0" cy="812.2" r="5.58"/><circle cx="965.6" cy="800.0" r="5.58"/><circle cx="928.5" cy="819.7" r="5.58"/><circle cx="967.1" cy="791.6" r="5.58"/><circle cx="913.8" cy="772.2" r="5.58"/><circle cx="909.9" cy="836.0" r="5.58"/><circle cx="895.8" cy="791.8" r="5.58"/><circle cx="962.3" cy="777.1" r="5.58"/><circle cx="939.9" cy="780.3" r="5.58"/><circle cx="934.6" cy="786.7" r="5.58"/><circle cx="949.2" cy="819.0" r="5.58"/><circle cx="886.0" cy="782.7" r="5.58"/><circle cx="923.3" cy="831.0" r="5.58"/><circle cx="881.5" cy="787.6" r="5.58"/><circle cx="986.9" cy="776.9" r="5.58"/><circle cx="859.6" cy="826.7" r="5.58"/><circle cx="874.9" cy="811.3" r="5.58"/><circle cx="902.1" cy="816.9" r="5.58"/><circle cx="890.1" cy="832.9" r="5.58"/><circle cx="969.1" cy="777.2" r="5.58"/><circle cx="913.4" cy="801.7" r="5.58"/><circle cx="880.1" cy="840.4" r="5.58"/><circle cx="967.0" cy="809.6" r="5.58"/><circle cx="871.5" cy="821.5" r="5.58"/><circle cx="983.9" cy="773.2" r="5.58"/><circle cx="926.5" cy="811.2" r="5.58"/><circle cx="970.4" cy="760.7" r="5.58"/><circle cx="965.8" cy="793.4" r="5.58"/><circle cx="953.7" cy="812.8" r="5.58"/><circle cx="885.8" cy="793.4" r="5.58"/><circle cx="914.2" cy="765.5" r="5.58"/><circle cx="949.3" cy="801.2" r="5.58"/><circle cx="845.0" cy="823.6" r="5.58"/><circle cx="957.5" cy="806.7" r="5.58"/><circle cx="916.3" cy="794.0" r="5.58"/><circle cx="934.5" cy="811.3" r="5.58"/><circle cx="844.6" cy="820.9" r="5.58"/><circle cx="979.6" cy="777.9" r="5.58"/><circle cx="862.0" cy="803.1" r="5.58"/><circle cx="961.5" cy="767.5" r="5.58"/><circle cx="909.4" cy="781.6" r="5.58"/><circle cx="917.9" cy="767.7" r="5.58"/><circle cx="870.7" cy="819.5" r="5.58"/><circle cx="970.7" cy="787.7" r="5.58"/><circle cx="953.2" cy="784.2" r="5.58"/><circle cx="863.0" cy="836.7" r="5.58"/><circle cx="850.0" cy="802.0" r="5.58"/><circle cx="916.6" cy="768.1" r="5.58"/><circle cx="873.9" cy="834.6" r="5.58"/><circle cx="872.4" cy="823.7" r="5.58"/><circle cx="955.2" cy="770.9" r="5.58"/><circle cx="888.2" cy="785.7" r="5.58"/><circle cx="844.2" cy="817.4" r="5.58"/><circle cx="904.8" cy="789.5" r="5.58"/><circle cx="929.0" cy="785.8" r="5.58"/><circle cx="857.8" cy="803.3" r="5.58"/><circle cx="949.4" cy="767.7" r="5.58"/><circle cx="964.8" cy="786.0" r="5.58"/><circle cx="886.4" cy="838.2" r="5.58"/><circle cx="943.1" cy="757.4" r="5.58"/><circle cx="910.2" cy="818.4" r="5.58"/><circle cx="980.3" cy="768.4" r="5.58"/><circle cx="906.6" cy="832.3" r="5.58"/><circle cx="932.6" cy="768.7" r="5.58"/><circle cx="968.5" cy="797.6" r="5.58"/><circle cx="887.6" cy="770.2" r="5.58"/><circle cx="860.0" cy="820.8" r="5.58"/><circle cx="893.9" cy="770.3" r="5.58"/><circle cx="952.5" cy="784.8" r="5.58"/><circle cx="919.3" cy="814.2" r="5.58"/><circle cx="981.6" cy="782.8" r="5.58"/><circle cx="908.8" cy="791.3" r="5.58"/><circle cx="961.3" cy="770.8" r="5.58"/><circle cx="899.2" cy="829.7" r="5.58"/><circle cx="858.1" cy="814.1" r="5.58"/><circle cx="869.0" cy="816.6" r="5.58"/><circle cx="866.5" cy="782.8" r="5.58"/><circle cx="935.7" cy="815.9" r="5.58"/><circle cx="962.5" cy="780.4" r="5.58"/><circle cx="918.4" cy="793.2" r="5.58"/><circle cx="962.4" cy="810.0" r="5.58"/><circle cx="877.6" cy="791.9" r="5.58"/><circle cx="882.0" cy="772.3" r="5.58"/><circle cx="922.4" cy="780.8" r="5.58"/><circle cx="907.2" cy="783.5" r="5.58"/><circle cx="867.2" cy="821.6" r="5.58"/><circle cx="957.3" cy="763.0" r="5.58"/><circle cx="934.8" cy="760.5" r="5.58"/><circle cx="968.5" cy="785.5" r="5.58"/><circle cx="917.6" cy="821.5" r="5.58"/><circle cx="930.7" cy="766.4" r="5.58"/><circle cx="962.1" cy="772.2" r="5.58"/><circle cx="968.2" cy="804.0" r="5.58"/><circle cx="982.9" cy="781.4" r="5.58"/><circle cx="962.9" cy="782.0" r="5.58"/><circle cx="860.2" cy="818.4" r="5.58"/><circle cx="941.9" cy="825.3" r="5.58"/><circle cx="864.7" cy="799.2" r="5.58"/><circle cx="961.8" cy="781.6" r="5.58"/><circle cx="880.1" cy="784.4" r="5.58"/><circle cx="973.2" cy="769.3" r="5.58"/><circle cx="954.8" cy="776.9" r="5.58"/><circle cx="851.7" cy="793.5" r="5.58"/><circle cx="886.1" cy="813.7" r="5.58"/><circle cx="944.5" cy="780.8" r="5.58"/><circle cx="975.6" cy="790.0" r="5.58"/><circle cx="914.6" cy="794.4" r="5.58"/><circle cx="915.1" cy="781.2" r="5.58"/><circle cx="959.7" cy="782.7" r="5.58"/><circle cx="973.8" cy="766.3" r="5.58"/><circle cx="958.6" cy="760.9" r="5.58"/><circle cx="849.4" cy="800.4" r="5.58"/><circle cx="897.6" cy="834.4" r="5.58"/><circle cx="882.6" cy="806.5" r="5.58"/><circle cx="949.0" cy="809.9" r="5.58"/><circle cx="957.3" cy="762.0" r="5.58"/><circle cx="900.3" cy="786.8" r="5.58"/><circle cx="872.7" cy="823.7" r="5.58"/><circle cx="921.1" cy="780.5" r="5.58"/><circle cx="932.3" cy="805.1" r="5.58"/><circle cx="884.9" cy="798.2" r="5.58"/><circle cx="971.3" cy="802.6" r="5.58"/><circle cx="917.1" cy="819.7" r="5.58"/><circle cx="886.5" cy="798.9" r="5.58"/><circle cx="927.0" cy="809.7" r="5.58"/><circle cx="949.0" cy="805.2" r="5.58"/><circle cx="922.9" cy="810.9" r="5.58"/><circle cx="890.7" cy="786.7" r="5.58"/><circle cx="902.5" cy="815.8" r="5.58"/><circle cx="861.1" cy="788.3" r="5.58"/><circle cx="916.5" cy="799.0" r="5.58"/><circle cx="916.7" cy="794.3" r="5.58"/><circle cx="928.2" cy="800.4" r="5.58"/><circle cx="872.4" cy="804.5" r="5.58"/><circle cx="897.9" cy="798.2" r="5.58"/><circle cx="913.9" cy="783.8" r="5.58"/><circle cx="928.1" cy="783.7" r="5.58"/><circle cx="894.5" cy="803.5" r="5.58"/><circle cx="1109.6" cy="687.1" r="5.58"/><circle cx="1186.3" cy="651.4" r="5.58"/><circle cx="1100.4" cy="681.5" r="5.58"/><circle cx="1128.9" cy="670.6" r="5.58"/><circle cx="1106.9" cy="670.0" r="5.58"/><circle cx="1115.3" cy="653.9" r="5.58"/><circle cx="1156.5" cy="672.8" r="5.58"/><circle cx="1114.4" cy="677.8" r="5.58"/><circle cx="1172.1" cy="669.5" r="5.58"/><circle cx="1171.2" cy="648.8" r="5.58"/><circle cx="1163.8" cy="677.8" r="5.58"/><circle cx="1076.5" cy="672.9" r="5.58"/><circle cx="1142.8" cy="683.5" r="5.58"/><circle cx="1164.1" cy="651.7" r="5.58"/><circle cx="1104.5" cy="653.5" r="5.58"/><circle cx="1157.4" cy="669.5" r="5.58"/><circle cx="1162.4" cy="666.9" r="5.58"/><circle cx="1103.1" cy="663.2" r="5.58"/><circle cx="1189.9" cy="675.9" r="5.58"/><circle cx="1189.0" cy="655.6" r="5.58"/><circle cx="1113.8" cy="670.0" r="5.58"/><circle cx="1174.1" cy="668.3" r="5.58"/><circle cx="1108.6" cy="667.4" r="5.58"/><circle cx="1147.4" cy="654.1" r="5.58"/><circle cx="1107.9" cy="687.3" r="5.58"/><circle cx="1186.4" cy="669.1" r="5.58"/><circle cx="1132.1" cy="679.9" r="5.58"/><circle cx="1166.7" cy="678.0" r="5.58"/><circle cx="1181.1" cy="675.4" r="5.58"/><circle cx="1104.8" cy="684.7" r="5.58"/><circle cx="1136.7" cy="686.3" r="5.58"/><circle cx="1117.5" cy="686.4" r="5.58"/><circle cx="1187.5" cy="672.9" r="5.58"/><circle cx="1169.6" cy="662.7" r="5.58"/><circle cx="1149.4" cy="682.7" r="5.58"/><circle cx="1121.1" cy="663.5" r="5.58"/><circle cx="1117.0" cy="670.3" r="5.58"/><circle cx="1113.4" cy="689.1" r="5.58"/><circle cx="1126.5" cy="687.0" r="5.58"/><circle cx="1201.8" cy="661.7" r="5.58"/><circle cx="1201.2" cy="654.6" r="5.58"/><circle cx="1156.9" cy="686.3" r="5.58"/><circle cx="1173.1" cy="655.3" r="5.58"/><circle cx="1133.9" cy="645.8" r="5.58"/><circle cx="1083.1" cy="665.9" r="5.58"/><circle cx="1167.6" cy="650.8" r="5.58"/><circle cx="1145.6" cy="657.3" r="5.58"/><circle cx="1168.6" cy="647.2" r="5.58"/><circle cx="1111.7" cy="652.7" r="5.58"/><circle cx="1155.5" cy="665.8" r="5.58"/><circle cx="1152.1" cy="670.6" r="5.58"/><circle cx="1127.9" cy="658.7" r="5.58"/><circle cx="1119.3" cy="680.8" r="5.58"/><circle cx="1166.6" cy="643.9" r="5.58"/><circle cx="1093.2" cy="668.3" r="5.58"/><circle cx="1103.5" cy="667.1" r="5.58"/><circle cx="1113.0" cy="672.9" r="5.58"/><circle cx="1074.7" cy="670.3" r="5.58"/><circle cx="1153.5" cy="668.2" r="5.58"/><circle cx="1185.5" cy="651.0" r="5.58"/><circle cx="1162.5" cy="654.6" r="5.58"/><circle cx="1172.2" cy="643.8" r="5.58"/><circle cx="1100.9" cy="679.1" r="5.58"/><circle cx="1180.2" cy="663.8" r="5.58"/><circle cx="1165.2" cy="666.0" r="5.58"/><circle cx="1169.0" cy="650.7" r="5.58"/><circle cx="1187.4" cy="672.8" r="5.58"/><circle cx="1098.4" cy="661.7" r="5.58"/><circle cx="1195.5" cy="667.8" r="5.58"/><circle cx="1126.1" cy="679.6" r="5.58"/><circle cx="1206.6" cy="662.9" r="5.58"/><circle cx="1105.3" cy="687.8" r="5.58"/><circle cx="1134.7" cy="686.9" r="5.58"/><circle cx="1108.2" cy="677.1" r="5.58"/><circle cx="1164.9" cy="653.5" r="5.58"/><circle cx="1186.4" cy="653.1" r="5.58"/><circle cx="1160.8" cy="681.8" r="5.58"/><circle cx="1090.2" cy="684.9" r="5.58"/><circle cx="1080.9" cy="673.0" r="5.58"/><circle cx="1199.5" cy="672.9" r="5.58"/><circle cx="1108.1" cy="674.7" r="5.58"/><circle cx="1167.9" cy="673.0" r="5.58"/><circle cx="1097.4" cy="665.6" r="5.58"/><circle cx="1143.8" cy="651.4" r="5.58"/><circle cx="1109.1" cy="681.3" r="5.58"/><circle cx="1177.3" cy="683.1" r="5.58"/><circle cx="1149.7" cy="652.9" r="5.58"/><circle cx="1190.9" cy="674.7" r="5.58"/><circle cx="1167.5" cy="675.1" r="5.58"/><circle cx="1110.6" cy="671.5" r="5.58"/><circle cx="1130.0" cy="689.3" r="5.58"/><circle cx="1093.8" cy="654.7" r="5.58"/><circle cx="1195.8" cy="650.1" r="5.58"/><circle cx="1128.7" cy="653.4" r="5.58"/><circle cx="1112.0" cy="685.3" r="5.58"/><circle cx="1144.4" cy="662.5" r="5.58"/><circle cx="1159.1" cy="661.3" r="5.58"/><circle cx="1174.3" cy="662.9" r="5.58"/><circle cx="1101.1" cy="673.2" r="5.58"/><circle cx="1173.4" cy="665.7" r="5.58"/><circle cx="1111.0" cy="658.9" r="5.58"/><circle cx="1169.0" cy="660.7" r="5.58"/><circle cx="1129.1" cy="676.6" r="5.58"/><circle cx="1088.2" cy="684.6" r="5.58"/><circle cx="1125.8" cy="689.1" r="5.58"/><circle cx="1147.3" cy="648.2" r="5.58"/><circle cx="1124.0" cy="685.0" r="5.58"/><circle cx="1106.8" cy="668.3" r="5.58"/><circle cx="1153.2" cy="653.6" r="5.58"/><circle cx="1117.5" cy="683.4" r="5.58"/><circle cx="1080.6" cy="674.7" r="5.58"/><circle cx="1093.1" cy="654.5" r="5.58"/><circle cx="1102.7" cy="684.0" r="5.58"/><circle cx="1112.7" cy="658.9" r="5.58"/><circle cx="1124.1" cy="682.4" r="5.58"/><circle cx="1114.2" cy="683.9" r="5.58"/><circle cx="1122.5" cy="648.5" r="5.58"/><circle cx="1127.0" cy="678.9" r="5.58"/><circle cx="1102.3" cy="684.2" r="5.58"/><circle cx="1142.0" cy="667.8" r="5.58"/><circle cx="1128.6" cy="666.5" r="5.58"/><circle cx="1128.3" cy="657.2" r="5.58"/><circle cx="1131.2" cy="672.3" r="5.58"/><circle cx="1161.3" cy="666.2" r="5.58"/><circle cx="1155.6" cy="661.5" r="5.58"/><circle cx="1121.4" cy="663.1" r="5.58"/><circle cx="1136.6" cy="681.3" r="5.58"/><circle cx="1145.5" cy="673.5" r="5.58"/><circle cx="1128.1" cy="672.7" r="5.58"/><circle cx="1194.1" cy="669.2" r="5.58"/><circle cx="1161.8" cy="673.8" r="5.58"/><circle cx="1118.1" cy="679.8" r="5.58"/><circle cx="1166.0" cy="654.2" r="5.58"/><circle cx="1154.1" cy="667.3" r="5.58"/><circle cx="1160.3" cy="665.4" r="5.58"/><circle cx="1102.0" cy="692.0" r="5.58"/><circle cx="1101.9" cy="664.7" r="5.58"/><circle cx="1202.2" cy="670.6" r="5.58"/><circle cx="1144.8" cy="668.0" r="5.58"/><circle cx="1169.2" cy="670.2" r="5.58"/><circle cx="1206.2" cy="644.7" r="5.58"/><circle cx="1107.3" cy="671.6" r="5.58"/><circle cx="1147.3" cy="673.3" r="5.58"/><circle cx="1083.2" cy="665.1" r="5.58"/><circle cx="1145.6" cy="660.4" r="5.58"/><circle cx="1154.2" cy="664.9" r="5.58"/><circle cx="1195.0" cy="651.0" r="5.58"/><circle cx="1113.3" cy="659.8" r="5.58"/><circle cx="1122.1" cy="644.6" r="5.58"/><circle cx="1154.9" cy="648.6" r="5.58"/><circle cx="1158.4" cy="653.0" r="5.58"/><circle cx="1203.1" cy="667.8" r="5.58"/><circle cx="1118.1" cy="666.2" r="5.58"/><circle cx="1082.4" cy="672.2" r="5.58"/><circle cx="1167.1" cy="684.8" r="5.58"/><circle cx="1160.4" cy="664.7" r="5.58"/><circle cx="1121.0" cy="683.2" r="5.58"/><circle cx="1130.4" cy="673.2" r="5.58"/><circle cx="1165.6" cy="658.1" r="5.58"/><circle cx="1119.2" cy="648.3" r="5.58"/><circle cx="1157.7" cy="675.3" r="5.58"/><circle cx="1176.0" cy="679.1" r="5.58"/><circle cx="1115.5" cy="669.7" r="5.58"/><circle cx="1176.6" cy="672.2" r="5.58"/><circle cx="1142.8" cy="669.7" r="5.58"/><circle cx="1105.4" cy="672.6" r="5.58"/><circle cx="1080.1" cy="657.1" r="5.58"/><circle cx="1085.4" cy="659.2" r="5.58"/><circle cx="1137.4" cy="674.0" r="5.58"/><circle cx="1144.4" cy="660.2" r="5.58"/><circle cx="1145.1" cy="647.2" r="5.58"/><circle cx="1157.1" cy="646.6" r="5.58"/><circle cx="1194.4" cy="644.1" r="5.58"/><circle cx="1133.6" cy="658.7" r="5.58"/><circle cx="1117.7" cy="668.6" r="5.58"/><circle cx="1129.5" cy="653.1" r="5.58"/><circle cx="1123.3" cy="654.6" r="5.58"/><circle cx="1179.1" cy="663.1" r="5.58"/><circle cx="1156.8" cy="652.4" r="5.58"/><circle cx="1169.1" cy="674.5" r="5.58"/><circle cx="1168.7" cy="662.3" r="5.58"/><circle cx="1137.7" cy="660.5" r="5.58"/><circle cx="1119.1" cy="675.3" r="5.58"/><circle cx="1177.1" cy="683.8" r="5.58"/><circle cx="1158.9" cy="662.1" r="5.58"/><circle cx="1102.7" cy="679.0" r="5.58"/><circle cx="1136.1" cy="642.7" r="5.58"/><circle cx="1192.1" cy="664.7" r="5.58"/><circle cx="1079.0" cy="672.8" r="5.58"/><circle cx="1090.6" cy="674.6" r="5.58"/><circle cx="1102.7" cy="676.6" r="5.58"/><circle cx="1151.2" cy="683.6" r="5.58"/><circle cx="1173.0" cy="670.5" r="5.58"/><circle cx="1180.5" cy="657.2" r="5.58"/><circle cx="1166.1" cy="671.9" r="5.58"/><circle cx="1171.8" cy="647.0" r="5.58"/><circle cx="1135.4" cy="653.8" r="5.58"/><circle cx="1078.7" cy="675.0" r="5.58"/><circle cx="1156.8" cy="663.0" r="5.58"/><circle cx="1150.3" cy="667.2" r="5.58"/><circle cx="1134.9" cy="650.7" r="5.58"/><circle cx="1122.3" cy="652.2" r="5.58"/><circle cx="1125.5" cy="677.7" r="5.58"/><circle cx="1136.7" cy="658.1" r="5.58"/><circle cx="1138.1" cy="663.0" r="5.58"/><circle cx="1198.6" cy="668.8" r="5.58"/><circle cx="1201.7" cy="662.2" r="5.58"/><circle cx="1204.8" cy="669.5" r="5.58"/><circle cx="1087.1" cy="668.3" r="5.58"/><circle cx="1106.0" cy="681.9" r="5.58"/><circle cx="1104.1" cy="662.6" r="5.58"/><circle cx="1130.3" cy="660.4" r="5.58"/><circle cx="1220.1" cy="669.8" r="5.58"/><circle cx="1169.1" cy="649.6" r="5.58"/><circle cx="1170.4" cy="653.6" r="5.58"/><circle cx="1166.1" cy="670.4" r="5.58"/><circle cx="1191.4" cy="651.4" r="5.58"/><circle cx="1112.2" cy="666.1" r="5.58"/><circle cx="1137.1" cy="675.5" r="5.58"/><circle cx="1145.4" cy="666.6" r="5.58"/><circle cx="1221.8" cy="665.9" r="5.58"/><circle cx="1200.5" cy="644.9" r="5.58"/><circle cx="1119.2" cy="664.9" r="5.58"/><circle cx="1117.0" cy="654.4" r="5.58"/><circle cx="1155.5" cy="687.4" r="5.58"/><circle cx="1124.2" cy="654.5" r="5.58"/><circle cx="1158.6" cy="662.7" r="5.58"/><circle cx="1145.0" cy="669.7" r="5.58"/><circle cx="1131.8" cy="682.0" r="5.58"/><circle cx="1163.6" cy="648.9" r="5.58"/><circle cx="1186.5" cy="651.5" r="5.58"/><circle cx="1128.9" cy="649.9" r="5.58"/><circle cx="1155.7" cy="663.2" r="5.58"/><circle cx="1133.1" cy="671.6" r="5.58"/><circle cx="1144.1" cy="662.7" r="5.58"/><circle cx="1121.7" cy="659.8" r="5.58"/><circle cx="1157.1" cy="668.5" r="5.58"/><circle cx="1130.5" cy="662.3" r="5.58"/><circle cx="1137.3" cy="677.6" r="5.58"/><circle cx="1196.8" cy="664.4" r="5.58"/><circle cx="782.0" cy="813.3" r="5.58"/><circle cx="778.4" cy="817.8" r="5.58"/><circle cx="780.5" cy="838.7" r="5.58"/><circle cx="796.9" cy="823.7" r="5.58"/><circle cx="799.9" cy="827.3" r="5.58"/><circle cx="810.3" cy="827.3" r="5.58"/><circle cx="795.4" cy="849.1" r="5.58"/><circle cx="800.8" cy="861.1" r="5.58"/><circle cx="821.4" cy="859.0" r="5.58"/><circle cx="822.3" cy="835.1" r="5.58"/><circle cx="828.3" cy="820.2" r="5.58"/><circle cx="834.2" cy="824.6" r="5.58"/><circle cx="828.3" cy="808.8" r="5.58"/><circle cx="835.7" cy="802.8" r="5.58"/><circle cx="843.2" cy="794.8" r="5.58"/><circle cx="833.6" cy="846.2" r="5.58"/><circle cx="835.7" cy="852.1" r="5.58"/><circle cx="843.2" cy="855.1" r="5.58"/><circle cx="848.6" cy="844.7" r="5.58"/><circle cx="850.7" cy="850.6" r="5.58"/><circle cx="835.1" cy="761.0" r="5.58"/><circle cx="835.7" cy="775.9" r="5.58"/><circle cx="850.7" cy="746.1" r="5.58"/><circle cx="853.7" cy="756.5" r="5.58"/><circle cx="858.1" cy="761.0" r="5.58"/><circle cx="866.2" cy="747.0" r="5.58"/><circle cx="871.6" cy="761.0" r="5.58"/><circle cx="882.0" cy="752.6" r="5.58"/><circle cx="850.7" cy="780.4" r="5.58"/><circle cx="855.1" cy="775.9" r="5.58"/><circle cx="862.6" cy="786.4" r="5.58"/><circle cx="846.2" cy="813.3" r="5.58"/><circle cx="874.6" cy="778.9" r="5.58"/><circle cx="912.8" cy="736.5" r="5.58"/><circle cx="905.9" cy="747.6" r="5.58"/><circle cx="947.8" cy="737.1" r="5.58"/><circle cx="968.7" cy="735.6" r="5.58"/><circle cx="973.2" cy="745.2" r="5.58"/><circle cx="949.3" cy="747.6" r="5.58"/><circle cx="943.3" cy="755.0" r="5.58"/><circle cx="1001.5" cy="743.1" r="5.58"/><circle cx="1014.4" cy="743.1" r="5.58"/><circle cx="1007.5" cy="750.5" r="5.58"/><circle cx="1016.5" cy="753.5" r="5.58"/><circle cx="1028.4" cy="755.0" r="5.58"/><circle cx="1026.9" cy="767.0" r="5.58"/><circle cx="1040.4" cy="757.4" r="5.58"/><circle cx="1043.4" cy="762.5" r="5.58"/><circle cx="1050.8" cy="769.1" r="5.58"/><circle cx="1044.9" cy="777.4" r="5.58"/><circle cx="1055.3" cy="764.0" r="5.58"/><circle cx="1059.2" cy="781.9" r="5.58"/><circle cx="1060.4" cy="745.2" r="5.58"/><circle cx="1065.8" cy="761.9" r="5.58"/><circle cx="1074.1" cy="761.9" r="5.58"/><circle cx="1085.8" cy="767.6" r="5.58"/><circle cx="1095.7" cy="755.6" r="5.58"/><circle cx="1000.1" cy="765.5" r="5.58"/><circle cx="997.1" cy="771.5" r="5.58"/><circle cx="991.1" cy="778.9" r="5.58"/><circle cx="982.1" cy="787.9" r="5.58"/><circle cx="992.6" cy="789.4" r="5.58"/><circle cx="983.6" cy="802.8" r="5.58"/><circle cx="991.1" cy="807.3" r="5.58"/><circle cx="1009.0" cy="804.3" r="5.58"/><circle cx="1026.9" cy="809.7" r="5.58"/><circle cx="994.1" cy="820.8" r="5.58"/><circle cx="1000.1" cy="819.3" r="5.58"/><circle cx="1010.5" cy="817.8" r="5.58"/><circle cx="1013.5" cy="822.2" r="5.58"/><circle cx="1036.8" cy="825.8" r="5.58"/><circle cx="1074.7" cy="814.2" r="5.58"/><circle cx="1082.2" cy="838.7" r="5.58"/><circle cx="983.6" cy="834.2" r="5.58"/><circle cx="997.1" cy="834.2" r="5.58"/><circle cx="1022.5" cy="844.7" r="5.58"/><circle cx="1028.4" cy="841.7" r="5.58"/><circle cx="1032.9" cy="844.7" r="5.58"/><circle cx="1035.9" cy="851.5" r="5.58"/><circle cx="1050.2" cy="854.5" r="5.58"/><circle cx="1007.5" cy="857.2" r="5.58"/><circle cx="982.1" cy="860.2" r="5.58"/><circle cx="988.1" cy="860.2" r="5.58"/><circle cx="994.1" cy="860.2" r="5.58"/><circle cx="1009.9" cy="876.9" r="5.58"/><circle cx="972.6" cy="873.0" r="5.58"/><circle cx="974.7" cy="849.1" r="5.58"/><circle cx="970.2" cy="838.7" r="5.58"/><circle cx="961.2" cy="837.2" r="5.58"/><circle cx="943.3" cy="841.1" r="5.58"/><circle cx="947.8" cy="852.1" r="5.58"/><circle cx="946.3" cy="861.1" r="5.58"/><circle cx="938.8" cy="861.1" r="5.58"/><circle cx="943.3" cy="873.0" r="5.58"/><circle cx="918.5" cy="869.5" r="5.58"/><circle cx="910.4" cy="867.7" r="5.58"/><circle cx="897.0" cy="868.6" r="5.58"/><circle cx="895.5" cy="863.5" r="5.58"/><circle cx="894.9" cy="856.6" r="5.58"/><circle cx="914.9" cy="850.6" r="5.58"/><circle cx="901.5" cy="837.2" r="5.58"/><circle cx="929.8" cy="847.6" r="5.58"/><circle cx="874.6" cy="853.6" r="5.58"/><circle cx="873.1" cy="846.2" r="5.58"/><circle cx="958.2" cy="802.8" r="5.58"/><circle cx="967.2" cy="803.7" r="5.58"/><circle cx="976.2" cy="804.3" r="5.58"/><circle cx="940.3" cy="810.3" r="5.58"/><circle cx="949.3" cy="814.8" r="5.58"/><circle cx="964.2" cy="822.2" r="5.58"/><circle cx="953.7" cy="825.2" r="5.58"/><circle cx="940.3" cy="826.7" r="5.58"/><circle cx="932.8" cy="831.2" r="5.58"/><circle cx="919.4" cy="831.2" r="5.58"/><circle cx="916.4" cy="838.7" r="5.58"/><circle cx="923.9" cy="823.7" r="5.58"/><circle cx="989.0" cy="644.5" r="5.58"/><circle cx="1279.3" cy="656.2" r="5.58"/><circle cx="1156.9" cy="623.6" r="5.58"/><circle cx="1066.3" cy="633.8" r="5.58"/><circle cx="1080.7" cy="640.1" r="5.58"/><circle cx="1034.4" cy="647.5" r="5.58"/><circle cx="1038.8" cy="650.5" r="5.58"/><circle cx="1047.8" cy="652.6" r="5.58"/><circle cx="1056.8" cy="655.6" r="5.58"/><circle cx="1062.7" cy="653.5" r="5.58"/><circle cx="1020.9" cy="661.0" r="5.58"/><circle cx="1035.9" cy="675.0" r="5.58"/><circle cx="1035.9" cy="681.0" r="5.58"/><circle cx="1047.8" cy="678.0" r="5.58"/><circle cx="1052.3" cy="691.5" r="5.58"/><circle cx="1065.7" cy="698.9" r="5.58"/><circle cx="1054.7" cy="666.1" r="5.58"/><circle cx="1059.8" cy="663.7" r="5.58"/><circle cx="1113.5" cy="633.2" r="5.58"/><circle cx="1121.0" cy="638.3" r="5.58"/><circle cx="1107.6" cy="640.7" r="5.58"/><circle cx="1140.4" cy="639.2" r="5.58"/><circle cx="1191.2" cy="633.2" r="5.58"/><circle cx="1212.1" cy="633.2" r="5.58"/><circle cx="1223.5" cy="631.7" r="5.58"/><circle cx="1229.5" cy="630.8" r="5.58"/><circle cx="1223.5" cy="648.7" r="5.58"/><circle cx="1230.1" cy="647.2" r="5.58"/><circle cx="1221.1" cy="662.5" r="5.58"/><circle cx="1222.6" cy="681.9" r="5.58"/><circle cx="1214.5" cy="684.9" r="5.58"/><circle cx="1207.6" cy="687.0" r="5.58"/><circle cx="1206.2" cy="675.0" r="5.58"/><circle cx="1193.6" cy="697.4" r="5.58"/><circle cx="1185.2" cy="684.9" r="5.58"/><circle cx="1170.3" cy="690.0" r="5.58"/><circle cx="1151.8" cy="717.8" r="5.58"/><circle cx="1095.6" cy="698.9" r="5.58"/><circle cx="1112.0" cy="700.4" r="5.58"/><circle cx="1103.1" cy="693.0" r="5.58"/><circle cx="1146.4" cy="752.1" r="5.58"/><circle cx="1172.4" cy="758.1" r="5.58"/><circle cx="1246.5" cy="769.1" r="5.58"/><circle cx="1229.5" cy="824.4" r="5.58"/></g>
<path d="M761.69 929.47L791.52 907.76M805.38 897.67L835.21 875.96M849.07 865.87L878.90 844.16M892.77 834.07L922.59 812.36M936.46 802.27L966.28 780.56M980.15 770.47L1009.97 748.76M1023.84 738.67L1053.66 716.97M1067.53 706.87L1097.35 685.17M1111.22 675.08L1141.04 653.37M1154.91 643.28L1184.73 621.57M1198.60 611.48L1228.43 589.77M1242.29 579.68L1272.12 557.97" stroke="#ff0000" stroke-width="8.28" fill="none" clip-path="url(#c4)"/>
<path d="M775.80 521.70L775.80 919.20L1321.96 919.20M775.80 919.20L775.80 924.98M775.80 919.20L770.02 919.20M885.03 919.20L885.03 924.98M775.80 839.70L770.02 839.70M994.26 919.20L994.26 924.98M775.80 760.20L770.02 760.20M1103.49 919.20L1103.49 924.98M775.80 680.70L770.02 680.70M1212.73 919.20L1212.73 924.98M775.80 601.20L770.02 601.20M1321.96 919.20L1321.96 924.98M775.80 521.70L770.02 521.70" stroke="#3a3a3a" stroke-width="1.69" fill="none" stroke-linecap="square"/>
<g font-size="28.12"><text transform="translate(775.80 951.60) scale(1.000 1)" text-anchor="middle">−0.2</text><text transform="translate(762.04 929.07) scale(1.000 1)" text-anchor="end">−0.2</text><text transform="translate(885.03 951.60) scale(1.000 1)" text-anchor="middle">0.0</text><text transform="translate(762.04 849.57) scale(1.000 1)" text-anchor="end">0.0</text><text transform="translate(994.26 951.60) scale(1.000 1)" text-anchor="middle">0.2</text><text transform="translate(762.04 770.07) scale(1.000 1)" text-anchor="end">0.2</text><text transform="translate(1103.49 951.60) scale(1.000 1)" text-anchor="middle">0.4</text><text transform="translate(762.04 690.57) scale(1.000 1)" text-anchor="end">0.4</text><text transform="translate(1212.73 951.60) scale(1.000 1)" text-anchor="middle">0.6</text><text transform="translate(762.04 611.07) scale(1.000 1)" text-anchor="end">0.6</text><text transform="translate(1321.96 951.60) scale(1.000 1)" text-anchor="middle">0.8</text><text transform="translate(762.04 531.57) scale(1.000 1)" text-anchor="end">0.8</text></g>
<text transform="translate(1048.88 984.40) scale(1.000 1)" text-anchor="middle" font-size="28.43">EVI&amp;LST</text>
<text transform="translate(938.70 555.40) scale(1.000 1)" text-anchor="middle" font-size="29.11">y=0.652a+0.007b-1.914</text>
<text transform="translate(934.90 587.50) scale(1.000 1)" text-anchor="middle" font-size="29.11">RMSE=0.109</text>
<text transform="translate(931.80 619.80) scale(1.000 1)" text-anchor="middle" font-size="29.11">R²=0.76</text>
<!-- panel 6 -->
<clipPath id="c5"><rect x="1429.20" y="524.71" width="584.62" height="396.39"/></clipPath>
<g fill="#1f77b4" clip-path="url(#c5)"><circle cx="1616.2" cy="803.5" r="5.57"/><circle cx="1612.6" cy="808.6" r="5.57"/><circle cx="1631.1" cy="786.2" r="5.57"/><circle cx="1546.5" cy="822.8" r="5.57"/><circle cx="1521.8" cy="820.6" r="5.57"/><circle cx="1587.2" cy="814.8" r="5.57"/><circle cx="1533.6" cy="835.1" r="5.57"/><circle cx="1629.2" cy="777.7" r="5.57"/><circle cx="1534.1" cy="778.4" r="5.57"/><circle cx="1574.1" cy="786.1" r="5.57"/><circle cx="1602.1" cy="777.2" r="5.57"/><circle cx="1609.5" cy="808.3" r="5.57"/><circle cx="1523.7" cy="790.6" r="5.57"/><circle cx="1597.7" cy="811.1" r="5.57"/><circle cx="1506.9" cy="820.5" r="5.57"/><circle cx="1608.2" cy="798.4" r="5.57"/><circle cx="1608.6" cy="815.1" r="5.57"/><circle cx="1537.7" cy="817.0" r="5.57"/><circle cx="1545.0" cy="781.8" r="5.57"/><circle cx="1512.8" cy="830.3" r="5.57"/><circle cx="1608.7" cy="823.1" r="5.57"/><circle cx="1563.1" cy="803.3" r="5.57"/><circle cx="1584.1" cy="814.7" r="5.57"/><circle cx="1597.9" cy="760.8" r="5.57"/><circle cx="1497.5" cy="822.8" r="5.57"/><circle cx="1522.5" cy="834.2" r="5.57"/><circle cx="1541.1" cy="807.4" r="5.57"/><circle cx="1622.9" cy="780.3" r="5.57"/><circle cx="1597.0" cy="787.3" r="5.57"/><circle cx="1497.6" cy="808.2" r="5.57"/><circle cx="1552.4" cy="788.6" r="5.57"/><circle cx="1561.3" cy="783.2" r="5.57"/><circle cx="1524.5" cy="802.7" r="5.57"/><circle cx="1624.2" cy="793.4" r="5.57"/><circle cx="1558.3" cy="798.4" r="5.57"/><circle cx="1607.4" cy="797.9" r="5.57"/><circle cx="1579.0" cy="774.3" r="5.57"/><circle cx="1591.8" cy="760.1" r="5.57"/><circle cx="1544.9" cy="830.3" r="5.57"/><circle cx="1512.7" cy="787.6" r="5.57"/><circle cx="1529.3" cy="785.2" r="5.57"/><circle cx="1581.3" cy="802.7" r="5.57"/><circle cx="1635.8" cy="802.0" r="5.57"/><circle cx="1575.9" cy="809.7" r="5.57"/><circle cx="1584.8" cy="793.6" r="5.57"/><circle cx="1533.1" cy="833.1" r="5.57"/><circle cx="1632.0" cy="788.6" r="5.57"/><circle cx="1537.5" cy="822.2" r="5.57"/><circle cx="1500.8" cy="807.6" r="5.57"/><circle cx="1606.9" cy="808.5" r="5.57"/><circle cx="1553.9" cy="821.9" r="5.57"/><circle cx="1564.1" cy="815.3" r="5.57"/><circle cx="1544.7" cy="772.4" r="5.57"/><circle cx="1638.3" cy="786.0" r="5.57"/><circle cx="1623.5" cy="774.1" r="5.57"/><circle cx="1614.9" cy="806.3" r="5.57"/><circle cx="1605.6" cy="766.6" r="5.57"/><circle cx="1543.4" cy="777.3" r="5.57"/><circle cx="1629.4" cy="762.1" r="5.57"/><circle cx="1564.3" cy="766.1" r="5.57"/><circle cx="1543.3" cy="831.5" r="5.57"/><circle cx="1569.7" cy="787.7" r="5.57"/><circle cx="1523.5" cy="830.2" r="5.57"/><circle cx="1529.9" cy="792.6" r="5.57"/><circle cx="1602.5" cy="814.5" r="5.57"/><circle cx="1559.0" cy="808.7" r="5.57"/><circle cx="1541.7" cy="823.2" r="5.57"/><circle cx="1567.6" cy="799.5" r="5.57"/><circle cx="1614.4" cy="777.3" r="5.57"/><circle cx="1562.9" cy="793.3" r="5.57"/><circle cx="1518.7" cy="802.1" r="5.57"/><circle cx="1526.0" cy="829.0" r="5.57"/><circle cx="1621.2" cy="807.2" r="5.57"/><circle cx="1629.8" cy="763.8" r="5.57"/><circle cx="1619.2" cy="766.4" r="5.57"/><circle cx="1643.4" cy="783.5" r="5.57"/><circle cx="1544.1" cy="778.6" r="5.57"/><circle cx="1516.0" cy="822.2" r="5.57"/><circle cx="1611.9" cy="761.1" r="5.57"/><circle cx="1516.4" cy="798.8" r="5.57"/><circle cx="1544.1" cy="793.7" r="5.57"/><circle cx="1543.2" cy="780.3" r="5.57"/><circle cx="1545.3" cy="836.2" r="5.57"/><circle cx="1642.1" cy="799.5" r="5.57"/><circle cx="1610.4" cy="805.4" r="5.57"/><circle cx="1543.8" cy="784.5" r="5.57"/><circle cx="1612.9" cy="765.7" r="5.57"/><circle cx="1591.6" cy="797.2" r="5.57"/><circle cx="1536.5" cy="811.0" r="5.57"/><circle cx="1520.8" cy="817.7" r="5.57"/><circle cx="1617.8" cy="815.1" r="5.57"/><circle cx="1605.4" cy="788.4" r="5.57"/><circle cx="1522.1" cy="822.6" r="5.57"/><circle cx="1581.5" cy="826.7" r="5.57"/><circle cx="1503.4" cy="795.4" r="5.57"/><circle cx="1587.5" cy="771.9" r="5.57"/><circle cx="1639.3" cy="780.7" r="5.57"/><circle cx="1534.1" cy="804.8" r="5.57"/><circle cx="1589.3" cy="786.0" r="5.57"/><circle cx="1550.4" cy="829.7" r="5.57"/><circle cx="1511.7" cy="818.5" r="5.57"/><circle cx="1648.1" cy="779.4" r="5.57"/><circle cx="1558.4" cy="774.1" r="5.57"/><circle cx="1573.8" cy="763.0" r="5.57"/><circle cx="1556.0" cy="822.5" r="5.57"/><circle cx="1577.4" cy="796.2" r="5.57"/><circle cx="1562.8" cy="813.8" r="5.57"/><circle cx="1514.3" cy="797.9" r="5.57"/><circle cx="1552.0" cy="804.1" r="5.57"/><circle cx="1539.2" cy="804.1" r="5.57"/><circle cx="1510.7" cy="830.7" r="5.57"/><circle cx="1613.0" cy="820.8" r="5.57"/><circle cx="1516.0" cy="835.5" r="5.57"/><circle cx="1496.3" cy="824.9" r="5.57"/><circle cx="1567.1" cy="766.9" r="5.57"/><circle cx="1503.5" cy="798.7" r="5.57"/><circle cx="1562.3" cy="837.5" r="5.57"/><circle cx="1517.8" cy="812.5" r="5.57"/><circle cx="1556.4" cy="773.8" r="5.57"/><circle cx="1565.2" cy="763.4" r="5.57"/><circle cx="1538.4" cy="774.1" r="5.57"/><circle cx="1586.6" cy="790.9" r="5.57"/><circle cx="1615.7" cy="810.6" r="5.57"/><circle cx="1566.2" cy="770.0" r="5.57"/><circle cx="1522.8" cy="797.3" r="5.57"/><circle cx="1525.9" cy="817.0" r="5.57"/><circle cx="1551.4" cy="804.9" r="5.57"/><circle cx="1526.9" cy="808.7" r="5.57"/><circle cx="1636.3" cy="797.3" r="5.57"/><circle cx="1546.8" cy="776.2" r="5.57"/><circle cx="1538.8" cy="824.5" r="5.57"/><circle cx="1532.0" cy="806.7" r="5.57"/><circle cx="1596.6" cy="821.0" r="5.57"/><circle cx="1627.6" cy="759.7" r="5.57"/><circle cx="1537.5" cy="796.1" r="5.57"/><circle cx="1570.4" cy="788.5" r="5.57"/><circle cx="1571.6" cy="807.7" r="5.57"/><circle cx="1600.5" cy="785.0" r="5.57"/><circle cx="1579.2" cy="758.0" r="5.57"/><circle cx="1529.8" cy="771.7" r="5.57"/><circle cx="1566.0" cy="804.3" r="5.57"/><circle cx="1595.1" cy="790.3" r="5.57"/><circle cx="1585.7" cy="800.3" r="5.57"/><circle cx="1574.3" cy="796.3" r="5.57"/><circle cx="1617.9" cy="801.8" r="5.57"/><circle cx="1610.7" cy="807.4" r="5.57"/><circle cx="1581.2" cy="796.7" r="5.57"/><circle cx="1555.7" cy="807.4" r="5.57"/><circle cx="1569.5" cy="782.5" r="5.57"/><circle cx="1590.5" cy="783.4" r="5.57"/><circle cx="1564.8" cy="795.2" r="5.57"/><circle cx="1651.3" cy="795.2" r="5.57"/><circle cx="1603.0" cy="815.3" r="5.57"/><circle cx="1587.3" cy="813.2" r="5.57"/><circle cx="1562.0" cy="794.4" r="5.57"/><circle cx="1578.4" cy="776.7" r="5.57"/><circle cx="1538.4" cy="803.0" r="5.57"/><circle cx="1599.6" cy="773.4" r="5.57"/><circle cx="1531.8" cy="808.1" r="5.57"/><circle cx="1570.3" cy="803.8" r="5.57"/><circle cx="1794.0" cy="685.6" r="5.57"/><circle cx="1735.9" cy="673.0" r="5.57"/><circle cx="1843.0" cy="660.9" r="5.57"/><circle cx="1780.0" cy="675.7" r="5.57"/><circle cx="1811.2" cy="660.9" r="5.57"/><circle cx="1729.1" cy="679.5" r="5.57"/><circle cx="1792.9" cy="691.9" r="5.57"/><circle cx="1787.7" cy="655.7" r="5.57"/><circle cx="1780.0" cy="652.3" r="5.57"/><circle cx="1771.6" cy="696.0" r="5.57"/><circle cx="1811.5" cy="664.2" r="5.57"/><circle cx="1753.0" cy="685.8" r="5.57"/><circle cx="1785.8" cy="650.2" r="5.57"/><circle cx="1830.4" cy="648.9" r="5.57"/><circle cx="1777.9" cy="661.6" r="5.57"/><circle cx="1746.3" cy="662.3" r="5.57"/><circle cx="1732.4" cy="670.5" r="5.57"/><circle cx="1848.4" cy="672.0" r="5.57"/><circle cx="1853.1" cy="659.9" r="5.57"/><circle cx="1811.6" cy="674.8" r="5.57"/><circle cx="1773.2" cy="670.4" r="5.57"/><circle cx="1839.3" cy="667.5" r="5.57"/><circle cx="1834.6" cy="667.4" r="5.57"/><circle cx="1794.0" cy="685.5" r="5.57"/><circle cx="1848.0" cy="653.2" r="5.57"/><circle cx="1838.8" cy="664.6" r="5.57"/><circle cx="1856.2" cy="660.1" r="5.57"/><circle cx="1729.3" cy="685.3" r="5.57"/><circle cx="1754.7" cy="675.0" r="5.57"/><circle cx="1770.0" cy="695.0" r="5.57"/><circle cx="1823.2" cy="643.1" r="5.57"/><circle cx="1839.7" cy="657.7" r="5.57"/><circle cx="1827.2" cy="662.9" r="5.57"/><circle cx="1812.8" cy="687.8" r="5.57"/><circle cx="1775.4" cy="688.1" r="5.57"/><circle cx="1823.1" cy="671.1" r="5.57"/><circle cx="1854.6" cy="664.7" r="5.57"/><circle cx="1771.4" cy="695.7" r="5.57"/><circle cx="1779.8" cy="690.9" r="5.57"/><circle cx="1791.8" cy="663.2" r="5.57"/><circle cx="1744.0" cy="666.3" r="5.57"/><circle cx="1807.1" cy="693.5" r="5.57"/><circle cx="1772.8" cy="684.6" r="5.57"/><circle cx="1800.4" cy="686.3" r="5.57"/><circle cx="1793.0" cy="688.9" r="5.57"/><circle cx="1813.1" cy="651.3" r="5.57"/><circle cx="1798.0" cy="688.5" r="5.57"/><circle cx="1775.5" cy="667.9" r="5.57"/><circle cx="1736.7" cy="685.5" r="5.57"/><circle cx="1804.6" cy="671.7" r="5.57"/><circle cx="1757.1" cy="667.8" r="5.57"/><circle cx="1770.5" cy="654.3" r="5.57"/><circle cx="1794.5" cy="645.2" r="5.57"/><circle cx="1771.4" cy="662.5" r="5.57"/><circle cx="1811.4" cy="641.6" r="5.57"/><circle cx="1770.5" cy="659.6" r="5.57"/><circle cx="1757.2" cy="657.6" r="5.57"/><circle cx="1796.8" cy="689.3" r="5.57"/><circle cx="1742.6" cy="664.8" r="5.57"/><circle cx="1816.9" cy="680.2" r="5.57"/><circle cx="1827.5" cy="664.2" r="5.57"/><circle cx="1776.6" cy="681.2" r="5.57"/><circle cx="1785.4" cy="689.5" r="5.57"/><circle cx="1848.5" cy="651.2" r="5.57"/><circle cx="1766.2" cy="687.3" r="5.57"/><circle cx="1805.0" cy="646.4" r="5.57"/><circle cx="1790.5" cy="694.5" r="5.57"/><circle cx="1765.4" cy="673.4" r="5.57"/><circle cx="1835.0" cy="666.1" r="5.57"/><circle cx="1794.1" cy="692.2" r="5.57"/><circle cx="1818.2" cy="681.4" r="5.57"/><circle cx="1828.6" cy="650.5" r="5.57"/><circle cx="1764.2" cy="693.5" r="5.57"/><circle cx="1775.2" cy="654.7" r="5.57"/><circle cx="1764.3" cy="664.5" r="5.57"/><circle cx="1806.5" cy="670.5" r="5.57"/><circle cx="1757.9" cy="656.6" r="5.57"/><circle cx="1804.3" cy="685.7" r="5.57"/><circle cx="1833.8" cy="682.9" r="5.57"/><circle cx="1854.0" cy="658.8" r="5.57"/><circle cx="1826.5" cy="678.6" r="5.57"/><circle cx="1811.2" cy="640.6" r="5.57"/><circle cx="1781.6" cy="660.3" r="5.57"/><circle cx="1845.8" cy="661.2" r="5.57"/><circle cx="1722.9" cy="673.0" r="5.57"/><circle cx="1828.6" cy="647.3" r="5.57"/><circle cx="1762.5" cy="671.6" r="5.57"/><circle cx="1850.8" cy="653.6" r="5.57"/><circle cx="1788.6" cy="690.0" r="5.57"/><circle cx="1842.6" cy="667.1" r="5.57"/><circle cx="1778.0" cy="694.9" r="5.57"/><circle cx="1737.1" cy="680.8" r="5.57"/><circle cx="1776.1" cy="696.3" r="5.57"/><circle cx="1797.0" cy="663.0" r="5.57"/><circle cx="1808.0" cy="667.3" r="5.57"/><circle cx="1764.2" cy="695.5" r="5.57"/><circle cx="1818.5" cy="674.6" r="5.57"/><circle cx="1818.3" cy="643.4" r="5.57"/><circle cx="1748.0" cy="658.2" r="5.57"/><circle cx="1733.1" cy="672.0" r="5.57"/><circle cx="1736.0" cy="687.2" r="5.57"/><circle cx="1747.3" cy="652.3" r="5.57"/><circle cx="1785.9" cy="673.8" r="5.57"/><circle cx="1754.1" cy="692.4" r="5.57"/><circle cx="1758.0" cy="660.8" r="5.57"/><circle cx="1750.8" cy="693.3" r="5.57"/><circle cx="1849.1" cy="675.8" r="5.57"/><circle cx="1835.6" cy="667.2" r="5.57"/><circle cx="1808.3" cy="677.6" r="5.57"/><circle cx="1785.8" cy="649.5" r="5.57"/><circle cx="1738.8" cy="674.9" r="5.57"/><circle cx="1781.1" cy="656.6" r="5.57"/><circle cx="1822.0" cy="665.7" r="5.57"/><circle cx="1845.5" cy="672.0" r="5.57"/><circle cx="1765.8" cy="660.5" r="5.57"/><circle cx="1822.4" cy="674.6" r="5.57"/><circle cx="1735.5" cy="656.9" r="5.57"/><circle cx="1788.1" cy="673.0" r="5.57"/><circle cx="1823.1" cy="646.4" r="5.57"/><circle cx="1761.2" cy="683.2" r="5.57"/><circle cx="1850.9" cy="661.7" r="5.57"/><circle cx="1759.5" cy="684.7" r="5.57"/><circle cx="1780.3" cy="660.3" r="5.57"/><circle cx="1800.7" cy="685.5" r="5.57"/><circle cx="1730.3" cy="682.8" r="5.57"/><circle cx="1811.8" cy="691.2" r="5.57"/><circle cx="1785.0" cy="679.5" r="5.57"/><circle cx="1779.0" cy="693.3" r="5.57"/><circle cx="1774.9" cy="694.8" r="5.57"/><circle cx="1746.5" cy="681.0" r="5.57"/><circle cx="1850.7" cy="674.5" r="5.57"/><circle cx="1788.2" cy="672.8" r="5.57"/><circle cx="1757.0" cy="662.9" r="5.57"/><circle cx="1805.9" cy="674.7" r="5.57"/><circle cx="1743.9" cy="682.4" r="5.57"/><circle cx="1786.1" cy="669.1" r="5.57"/><circle cx="1780.0" cy="663.8" r="5.57"/><circle cx="1761.6" cy="679.7" r="5.57"/><circle cx="1794.3" cy="668.8" r="5.57"/><circle cx="1797.4" cy="675.2" r="5.57"/><circle cx="1811.7" cy="691.9" r="5.57"/><circle cx="1770.1" cy="684.9" r="5.57"/><circle cx="1818.3" cy="653.6" r="5.57"/><circle cx="1800.7" cy="664.7" r="5.57"/><circle cx="1788.5" cy="659.5" r="5.57"/><circle cx="1837.2" cy="647.4" r="5.57"/><circle cx="1774.1" cy="674.1" r="5.57"/><circle cx="1794.1" cy="669.3" r="5.57"/><circle cx="1819.7" cy="676.6" r="5.57"/><circle cx="1763.7" cy="665.4" r="5.57"/><circle cx="1773.4" cy="668.6" r="5.57"/><circle cx="1784.5" cy="662.0" r="5.57"/><circle cx="1754.8" cy="669.4" r="5.57"/><circle cx="1756.4" cy="674.6" r="5.57"/><circle cx="1709.1" cy="698.8" r="5.57"/><circle cx="1806.3" cy="672.6" r="5.57"/><circle cx="1739.1" cy="676.2" r="5.57"/><circle cx="1842.9" cy="644.1" r="5.57"/><circle cx="1825.4" cy="654.8" r="5.57"/><circle cx="1802.6" cy="706.8" r="5.57"/><circle cx="1782.4" cy="672.3" r="5.57"/><circle cx="1834.7" cy="647.2" r="5.57"/><circle cx="1846.8" cy="646.7" r="5.57"/><circle cx="1777.9" cy="667.8" r="5.57"/><circle cx="1757.7" cy="674.0" r="5.57"/><circle cx="1820.8" cy="637.7" r="5.57"/><circle cx="1832.8" cy="670.2" r="5.57"/><circle cx="1810.7" cy="683.0" r="5.57"/><circle cx="1781.5" cy="689.7" r="5.57"/><circle cx="1852.6" cy="671.5" r="5.57"/><circle cx="1784.4" cy="670.8" r="5.57"/><circle cx="1814.2" cy="685.8" r="5.57"/><circle cx="1761.4" cy="671.4" r="5.57"/><circle cx="1781.4" cy="687.2" r="5.57"/><circle cx="1840.1" cy="683.4" r="5.57"/><circle cx="1837.5" cy="657.4" r="5.57"/><circle cx="1760.0" cy="684.1" r="5.57"/><circle cx="1801.6" cy="657.7" r="5.57"/><circle cx="1768.9" cy="682.5" r="5.57"/><circle cx="1808.9" cy="651.1" r="5.57"/><circle cx="1806.0" cy="669.1" r="5.57"/><circle cx="1759.4" cy="695.4" r="5.57"/><circle cx="1823.2" cy="668.2" r="5.57"/><circle cx="1815.5" cy="696.1" r="5.57"/><circle cx="1817.5" cy="647.2" r="5.57"/><circle cx="1841.9" cy="677.3" r="5.57"/><circle cx="1798.5" cy="686.6" r="5.57"/><circle cx="1783.0" cy="673.2" r="5.57"/><circle cx="1857.6" cy="643.4" r="5.57"/><circle cx="1770.0" cy="692.8" r="5.57"/><circle cx="1819.0" cy="676.9" r="5.57"/><circle cx="1835.0" cy="647.0" r="5.57"/><circle cx="1816.9" cy="657.7" r="5.57"/><circle cx="1792.4" cy="673.1" r="5.57"/><circle cx="1803.4" cy="683.3" r="5.57"/><circle cx="1780.8" cy="655.5" r="5.57"/><circle cx="1821.4" cy="687.1" r="5.57"/><circle cx="1819.5" cy="685.2" r="5.57"/><circle cx="1836.3" cy="658.5" r="5.57"/><circle cx="1781.8" cy="661.7" r="5.57"/><circle cx="1819.4" cy="646.0" r="5.57"/><circle cx="1743.5" cy="662.8" r="5.57"/><circle cx="1815.0" cy="658.2" r="5.57"/><circle cx="1792.7" cy="670.3" r="5.57"/><circle cx="1791.1" cy="669.2" r="5.57"/><circle cx="1790.2" cy="652.7" r="5.57"/><circle cx="1732.4" cy="696.7" r="5.57"/><circle cx="1768.5" cy="685.3" r="5.57"/><circle cx="1793.0" cy="661.7" r="5.57"/><circle cx="1823.2" cy="677.6" r="5.57"/><circle cx="1822.1" cy="674.3" r="5.57"/><circle cx="1800.7" cy="657.8" r="5.57"/><circle cx="1804.2" cy="658.6" r="5.57"/><circle cx="1780.3" cy="667.9" r="5.57"/><circle cx="1874.3" cy="667.4" r="5.57"/><circle cx="1761.8" cy="667.6" r="5.57"/><circle cx="1814.4" cy="677.6" r="5.57"/><circle cx="1766.1" cy="648.3" r="5.57"/><circle cx="1829.6" cy="669.6" r="5.57"/><circle cx="1850.6" cy="662.6" r="5.57"/><circle cx="1838.5" cy="684.1" r="5.57"/><circle cx="1816.7" cy="637.9" r="5.57"/><circle cx="1820.2" cy="658.8" r="5.57"/><circle cx="1764.8" cy="666.4" r="5.57"/><circle cx="1799.4" cy="677.4" r="5.57"/><circle cx="1785.4" cy="676.8" r="5.57"/><circle cx="1744.9" cy="689.7" r="5.57"/><circle cx="1789.6" cy="645.2" r="5.57"/><circle cx="1803.5" cy="659.5" r="5.57"/><circle cx="1815.8" cy="693.3" r="5.57"/><circle cx="1812.1" cy="671.3" r="5.57"/><circle cx="1792.1" cy="659.0" r="5.57"/><circle cx="1800.3" cy="657.0" r="5.57"/><circle cx="1844.7" cy="647.9" r="5.57"/><circle cx="1735.9" cy="682.3" r="5.57"/><circle cx="1758.6" cy="673.1" r="5.57"/><circle cx="1816.5" cy="662.2" r="5.57"/><circle cx="1777.9" cy="670.6" r="5.57"/><circle cx="1732.3" cy="676.6" r="5.57"/><circle cx="1804.1" cy="666.2" r="5.57"/><circle cx="1823.4" cy="679.7" r="5.57"/><circle cx="1797.8" cy="667.4" r="5.57"/><circle cx="1776.4" cy="672.7" r="5.57"/><circle cx="1818.7" cy="671.9" r="5.57"/><circle cx="1807.1" cy="679.4" r="5.57"/><circle cx="1799.2" cy="663.3" r="5.57"/><circle cx="1776.2" cy="679.7" r="5.57"/><circle cx="1791.6" cy="673.7" r="5.57"/><circle cx="1767.5" cy="672.8" r="5.57"/><circle cx="1785.9" cy="665.3" r="5.57"/><circle cx="1820.6" cy="665.0" r="5.57"/><circle cx="1841.2" cy="664.8" r="5.57"/><circle cx="1783.2" cy="675.6" r="5.57"/><circle cx="1748.6" cy="678.7" r="5.57"/><circle cx="1810.7" cy="694.6" r="5.57"/><circle cx="1838.8" cy="656.5" r="5.57"/><circle cx="1809.9" cy="659.3" r="5.57"/><circle cx="1831.8" cy="661.4" r="5.57"/><circle cx="1775.1" cy="683.2" r="5.57"/><circle cx="1807.1" cy="658.9" r="5.57"/><circle cx="1433.4" cy="819.3" r="5.57"/><circle cx="1431.0" cy="826.7" r="5.57"/><circle cx="1435.4" cy="821.7" r="5.57"/><circle cx="1449.8" cy="823.1" r="5.57"/><circle cx="1452.8" cy="829.7" r="5.57"/><circle cx="1448.3" cy="842.3" r="5.57"/><circle cx="1463.2" cy="842.3" r="5.57"/><circle cx="1453.4" cy="857.5" r="5.57"/><circle cx="1475.2" cy="846.2" r="5.57"/><circle cx="1474.3" cy="853.6" r="5.57"/><circle cx="1481.8" cy="816.3" r="5.57"/><circle cx="1486.2" cy="813.3" r="5.57"/><circle cx="1483.2" cy="822.2" r="5.57"/><circle cx="1489.2" cy="820.8" r="5.57"/><circle cx="1487.1" cy="834.2" r="5.57"/><circle cx="1489.2" cy="838.7" r="5.57"/><circle cx="1495.2" cy="843.2" r="5.57"/><circle cx="1501.2" cy="846.2" r="5.57"/><circle cx="1502.7" cy="841.7" r="5.57"/><circle cx="1487.7" cy="771.5" r="5.57"/><circle cx="1489.2" cy="775.9" r="5.57"/><circle cx="1504.2" cy="752.0" r="5.57"/><circle cx="1504.2" cy="758.0" r="5.57"/><circle cx="1508.6" cy="762.5" r="5.57"/><circle cx="1513.1" cy="768.5" r="5.57"/><circle cx="1519.1" cy="754.4" r="5.57"/><circle cx="1525.1" cy="771.5" r="5.57"/><circle cx="1534.9" cy="760.4" r="5.57"/><circle cx="1496.1" cy="795.4" r="5.57"/><circle cx="1501.2" cy="790.9" r="5.57"/><circle cx="1507.1" cy="786.4" r="5.57"/><circle cx="1514.6" cy="792.4" r="5.57"/><circle cx="1502.7" cy="811.8" r="5.57"/><circle cx="1565.4" cy="741.6" r="5.57"/><circle cx="1566.3" cy="749.1" r="5.57"/><circle cx="1599.8" cy="738.6" r="5.57"/><circle cx="1602.8" cy="746.1" r="5.57"/><circle cx="1621.3" cy="736.2" r="5.57"/><circle cx="1625.2" cy="751.4" r="5.57"/><circle cx="1616.2" cy="755.0" r="5.57"/><circle cx="1583.3" cy="755.0" r="5.57"/><circle cx="1653.5" cy="744.6" r="5.57"/><circle cx="1667.0" cy="746.1" r="5.57"/><circle cx="1658.0" cy="755.0" r="5.57"/><circle cx="1667.0" cy="761.0" r="5.57"/><circle cx="1672.4" cy="765.5" r="5.57"/><circle cx="1680.4" cy="764.0" r="5.57"/><circle cx="1692.4" cy="761.9" r="5.57"/><circle cx="1694.5" cy="767.9" r="5.57"/><circle cx="1708.2" cy="770.6" r="5.57"/><circle cx="1702.8" cy="777.4" r="5.57"/><circle cx="1698.4" cy="780.4" r="5.57"/><circle cx="1696.9" cy="789.4" r="5.57"/><circle cx="1710.3" cy="789.4" r="5.57"/><circle cx="1679.5" cy="778.9" r="5.57"/><circle cx="1712.4" cy="751.4" r="5.57"/><circle cx="1718.4" cy="763.4" r="5.57"/><circle cx="1726.1" cy="775.9" r="5.57"/><circle cx="1737.8" cy="769.1" r="5.57"/><circle cx="1747.7" cy="761.6" r="5.57"/><circle cx="1650.6" cy="774.4" r="5.57"/><circle cx="1643.1" cy="780.4" r="5.57"/><circle cx="1648.2" cy="792.4" r="5.57"/><circle cx="1633.2" cy="793.9" r="5.57"/><circle cx="1634.7" cy="802.8" r="5.57"/><circle cx="1641.6" cy="809.7" r="5.57"/><circle cx="1652.1" cy="811.8" r="5.57"/><circle cx="1661.0" cy="816.3" r="5.57"/><circle cx="1664.6" cy="819.3" r="5.57"/><circle cx="1679.5" cy="813.9" r="5.57"/><circle cx="1613.2" cy="802.8" r="5.57"/><circle cx="1620.7" cy="810.3" r="5.57"/><circle cx="1631.1" cy="819.3" r="5.57"/><circle cx="1644.6" cy="822.2" r="5.57"/><circle cx="1650.6" cy="831.2" r="5.57"/><circle cx="1635.6" cy="834.2" r="5.57"/><circle cx="1726.7" cy="822.2" r="5.57"/><circle cx="1734.2" cy="837.2" r="5.57"/><circle cx="1678.9" cy="831.2" r="5.57"/><circle cx="1689.4" cy="830.3" r="5.57"/><circle cx="1684.9" cy="838.7" r="5.57"/><circle cx="1674.5" cy="844.7" r="5.57"/><circle cx="1686.4" cy="849.1" r="5.57"/><circle cx="1702.8" cy="853.0" r="5.57"/><circle cx="1660.1" cy="853.6" r="5.57"/><circle cx="1662.5" cy="866.5" r="5.57"/><circle cx="1643.1" cy="853.6" r="5.57"/><circle cx="1637.1" cy="856.6" r="5.57"/><circle cx="1625.2" cy="860.5" r="5.57"/><circle cx="1627.6" cy="847.6" r="5.57"/><circle cx="1622.2" cy="834.2" r="5.57"/><circle cx="1611.7" cy="835.7" r="5.57"/><circle cx="1599.8" cy="849.1" r="5.57"/><circle cx="1598.3" cy="859.6" r="5.57"/><circle cx="1590.8" cy="858.1" r="5.57"/><circle cx="1595.3" cy="864.1" r="5.57"/><circle cx="1581.8" cy="845.6" r="5.57"/><circle cx="1571.4" cy="868.6" r="5.57"/><circle cx="1562.4" cy="865.6" r="5.57"/><circle cx="1550.5" cy="862.6" r="5.57"/><circle cx="1549.0" cy="852.1" r="5.57"/><circle cx="1547.5" cy="844.7" r="5.57"/><circle cx="1566.9" cy="841.7" r="5.57"/><circle cx="1520.6" cy="844.7" r="5.57"/><circle cx="1501.2" cy="811.8" r="5.57"/><circle cx="1931.0" cy="655.0" r="5.57"/><circle cx="1808.5" cy="615.3" r="5.57"/><circle cx="1827.9" cy="616.8" r="5.57"/><circle cx="1718.3" cy="628.1" r="5.57"/><circle cx="1733.2" cy="632.6" r="5.57"/><circle cx="1766.1" cy="628.1" r="5.57"/><circle cx="1761.6" cy="634.7" r="5.57"/><circle cx="1772.9" cy="631.7" r="5.57"/><circle cx="1686.9" cy="643.1" r="5.57"/><circle cx="1689.9" cy="646.6" r="5.57"/><circle cx="1698.2" cy="645.7" r="5.57"/><circle cx="1714.7" cy="646.6" r="5.57"/><circle cx="1706.3" cy="654.1" r="5.57"/><circle cx="1673.4" cy="656.2" r="5.57"/><circle cx="1713.8" cy="666.1" r="5.57"/><circle cx="1706.3" cy="672.0" r="5.57"/><circle cx="1688.4" cy="676.5" r="5.57"/><circle cx="1688.4" cy="687.9" r="5.57"/><circle cx="1700.3" cy="679.5" r="5.57"/><circle cx="1700.3" cy="685.5" r="5.57"/><circle cx="1704.2" cy="698.9" r="5.57"/><circle cx="1717.7" cy="699.8" r="5.57"/><circle cx="1722.1" cy="715.4" r="5.57"/><circle cx="1803.4" cy="714.5" r="5.57"/><circle cx="1844.6" cy="709.4" r="5.57"/><circle cx="1821.3" cy="695.0" r="5.57"/><circle cx="1837.2" cy="687.9" r="5.57"/><circle cx="1859.6" cy="691.5" r="5.57"/><circle cx="1866.2" cy="689.4" r="5.57"/><circle cx="1873.6" cy="690.9" r="5.57"/><circle cx="1860.2" cy="679.5" r="5.57"/><circle cx="1855.7" cy="666.1" r="5.57"/><circle cx="1881.1" cy="640.7" r="5.57"/><circle cx="1875.7" cy="649.0" r="5.57"/><circle cx="1872.7" cy="658.6" r="5.57"/><circle cx="1864.7" cy="625.7" r="5.57"/><circle cx="1873.6" cy="623.6" r="5.57"/><circle cx="1880.5" cy="623.6" r="5.57"/><circle cx="1843.7" cy="625.1" r="5.57"/><circle cx="1842.2" cy="639.2" r="5.57"/><circle cx="1854.2" cy="634.7" r="5.57"/><circle cx="1855.7" cy="651.1" r="5.57"/><circle cx="1743.7" cy="703.4" r="5.57"/><circle cx="1749.6" cy="701.9" r="5.57"/><circle cx="1764.6" cy="704.9" r="5.57"/><circle cx="1775.0" cy="695.9" r="5.57"/><circle cx="1798.3" cy="764.7" r="5.57"/><circle cx="1824.3" cy="764.7" r="5.57"/><circle cx="1898.1" cy="780.2" r="5.57"/><circle cx="1881.1" cy="821.4" r="5.57"/><circle cx="1640.5" cy="631.0" r="5.57"/><circle cx="1644.0" cy="634.5" r="5.57"/></g>
<path d="M1415.13 931.34L1444.87 909.69M1458.70 899.63L1488.44 877.98M1502.27 867.92L1532.01 846.27M1545.84 836.21L1575.58 814.56M1589.40 804.50L1619.15 782.85M1632.97 772.79L1662.71 751.14M1676.54 741.08L1706.28 719.43M1720.11 709.37L1749.85 687.72M1763.68 677.66L1793.42 656.01M1807.24 645.95L1836.99 624.31M1850.81 614.24L1880.55 592.60M1894.38 582.53L1924.12 560.89" stroke="#ff0000" stroke-width="8.25" fill="none" clip-path="url(#c5)"/>
<path d="M1429.20 524.71L1429.20 921.10L1973.82 921.10M1429.20 921.10L1429.20 926.87M1429.20 921.10L1423.43 921.10M1538.12 921.10L1538.12 926.87M1429.20 841.82L1423.43 841.82M1647.05 921.10L1647.05 926.87M1429.20 762.54L1423.43 762.54M1755.97 921.10L1755.97 926.87M1429.20 683.27L1423.43 683.27M1864.90 921.10L1864.90 926.87M1429.20 603.99L1423.43 603.99M1973.82 921.10L1973.82 926.87M1429.20 524.71L1423.43 524.71" stroke="#3a3a3a" stroke-width="1.69" fill="none" stroke-linecap="square"/>
<g font-size="28.04"><text transform="translate(1429.20 953.41) scale(1.000 1)" text-anchor="middle">−0.2</text><text transform="translate(1415.48 930.94) scale(1.000 1)" text-anchor="end">−0.2</text><text transform="translate(1538.12 953.41) scale(1.000 1)" text-anchor="middle">0.0</text><text transform="translate(1415.48 851.67) scale(1.000 1)" text-anchor="end">0.0</text><text transform="translate(1647.05 953.41) scale(1.000 1)" text-anchor="middle">0.2</text><text transform="translate(1415.48 772.39) scale(1.000 1)" text-anchor="end">0.2</text><text transform="translate(1755.97 953.41) scale(1.000 1)" text-anchor="middle">0.4</text><text transform="translate(1415.48 693.11) scale(1.000 1)" text-anchor="end">0.4</text><text transform="translate(1864.90 953.41) scale(1.000 1)" text-anchor="middle">0.6</text><text transform="translate(1415.48 613.83) scale(1.000 1)" text-anchor="end">0.6</text><text transform="translate(1973.82 953.41) scale(1.000 1)" text-anchor="middle">0.8</text><text transform="translate(1415.48 534.56) scale(1.000 1)" text-anchor="end">0.8</text></g>
<text transform="translate(1701.51 986.12) scale(1.000 1)" text-anchor="middle" font-size="28.35">NDVI&amp;EVI&amp;LST</text>
<text transform="translate(1641.80 558.40) scale(1.000 1)" text-anchor="middle" font-size="29.03">y=-0.196a+0.840b+0.008c-2.219</text>
<text transform="translate(1593.40 590.00) scale(1.000 1)" text-anchor="middle" font-size="29.03">RMSE=0.108</text>
<text transform="translate(1590.90 622.30) scale(1.000 1)" text-anchor="middle" font-size="29.03">R²=0.76</text>
</svg>
</body></html>
